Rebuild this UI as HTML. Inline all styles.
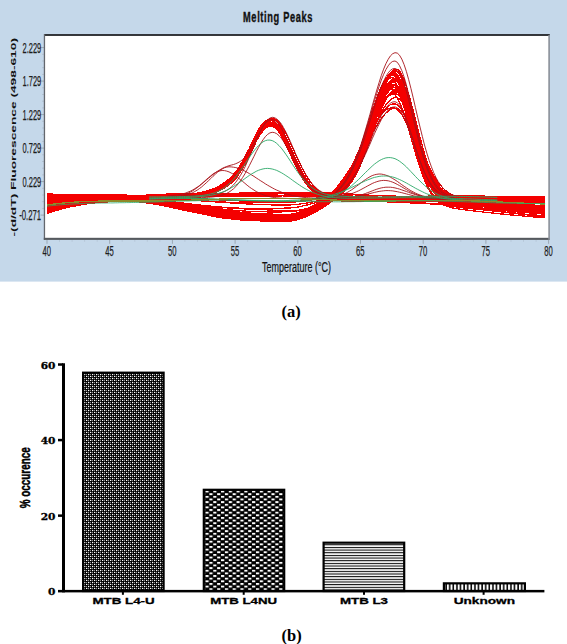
<!DOCTYPE html>
<html><head><meta charset="utf-8"><title>Melting Peaks</title>
<style>
html,body{margin:0;padding:0;background:#fff;}
body{width:567px;height:644px;overflow:hidden;}
svg{display:block;font-family:"Liberation Sans",sans-serif;}
.ser{font-family:"Liberation Serif",serif;font-weight:bold;}
.dser{font-family:"DejaVu Serif","Liberation Serif",serif;font-weight:bold;}
</style></head><body>
<svg width="567" height="644" viewBox="0 0 567 644">
<defs>
<clipPath id="cp"><rect x="45" y="36" width="503.3" height="201.8"/></clipPath>
<pattern id="p1" width="4" height="4" patternUnits="userSpaceOnUse" x="84" y="374"><rect width="4" height="4" fill="#000"/><rect x="0" y="0" width="1.3" height="1" fill="#fff"/><rect x="2" y="2" width="1.3" height="1" fill="#fff"/><rect x="2" y="-0.3" width="1" height="1.6" fill="#8a8a8a"/><rect x="0" y="1.7" width="1" height="1.6" fill="#8a8a8a"/></pattern>
<pattern id="p2" width="7.76" height="5.28" patternUnits="userSpaceOnUse" x="205.5" y="490.6"><rect width="7.76" height="5.28" fill="#000"/><rect x="0" y="0" width="3.2" height="1.9" fill="#fff"/><rect x="3.88" y="2.64" width="3.2" height="1.9" fill="#fff"/></pattern>
<pattern id="p3" width="10" height="2.66" patternUnits="userSpaceOnUse" y="544.25"><rect width="10" height="2.66" fill="#fff"/><rect y="0" width="10" height="1.05" fill="#000"/></pattern>
<pattern id="p4" width="3.6" height="10" patternUnits="userSpaceOnUse" x="446.9"><rect width="3.6" height="10" fill="#000"/><rect x="-0.1" y="0" width="2.15" height="10" fill="#fff"/></pattern>
</defs>
<rect x="0" y="0" width="567" height="281.6" fill="#c5d8ea"/>
<rect x="44" y="35" width="505" height="204" fill="#fff"/>
<line x1="40.5" y1="215.1" x2="44" y2="215.1" stroke="#9ba7b3" stroke-width="1"/>
<line x1="42" y1="208.4" x2="44" y2="208.4" stroke="#b3c3d3" stroke-width="1"/>
<line x1="42" y1="201.7" x2="44" y2="201.7" stroke="#b3c3d3" stroke-width="1"/>
<line x1="42" y1="195.0" x2="44" y2="195.0" stroke="#b3c3d3" stroke-width="1"/>
<line x1="42" y1="188.3" x2="44" y2="188.3" stroke="#b3c3d3" stroke-width="1"/>
<line x1="40.5" y1="181.6" x2="44" y2="181.6" stroke="#9ba7b3" stroke-width="1"/>
<line x1="42" y1="174.9" x2="44" y2="174.9" stroke="#b3c3d3" stroke-width="1"/>
<line x1="42" y1="168.2" x2="44" y2="168.2" stroke="#b3c3d3" stroke-width="1"/>
<line x1="42" y1="161.5" x2="44" y2="161.5" stroke="#b3c3d3" stroke-width="1"/>
<line x1="42" y1="154.8" x2="44" y2="154.8" stroke="#b3c3d3" stroke-width="1"/>
<line x1="40.5" y1="148.1" x2="44" y2="148.1" stroke="#9ba7b3" stroke-width="1"/>
<line x1="42" y1="141.4" x2="44" y2="141.4" stroke="#b3c3d3" stroke-width="1"/>
<line x1="42" y1="134.7" x2="44" y2="134.7" stroke="#b3c3d3" stroke-width="1"/>
<line x1="42" y1="128.0" x2="44" y2="128.0" stroke="#b3c3d3" stroke-width="1"/>
<line x1="42" y1="121.3" x2="44" y2="121.3" stroke="#b3c3d3" stroke-width="1"/>
<line x1="40.5" y1="114.6" x2="44" y2="114.6" stroke="#9ba7b3" stroke-width="1"/>
<line x1="42" y1="107.9" x2="44" y2="107.9" stroke="#b3c3d3" stroke-width="1"/>
<line x1="42" y1="101.2" x2="44" y2="101.2" stroke="#b3c3d3" stroke-width="1"/>
<line x1="42" y1="94.5" x2="44" y2="94.5" stroke="#b3c3d3" stroke-width="1"/>
<line x1="42" y1="87.8" x2="44" y2="87.8" stroke="#b3c3d3" stroke-width="1"/>
<line x1="40.5" y1="81.1" x2="44" y2="81.1" stroke="#9ba7b3" stroke-width="1"/>
<line x1="42" y1="74.4" x2="44" y2="74.4" stroke="#b3c3d3" stroke-width="1"/>
<line x1="42" y1="67.7" x2="44" y2="67.7" stroke="#b3c3d3" stroke-width="1"/>
<line x1="42" y1="61.0" x2="44" y2="61.0" stroke="#b3c3d3" stroke-width="1"/>
<line x1="42" y1="54.3" x2="44" y2="54.3" stroke="#b3c3d3" stroke-width="1"/>
<line x1="40.5" y1="47.6" x2="44" y2="47.6" stroke="#9ba7b3" stroke-width="1"/>
<text x="41.2" y="52.5" text-anchor="end" font-size="15" textLength="18.7" lengthAdjust="spacingAndGlyphs" fill="#1c1c1c" stroke="#1c1c1c" stroke-width="0.25">2.229</text>
<text x="41.2" y="86.0" text-anchor="end" font-size="15" textLength="18.7" lengthAdjust="spacingAndGlyphs" fill="#1c1c1c" stroke="#1c1c1c" stroke-width="0.25">1.729</text>
<text x="41.2" y="119.5" text-anchor="end" font-size="15" textLength="18.7" lengthAdjust="spacingAndGlyphs" fill="#1c1c1c" stroke="#1c1c1c" stroke-width="0.25">1.229</text>
<text x="41.2" y="153.0" text-anchor="end" font-size="15" textLength="18.7" lengthAdjust="spacingAndGlyphs" fill="#1c1c1c" stroke="#1c1c1c" stroke-width="0.25">0.729</text>
<text x="41.2" y="186.5" text-anchor="end" font-size="15" textLength="18.7" lengthAdjust="spacingAndGlyphs" fill="#1c1c1c" stroke="#1c1c1c" stroke-width="0.25">0.229</text>
<text x="41.2" y="220.0" text-anchor="end" font-size="15" textLength="22" lengthAdjust="spacingAndGlyphs" fill="#1c1c1c" stroke="#1c1c1c" stroke-width="0.25">-0.271</text>
<line x1="47.0" y1="239.8" x2="47.0" y2="243.8" stroke="#9ba7b3" stroke-width="1"/>
<line x1="59.5" y1="239.8" x2="59.5" y2="241.8" stroke="#b7c8d9" stroke-width="1"/>
<line x1="72.1" y1="239.8" x2="72.1" y2="241.8" stroke="#b7c8d9" stroke-width="1"/>
<line x1="84.6" y1="239.8" x2="84.6" y2="241.8" stroke="#b7c8d9" stroke-width="1"/>
<line x1="97.2" y1="239.8" x2="97.2" y2="241.8" stroke="#b7c8d9" stroke-width="1"/>
<line x1="109.7" y1="239.8" x2="109.7" y2="243.8" stroke="#9ba7b3" stroke-width="1"/>
<line x1="122.2" y1="239.8" x2="122.2" y2="241.8" stroke="#b7c8d9" stroke-width="1"/>
<line x1="134.8" y1="239.8" x2="134.8" y2="241.8" stroke="#b7c8d9" stroke-width="1"/>
<line x1="147.3" y1="239.8" x2="147.3" y2="241.8" stroke="#b7c8d9" stroke-width="1"/>
<line x1="159.9" y1="239.8" x2="159.9" y2="241.8" stroke="#b7c8d9" stroke-width="1"/>
<line x1="172.4" y1="239.8" x2="172.4" y2="243.8" stroke="#9ba7b3" stroke-width="1"/>
<line x1="184.9" y1="239.8" x2="184.9" y2="241.8" stroke="#b7c8d9" stroke-width="1"/>
<line x1="197.5" y1="239.8" x2="197.5" y2="241.8" stroke="#b7c8d9" stroke-width="1"/>
<line x1="210.0" y1="239.8" x2="210.0" y2="241.8" stroke="#b7c8d9" stroke-width="1"/>
<line x1="222.6" y1="239.8" x2="222.6" y2="241.8" stroke="#b7c8d9" stroke-width="1"/>
<line x1="235.1" y1="239.8" x2="235.1" y2="243.8" stroke="#9ba7b3" stroke-width="1"/>
<line x1="247.6" y1="239.8" x2="247.6" y2="241.8" stroke="#b7c8d9" stroke-width="1"/>
<line x1="260.2" y1="239.8" x2="260.2" y2="241.8" stroke="#b7c8d9" stroke-width="1"/>
<line x1="272.7" y1="239.8" x2="272.7" y2="241.8" stroke="#b7c8d9" stroke-width="1"/>
<line x1="285.3" y1="239.8" x2="285.3" y2="241.8" stroke="#b7c8d9" stroke-width="1"/>
<line x1="297.8" y1="239.8" x2="297.8" y2="243.8" stroke="#9ba7b3" stroke-width="1"/>
<line x1="310.3" y1="239.8" x2="310.3" y2="241.8" stroke="#b7c8d9" stroke-width="1"/>
<line x1="322.9" y1="239.8" x2="322.9" y2="241.8" stroke="#b7c8d9" stroke-width="1"/>
<line x1="335.4" y1="239.8" x2="335.4" y2="241.8" stroke="#b7c8d9" stroke-width="1"/>
<line x1="348.0" y1="239.8" x2="348.0" y2="241.8" stroke="#b7c8d9" stroke-width="1"/>
<line x1="360.5" y1="239.8" x2="360.5" y2="243.8" stroke="#9ba7b3" stroke-width="1"/>
<line x1="373.0" y1="239.8" x2="373.0" y2="241.8" stroke="#b7c8d9" stroke-width="1"/>
<line x1="385.6" y1="239.8" x2="385.6" y2="241.8" stroke="#b7c8d9" stroke-width="1"/>
<line x1="398.1" y1="239.8" x2="398.1" y2="241.8" stroke="#b7c8d9" stroke-width="1"/>
<line x1="410.7" y1="239.8" x2="410.7" y2="241.8" stroke="#b7c8d9" stroke-width="1"/>
<line x1="423.2" y1="239.8" x2="423.2" y2="243.8" stroke="#9ba7b3" stroke-width="1"/>
<line x1="435.7" y1="239.8" x2="435.7" y2="241.8" stroke="#b7c8d9" stroke-width="1"/>
<line x1="448.3" y1="239.8" x2="448.3" y2="241.8" stroke="#b7c8d9" stroke-width="1"/>
<line x1="460.8" y1="239.8" x2="460.8" y2="241.8" stroke="#b7c8d9" stroke-width="1"/>
<line x1="473.4" y1="239.8" x2="473.4" y2="241.8" stroke="#b7c8d9" stroke-width="1"/>
<line x1="485.9" y1="239.8" x2="485.9" y2="243.8" stroke="#9ba7b3" stroke-width="1"/>
<line x1="498.4" y1="239.8" x2="498.4" y2="241.8" stroke="#b7c8d9" stroke-width="1"/>
<line x1="511.0" y1="239.8" x2="511.0" y2="241.8" stroke="#b7c8d9" stroke-width="1"/>
<line x1="523.5" y1="239.8" x2="523.5" y2="241.8" stroke="#b7c8d9" stroke-width="1"/>
<line x1="536.1" y1="239.8" x2="536.1" y2="241.8" stroke="#b7c8d9" stroke-width="1"/>
<line x1="548.6" y1="239.8" x2="548.6" y2="243.8" stroke="#9ba7b3" stroke-width="1"/>
<text x="46.8" y="256.1" text-anchor="middle" font-size="15" textLength="8.5" lengthAdjust="spacingAndGlyphs" fill="#1c1c1c" stroke="#1c1c1c" stroke-width="0.25">40</text>
<text x="109.5" y="256.1" text-anchor="middle" font-size="15" textLength="8.5" lengthAdjust="spacingAndGlyphs" fill="#1c1c1c" stroke="#1c1c1c" stroke-width="0.25">45</text>
<text x="172.2" y="256.1" text-anchor="middle" font-size="15" textLength="8.5" lengthAdjust="spacingAndGlyphs" fill="#1c1c1c" stroke="#1c1c1c" stroke-width="0.25">50</text>
<text x="234.9" y="256.1" text-anchor="middle" font-size="15" textLength="8.5" lengthAdjust="spacingAndGlyphs" fill="#1c1c1c" stroke="#1c1c1c" stroke-width="0.25">55</text>
<text x="297.6" y="256.1" text-anchor="middle" font-size="15" textLength="8.5" lengthAdjust="spacingAndGlyphs" fill="#1c1c1c" stroke="#1c1c1c" stroke-width="0.25">60</text>
<text x="360.3" y="256.1" text-anchor="middle" font-size="15" textLength="8.5" lengthAdjust="spacingAndGlyphs" fill="#1c1c1c" stroke="#1c1c1c" stroke-width="0.25">65</text>
<text x="423.0" y="256.1" text-anchor="middle" font-size="15" textLength="8.5" lengthAdjust="spacingAndGlyphs" fill="#1c1c1c" stroke="#1c1c1c" stroke-width="0.25">70</text>
<text x="485.7" y="256.1" text-anchor="middle" font-size="15" textLength="8.5" lengthAdjust="spacingAndGlyphs" fill="#1c1c1c" stroke="#1c1c1c" stroke-width="0.25">75</text>
<text x="548.4" y="256.1" text-anchor="middle" font-size="15" textLength="8.5" lengthAdjust="spacingAndGlyphs" fill="#1c1c1c" stroke="#1c1c1c" stroke-width="0.25">80</text>
<g clip-path="url(#cp)" stroke-linejoin="round" shape-rendering="crispEdges">
<polyline points="47.0,197.8 49.3,197.7 51.5,197.7 53.8,197.6 56.1,197.6 58.4,197.5 60.6,197.5 62.9,197.5 65.2,197.5 67.5,197.4 69.7,197.4 72.0,197.4 74.3,197.4 76.6,197.4 78.8,197.5 81.1,197.5 83.4,197.5 85.7,197.5 87.9,197.5 90.2,197.6 92.5,197.6 94.8,197.6 97.0,197.7 99.3,197.7 101.6,197.7 103.9,197.8 106.1,197.8 108.4,197.8 110.7,197.9 113.0,197.9 115.2,197.9 117.5,198.0 119.8,198.0 122.1,198.0 124.3,198.0 126.6,198.1 128.9,198.1 131.2,198.1 133.4,198.1 135.7,198.1 138.0,198.1 140.2,198.1 142.5,198.1 144.8,198.1 147.1,198.1 149.3,198.1 151.6,198.1 153.9,198.0 156.2,198.0 158.4,198.0 160.7,197.9 163.0,197.9 165.3,197.8 167.5,197.8 169.8,197.7 172.1,197.6 174.4,197.5 176.6,197.4 178.9,197.3 181.2,197.1 183.5,196.9 185.7,196.7 188.0,196.4 190.3,196.1 192.6,195.7 194.8,195.3 197.1,194.8 199.4,194.3 201.7,193.7 203.9,193.1 206.2,192.4 208.5,191.6 210.8,190.8 213.0,189.9 215.3,189.0 217.6,188.0 219.9,187.0 222.1,185.9 224.4,184.6 226.7,183.2 229.0,181.7 231.2,179.9 233.5,177.9 235.8,175.5 238.0,172.8 240.3,169.8 242.6,166.4 244.9,162.7 247.1,158.6 249.4,154.4 251.7,150.0 254.0,145.6 256.2,141.2 258.5,137.2 260.8,133.4 263.1,130.2 265.3,127.7 267.6,125.9 269.9,125.0 272.2,124.9 274.4,125.8 276.7,127.4 279.0,129.7 281.3,132.7 283.5,136.3 285.8,140.4 288.1,144.8 290.4,149.5 292.6,154.3 294.9,159.0 297.2,163.7 299.5,168.2 301.7,172.4 304.0,176.3 306.3,179.9 308.6,183.1 310.8,185.9 313.1,188.4 315.4,190.5 317.7,192.4 319.9,193.9 322.2,195.2 324.5,196.3 326.7,197.2 329.0,198.0 331.3,198.6 333.6,199.1 335.8,199.5 338.1,199.7 340.4,200.0 342.7,200.1 344.9,200.2 347.2,200.3 349.5,200.3 351.8,200.4 354.0,200.4 356.3,200.4 358.6,200.3 360.9,200.3 363.1,200.3 365.4,200.2 367.7,200.2 370.0,200.1 372.2,200.1 374.5,200.0 376.8,199.9 379.1,199.9 381.3,199.8 383.6,199.7 385.9,199.6 388.2,199.6 390.4,199.5 392.7,199.4 395.0,199.4 397.3,199.3 399.5,199.3 401.8,199.2 404.1,199.2 406.4,199.1 408.6,199.1 410.9,199.1 413.2,199.0 415.4,199.0 417.7,199.0 420.0,199.0 422.3,199.0 424.5,199.0 426.8,199.0 429.1,199.1 431.4,199.1 433.6,199.1 435.9,199.2 438.2,199.2 440.5,199.3 442.7,199.3 445.0,199.4 447.3,199.5 449.6,199.5 451.8,199.6 454.1,199.7 456.4,199.8 458.7,199.9 460.9,200.0 463.2,200.1 465.5,200.2 467.8,200.3 470.0,200.4 472.3,200.6 474.6,200.7 476.9,200.8 479.1,200.9 481.4,201.0 483.7,201.2 486.0,201.3 488.2,201.4 490.5,201.6 492.8,201.7 495.1,201.8 497.3,201.9 499.6,202.1 501.9,202.2 504.1,202.3 506.4,202.4 508.7,202.6 511.0,202.7 513.2,202.8 515.5,202.9 517.8,203.0 520.1,203.1 522.3,203.2 524.6,203.3 526.9,203.4 529.2,203.5 531.4,203.6 533.7,203.7 536.0,203.8 538.3,203.8 540.5,203.9 542.8,204.0 545.1,204.1" fill="none" stroke="#f40000" stroke-width="1.3"/>
<polyline points="47.0,212.5 49.3,211.8 51.5,211.1 53.8,210.5 56.1,209.8 58.4,209.2 60.6,208.7 62.9,208.1 65.2,207.6 67.5,207.1 69.7,206.6 72.0,206.2 74.3,205.7 76.6,205.3 78.8,204.9 81.1,204.5 83.4,204.2 85.7,203.9 87.9,203.5 90.2,203.2 92.5,202.9 94.8,202.7 97.0,202.4 99.3,202.2 101.6,201.9 103.9,201.7 106.1,201.5 108.4,201.3 110.7,201.2 113.0,201.0 115.2,200.8 117.5,200.7 119.8,200.6 122.1,200.5 124.3,200.3 126.6,200.2 128.9,200.2 131.2,200.1 133.4,200.0 135.7,200.0 138.0,199.9 140.2,199.9 142.5,199.8 144.8,199.8 147.1,199.8 149.3,199.8 151.6,199.7 153.9,199.7 156.2,199.7 158.4,199.7 160.7,199.7 163.0,199.7 165.3,199.7 167.5,199.7 169.8,199.7 172.1,199.7 174.4,199.7 176.6,199.6 178.9,199.6 181.2,199.5 183.5,199.4 185.7,199.2 188.0,199.0 190.3,198.8 192.6,198.5 194.8,198.1 197.1,197.8 199.4,197.3 201.7,196.8 203.9,196.2 206.2,195.6 208.5,194.9 210.8,194.1 213.0,193.3 215.3,192.4 217.6,191.4 219.9,190.4 222.1,189.3 224.4,188.0 226.7,186.6 229.0,184.9 231.2,183.1 233.5,180.9 235.8,178.4 238.0,175.5 240.3,172.2 242.6,168.5 244.9,164.5 247.1,160.1 249.4,155.4 251.7,150.6 254.0,145.8 256.2,141.0 258.5,136.4 260.8,132.3 263.1,128.7 265.3,125.8 267.6,123.7 269.9,122.5 272.2,122.3 274.4,123.1 276.7,124.8 279.0,127.5 281.3,130.9 283.5,135.1 285.8,139.7 288.1,144.8 290.4,150.1 292.6,155.4 294.9,160.7 297.2,165.8 299.5,170.6 301.7,175.0 304.0,179.0 306.3,182.6 308.6,185.7 310.8,188.4 313.1,190.7 315.4,192.7 317.7,194.3 319.9,195.6 322.2,196.7 324.5,197.6 326.7,198.3 329.0,198.9 331.3,199.4 333.6,199.8 335.8,200.1 338.1,200.3 340.4,200.5 342.7,200.6 344.9,200.7 347.2,200.8 349.5,200.9 351.8,200.9 354.0,201.0 356.3,201.0 358.6,201.1 360.9,201.1 363.1,201.2 365.4,201.2 367.7,201.2 370.0,201.2 372.2,201.3 374.5,201.3 376.8,201.3 379.1,201.3 381.3,201.3 383.6,201.3 385.9,201.3 388.2,201.3 390.4,201.3 392.7,201.3 395.0,201.4 397.3,201.4 399.5,201.4 401.8,201.4 404.1,201.4 406.4,201.4 408.6,201.4 410.9,201.4 413.2,201.4 415.4,201.4 417.7,201.4 420.0,201.4 422.3,201.4 424.5,201.4 426.8,201.4 429.1,201.3 431.4,201.3 433.6,201.3 435.9,201.3 438.2,201.3 440.5,201.3 442.7,201.3 445.0,201.2 447.3,201.2 449.6,201.2 451.8,201.2 454.1,201.2 456.4,201.2 458.7,201.1 460.9,201.1 463.2,201.1 465.5,201.1 467.8,201.1 470.0,201.0 472.3,201.0 474.6,201.0 476.9,201.0 479.1,201.0 481.4,201.0 483.7,201.0 486.0,201.0 488.2,201.0 490.5,201.0 492.8,201.0 495.1,201.0 497.3,201.0 499.6,201.0 501.9,201.0 504.1,201.1 506.4,201.1 508.7,201.1 511.0,201.2 513.2,201.2 515.5,201.2 517.8,201.3 520.1,201.4 522.3,201.4 524.6,201.5 526.9,201.5 529.2,201.6 531.4,201.7 533.7,201.8 536.0,201.9 538.3,201.9 540.5,202.0 542.8,202.1 545.1,202.2" fill="none" stroke="#f40000" stroke-width="1.3"/>
<polyline points="47.0,201.8 49.3,201.6 51.5,201.5 53.8,201.3 56.1,201.2 58.4,201.0 60.6,200.9 62.9,200.8 65.2,200.6 67.5,200.5 69.7,200.4 72.0,200.3 74.3,200.1 76.6,200.0 78.8,199.9 81.1,199.8 83.4,199.7 85.7,199.6 87.9,199.4 90.2,199.3 92.5,199.2 94.8,199.1 97.0,199.0 99.3,198.9 101.6,198.8 103.9,198.7 106.1,198.6 108.4,198.5 110.7,198.4 113.0,198.3 115.2,198.2 117.5,198.1 119.8,198.0 122.1,197.9 124.3,197.8 126.6,197.7 128.9,197.6 131.2,197.5 133.4,197.4 135.7,197.4 138.0,197.3 140.2,197.2 142.5,197.1 144.8,197.1 147.1,197.0 149.3,197.0 151.6,196.9 153.9,196.9 156.2,196.8 158.4,196.8 160.7,196.8 163.0,196.7 165.3,196.7 167.5,196.7 169.8,196.6 172.1,196.6 174.4,196.5 176.6,196.5 178.9,196.4 181.2,196.3 183.5,196.2 185.7,196.0 188.0,195.8 190.3,195.6 192.6,195.3 194.8,195.0 197.1,194.6 199.4,194.2 201.7,193.8 203.9,193.2 206.2,192.6 208.5,192.0 210.8,191.3 213.0,190.6 215.3,189.8 217.6,189.0 219.9,188.1 222.1,187.1 224.4,186.0 226.7,184.8 229.0,183.4 231.2,181.8 233.5,179.8 235.8,177.6 238.0,174.9 240.3,171.9 242.6,168.4 244.9,164.6 247.1,160.4 249.4,155.9 251.7,151.2 254.0,146.4 256.2,141.6 258.5,137.1 260.8,132.8 263.1,129.1 265.3,126.1 267.6,123.9 269.9,122.5 272.2,122.1 274.4,122.7 276.7,124.2 279.0,126.5 281.3,129.5 283.5,133.2 285.8,137.4 288.1,142.0 290.4,146.9 292.6,152.0 294.9,157.0 297.2,161.9 299.5,166.6 301.7,171.1 304.0,175.2 306.3,178.9 308.6,182.2 310.8,185.1 313.1,187.7 315.4,189.8 317.7,191.7 319.9,193.2 322.2,194.4 324.5,195.5 326.7,196.3 329.0,197.0 331.3,197.5 333.6,197.9 335.8,198.2 338.1,198.4 340.4,198.5 342.7,198.6 344.9,198.6 347.2,198.6 349.5,198.6 351.8,198.6 354.0,198.6 356.3,198.5 358.6,198.5 360.9,198.5 363.1,198.4 365.4,198.4 367.7,198.3 370.0,198.3 372.2,198.2 374.5,198.2 376.8,198.2 379.1,198.1 381.3,198.1 383.6,198.1 385.9,198.0 388.2,198.0 390.4,198.0 392.7,198.0 395.0,198.0 397.3,198.0 399.5,198.0 401.8,198.0 404.1,198.1 406.4,198.1 408.6,198.1 410.9,198.1 413.2,198.2 415.4,198.2 417.7,198.2 420.0,198.3 422.3,198.3 424.5,198.4 426.8,198.4 429.1,198.5 431.4,198.5 433.6,198.6 435.9,198.6 438.2,198.7 440.5,198.7 442.7,198.8 445.0,198.8 447.3,198.9 449.6,198.9 451.8,198.9 454.1,199.0 456.4,199.0 458.7,199.0 460.9,199.0 463.2,199.1 465.5,199.1 467.8,199.1 470.0,199.1 472.3,199.1 474.6,199.1 476.9,199.1 479.1,199.1 481.4,199.1 483.7,199.0 486.0,199.0 488.2,199.0 490.5,199.0 492.8,198.9 495.1,198.9 497.3,198.9 499.6,198.9 501.9,198.8 504.1,198.8 506.4,198.7 508.7,198.7 511.0,198.7 513.2,198.6 515.5,198.6 517.8,198.5 520.1,198.5 522.3,198.5 524.6,198.4 526.9,198.4 529.2,198.4 531.4,198.3 533.7,198.3 536.0,198.3 538.3,198.3 540.5,198.3 542.8,198.2 545.1,198.2" fill="none" stroke="#f40000" stroke-width="1.3"/>
<polyline points="47.0,197.9 49.3,198.0 51.5,198.1 53.8,198.1 56.1,198.2 58.4,198.3 60.6,198.3 62.9,198.4 65.2,198.4 67.5,198.5 69.7,198.5 72.0,198.5 74.3,198.6 76.6,198.6 78.8,198.6 81.1,198.7 83.4,198.7 85.7,198.7 87.9,198.7 90.2,198.7 92.5,198.7 94.8,198.7 97.0,198.7 99.3,198.7 101.6,198.7 103.9,198.6 106.1,198.6 108.4,198.6 110.7,198.5 113.0,198.5 115.2,198.5 117.5,198.4 119.8,198.4 122.1,198.3 124.3,198.3 126.6,198.2 128.9,198.2 131.2,198.1 133.4,198.1 135.7,198.0 138.0,198.0 140.2,197.9 142.5,197.8 144.8,197.8 147.1,197.7 149.3,197.7 151.6,197.6 153.9,197.6 156.2,197.5 158.4,197.5 160.7,197.4 163.0,197.4 165.3,197.3 167.5,197.3 169.8,197.2 172.1,197.2 174.4,197.1 176.6,197.0 178.9,196.9 181.2,196.8 183.5,196.6 185.7,196.5 188.0,196.2 190.3,196.0 192.6,195.7 194.8,195.4 197.1,195.0 199.4,194.5 201.7,194.0 203.9,193.5 206.2,192.8 208.5,192.2 210.8,191.4 213.0,190.7 215.3,189.8 217.6,188.9 219.9,187.9 222.1,186.8 224.4,185.5 226.7,184.1 229.0,182.6 231.2,180.7 233.5,178.6 235.8,176.2 238.0,173.4 240.3,170.2 242.6,166.6 244.9,162.8 247.1,158.6 249.4,154.2 251.7,149.8 254.0,145.3 256.2,140.9 258.5,136.9 260.8,133.3 263.1,130.3 265.3,127.9 267.6,126.4 269.9,125.8 272.2,126.1 274.4,127.2 276.7,129.2 279.0,131.9 281.3,135.3 283.5,139.3 285.8,143.7 288.1,148.3 290.4,153.2 292.6,158.1 294.9,162.9 297.2,167.6 299.5,172.0 301.7,176.1 304.0,179.8 306.3,183.1 308.6,186.0 310.8,188.6 313.1,190.8 315.4,192.6 317.7,194.2 319.9,195.5 322.2,196.5 324.5,197.4 326.7,198.0 329.0,198.6 331.3,199.0 333.6,199.4 335.8,199.6 338.1,199.8 340.4,199.9 342.7,199.9 344.9,199.9 347.2,199.9 349.5,199.9 351.8,199.9 354.0,199.9 356.3,199.8 358.6,199.8 360.9,199.7 363.1,199.7 365.4,199.6 367.7,199.6 370.0,199.5 372.2,199.5 374.5,199.4 376.8,199.4 379.1,199.3 381.3,199.3 383.6,199.3 385.9,199.2 388.2,199.2 390.4,199.2 392.7,199.2 395.0,199.2 397.3,199.2 399.5,199.2 401.8,199.2 404.1,199.3 406.4,199.3 408.6,199.3 410.9,199.4 413.2,199.4 415.4,199.5 417.7,199.6 420.0,199.6 422.3,199.7 424.5,199.8 426.8,199.9 429.1,200.0 431.4,200.1 433.6,200.1 435.9,200.2 438.2,200.3 440.5,200.4 442.7,200.5 445.0,200.6 447.3,200.7 449.6,200.8 451.8,200.9 454.1,201.0 456.4,201.1 458.7,201.2 460.9,201.2 463.2,201.3 465.5,201.4 467.8,201.5 470.0,201.5 472.3,201.6 474.6,201.7 476.9,201.7 479.1,201.8 481.4,201.9 483.7,201.9 486.0,201.9 488.2,202.0 490.5,202.0 492.8,202.1 495.1,202.1 497.3,202.1 499.6,202.1 501.9,202.1 504.1,202.2 506.4,202.2 508.7,202.2 511.0,202.2 513.2,202.2 515.5,202.2 517.8,202.2 520.1,202.2 522.3,202.2 524.6,202.2 526.9,202.2 529.2,202.2 531.4,202.2 533.7,202.2 536.0,202.2 538.3,202.2 540.5,202.2 542.8,202.2 545.1,202.2" fill="none" stroke="#f40000" stroke-width="1.3"/>
<polyline points="47.0,195.9 49.3,195.8 51.5,195.8 53.8,195.8 56.1,195.7 58.4,195.7 60.6,195.7 62.9,195.7 65.2,195.7 67.5,195.7 69.7,195.7 72.0,195.7 74.3,195.7 76.6,195.7 78.8,195.7 81.1,195.7 83.4,195.8 85.7,195.8 87.9,195.8 90.2,195.9 92.5,195.9 94.8,195.9 97.0,196.0 99.3,196.0 101.6,196.1 103.9,196.1 106.1,196.2 108.4,196.2 110.7,196.3 113.0,196.3 115.2,196.4 117.5,196.4 119.8,196.5 122.1,196.6 124.3,196.6 126.6,196.7 128.9,196.7 131.2,196.7 133.4,196.8 135.7,196.8 138.0,196.9 140.2,196.9 142.5,196.9 144.8,197.0 147.1,197.0 149.3,197.0 151.6,197.0 153.9,197.0 156.2,197.0 158.4,197.0 160.7,197.0 163.0,197.0 165.3,197.0 167.5,197.0 169.8,196.9 172.1,196.9 174.4,196.8 176.6,196.7 178.9,196.6 181.2,196.4 183.5,196.3 185.7,196.0 188.0,195.8 190.3,195.5 192.6,195.1 194.8,194.7 197.1,194.2 199.4,193.7 201.7,193.1 203.9,192.4 206.2,191.7 208.5,190.9 210.8,190.0 213.0,189.0 215.3,188.0 217.6,186.8 219.9,185.6 222.1,184.2 224.4,182.7 226.7,181.0 229.0,179.1 231.2,177.0 233.5,174.5 235.8,171.7 238.0,168.6 240.3,165.1 242.6,161.2 244.9,157.1 247.1,152.7 249.4,148.2 251.7,143.6 254.0,139.1 256.2,134.8 258.5,130.8 260.8,127.3 263.1,124.4 265.3,122.2 267.6,120.9 269.9,120.4 272.2,120.9 274.4,122.3 276.7,124.5 279.0,127.5 281.3,131.2 283.5,135.4 285.8,140.1 288.1,145.1 290.4,150.3 292.6,155.4 294.9,160.5 297.2,165.3 299.5,169.8 301.7,174.1 304.0,177.9 306.3,181.3 308.6,184.3 310.8,186.9 313.1,189.1 315.4,191.0 317.7,192.6 319.9,193.9 322.2,195.0 324.5,195.9 326.7,196.7 329.0,197.3 331.3,197.7 333.6,198.1 335.8,198.4 338.1,198.6 340.4,198.8 342.7,198.9 344.9,198.9 347.2,199.0 349.5,199.0 351.8,199.0 354.0,199.0 356.3,199.0 358.6,198.9 360.9,198.9 363.1,198.8 365.4,198.7 367.7,198.7 370.0,198.6 372.2,198.5 374.5,198.4 376.8,198.3 379.1,198.2 381.3,198.1 383.6,198.0 385.9,197.9 388.2,197.8 390.4,197.7 392.7,197.5 395.0,197.4 397.3,197.3 399.5,197.2 401.8,197.1 404.1,197.0 406.4,196.9 408.6,196.8 410.9,196.7 413.2,196.6 415.4,196.5 417.7,196.4 420.0,196.4 422.3,196.3 424.5,196.2 426.8,196.2 429.1,196.1 431.4,196.0 433.6,196.0 435.9,196.0 438.2,195.9 440.5,195.9 442.7,195.8 445.0,195.8 447.3,195.8 449.6,195.8 451.8,195.8 454.1,195.8 456.4,195.8 458.7,195.8 460.9,195.8 463.2,195.8 465.5,195.8 467.8,195.9 470.0,195.9 472.3,195.9 474.6,196.0 476.9,196.0 479.1,196.0 481.4,196.1 483.7,196.1 486.0,196.2 488.2,196.2 490.5,196.3 492.8,196.4 495.1,196.4 497.3,196.5 499.6,196.5 501.9,196.6 504.1,196.7 506.4,196.7 508.7,196.8 511.0,196.9 513.2,196.9 515.5,197.0 517.8,197.1 520.1,197.1 522.3,197.2 524.6,197.2 526.9,197.3 529.2,197.3 531.4,197.4 533.7,197.4 536.0,197.5 538.3,197.5 540.5,197.6 542.8,197.6 545.1,197.6" fill="none" stroke="#f40000" stroke-width="1.3"/>
<polyline points="47.0,208.6 49.3,208.1 51.5,207.5 53.8,207.0 56.1,206.5 58.4,206.1 60.6,205.6 62.9,205.2 65.2,204.8 67.5,204.5 69.7,204.1 72.0,203.8 74.3,203.5 76.6,203.2 78.8,202.9 81.1,202.6 83.4,202.4 85.7,202.1 87.9,201.9 90.2,201.6 92.5,201.4 94.8,201.2 97.0,201.0 99.3,200.8 101.6,200.6 103.9,200.4 106.1,200.2 108.4,200.0 110.7,199.9 113.0,199.7 115.2,199.5 117.5,199.4 119.8,199.2 122.1,199.1 124.3,198.9 126.6,198.7 128.9,198.6 131.2,198.5 133.4,198.3 135.7,198.2 138.0,198.0 140.2,197.9 142.5,197.8 144.8,197.7 147.1,197.5 149.3,197.4 151.6,197.3 153.9,197.2 156.2,197.1 158.4,197.0 160.7,196.9 163.0,196.7 165.3,196.6 167.5,196.5 169.8,196.4 172.1,196.3 174.4,196.2 176.6,196.1 178.9,195.9 181.2,195.7 183.5,195.6 185.7,195.3 188.0,195.1 190.3,194.8 192.6,194.5 194.8,194.1 197.1,193.6 199.4,193.1 201.7,192.6 203.9,192.0 206.2,191.3 208.5,190.6 210.8,189.8 213.0,188.9 215.3,188.0 217.6,186.9 219.9,185.8 222.1,184.6 224.4,183.2 226.7,181.6 229.0,179.8 231.2,177.8 233.5,175.5 235.8,172.9 238.0,169.9 240.3,166.5 242.6,162.8 244.9,158.8 247.1,154.5 249.4,150.1 251.7,145.6 254.0,141.1 256.2,136.8 258.5,132.9 260.8,129.3 263.1,126.4 265.3,124.2 267.6,122.8 269.9,122.3 272.2,122.7 274.4,123.9 276.7,126.0 279.0,128.9 281.3,132.4 283.5,136.4 285.8,141.0 288.1,145.8 290.4,150.7 292.6,155.8 294.9,160.7 297.2,165.5 299.5,169.9 301.7,174.1 304.0,177.9 306.3,181.3 308.6,184.3 310.8,186.9 313.1,189.1 315.4,191.0 317.7,192.6 319.9,193.9 322.2,195.0 324.5,195.9 326.7,196.6 329.0,197.1 331.3,197.6 333.6,197.9 335.8,198.1 338.1,198.3 340.4,198.3 342.7,198.4 344.9,198.4 347.2,198.3 349.5,198.3 351.8,198.3 354.0,198.2 356.3,198.1 358.6,198.0 360.9,198.0 363.1,197.9 365.4,197.8 367.7,197.7 370.0,197.6 372.2,197.5 374.5,197.4 376.8,197.3 379.1,197.3 381.3,197.2 383.6,197.1 385.9,197.0 388.2,197.0 390.4,196.9 392.7,196.9 395.0,196.8 397.3,196.8 399.5,196.8 401.8,196.8 404.1,196.7 406.4,196.7 408.6,196.7 410.9,196.8 413.2,196.8 415.4,196.8 417.7,196.8 420.0,196.8 422.3,196.9 424.5,196.9 426.8,197.0 429.1,197.0 431.4,197.1 433.6,197.2 435.9,197.2 438.2,197.3 440.5,197.4 442.7,197.4 445.0,197.5 447.3,197.6 449.6,197.6 451.8,197.7 454.1,197.8 456.4,197.8 458.7,197.9 460.9,198.0 463.2,198.0 465.5,198.1 467.8,198.2 470.0,198.2 472.3,198.3 474.6,198.3 476.9,198.4 479.1,198.4 481.4,198.5 483.7,198.5 486.0,198.5 488.2,198.5 490.5,198.6 492.8,198.6 495.1,198.6 497.3,198.6 499.6,198.6 501.9,198.6 504.1,198.6 506.4,198.6 508.7,198.6 511.0,198.6 513.2,198.6 515.5,198.6 517.8,198.5 520.1,198.5 522.3,198.5 524.6,198.5 526.9,198.4 529.2,198.4 531.4,198.4 533.7,198.3 536.0,198.3 538.3,198.3 540.5,198.2 542.8,198.2 545.1,198.2" fill="none" stroke="#f40000" stroke-width="1.3"/>
<polyline points="47.0,201.3 49.3,201.1 51.5,200.9 53.8,200.7 56.1,200.5 58.4,200.4 60.6,200.2 62.9,200.0 65.2,199.9 67.5,199.7 69.7,199.6 72.0,199.4 74.3,199.3 76.6,199.1 78.8,199.0 81.1,198.8 83.4,198.7 85.7,198.6 87.9,198.4 90.2,198.3 92.5,198.2 94.8,198.1 97.0,198.0 99.3,197.9 101.6,197.8 103.9,197.7 106.1,197.6 108.4,197.5 110.7,197.4 113.0,197.3 115.2,197.3 117.5,197.2 119.8,197.1 122.1,197.1 124.3,197.0 126.6,197.0 128.9,197.0 131.2,196.9 133.4,196.9 135.7,196.9 138.0,196.9 140.2,196.9 142.5,196.9 144.8,196.9 147.1,196.9 149.3,196.9 151.6,196.9 153.9,196.9 156.2,196.9 158.4,196.9 160.7,197.0 163.0,197.0 165.3,197.0 167.5,197.0 169.8,197.0 172.1,197.0 174.4,197.0 176.6,197.0 178.9,197.0 181.2,196.9 183.5,196.8 185.7,196.7 188.0,196.6 190.3,196.4 192.6,196.1 194.8,195.8 197.1,195.4 199.4,195.0 201.7,194.5 203.9,194.0 206.2,193.4 208.5,192.8 210.8,192.1 213.0,191.3 215.3,190.5 217.6,189.6 219.9,188.7 222.1,187.6 224.4,186.4 226.7,185.1 229.0,183.5 231.2,181.7 233.5,179.6 235.8,177.1 238.0,174.2 240.3,170.9 242.6,167.1 244.9,162.9 247.1,158.3 249.4,153.4 251.7,148.3 254.0,143.2 256.2,138.1 258.5,133.3 260.8,128.9 263.1,125.1 265.3,122.1 267.6,119.9 269.9,118.8 272.2,118.7 274.4,119.6 276.7,121.5 279.0,124.2 281.3,127.8 283.5,131.9 285.8,136.6 288.1,141.7 290.4,147.0 292.6,152.3 294.9,157.6 297.2,162.8 299.5,167.6 301.7,172.1 304.0,176.2 306.3,179.8 308.6,183.1 310.8,185.9 313.1,188.3 315.4,190.3 317.7,192.0 319.9,193.4 322.2,194.5 324.5,195.5 326.7,196.2 329.0,196.8 331.3,197.3 333.6,197.7 335.8,198.0 338.1,198.2 340.4,198.3 342.7,198.4 344.9,198.5 347.2,198.5 349.5,198.6 351.8,198.6 354.0,198.6 356.3,198.6 358.6,198.6 360.9,198.6 363.1,198.6 365.4,198.6 367.7,198.6 370.0,198.6 372.2,198.6 374.5,198.6 376.8,198.6 379.1,198.6 381.3,198.5 383.6,198.5 385.9,198.5 388.2,198.5 390.4,198.5 392.7,198.5 395.0,198.5 397.3,198.5 399.5,198.5 401.8,198.5 404.1,198.5 406.4,198.4 408.6,198.4 410.9,198.4 413.2,198.4 415.4,198.4 417.7,198.4 420.0,198.4 422.3,198.4 424.5,198.4 426.8,198.4 429.1,198.4 431.4,198.3 433.6,198.3 435.9,198.3 438.2,198.3 440.5,198.3 442.7,198.2 445.0,198.2 447.3,198.2 449.6,198.1 451.8,198.1 454.1,198.1 456.4,198.0 458.7,198.0 460.9,197.9 463.2,197.9 465.5,197.8 467.8,197.8 470.0,197.7 472.3,197.7 474.6,197.6 476.9,197.5 479.1,197.5 481.4,197.4 483.7,197.4 486.0,197.3 488.2,197.3 490.5,197.2 492.8,197.2 495.1,197.1 497.3,197.1 499.6,197.0 501.9,197.0 504.1,197.0 506.4,196.9 508.7,196.9 511.0,196.9 513.2,196.9 515.5,196.8 517.8,196.8 520.1,196.8 522.3,196.8 524.6,196.8 526.9,196.8 529.2,196.8 531.4,196.8 533.7,196.8 536.0,196.8 538.3,196.9 540.5,196.9 542.8,196.9 545.1,197.0" fill="none" stroke="#f40000" stroke-width="1.3"/>
<polyline points="47.0,207.5 49.3,207.0 51.5,206.5 53.8,206.0 56.1,205.6 58.4,205.2 60.6,204.8 62.9,204.5 65.2,204.2 67.5,203.9 69.7,203.6 72.0,203.3 74.3,203.1 76.6,202.9 78.8,202.7 81.1,202.5 83.4,202.3 85.7,202.1 87.9,202.0 90.2,201.8 92.5,201.7 94.8,201.6 97.0,201.4 99.3,201.3 101.6,201.2 103.9,201.1 106.1,201.0 108.4,200.9 110.7,200.8 113.0,200.8 115.2,200.7 117.5,200.6 119.8,200.5 122.1,200.5 124.3,200.4 126.6,200.3 128.9,200.2 131.2,200.2 133.4,200.1 135.7,200.0 138.0,200.0 140.2,199.9 142.5,199.8 144.8,199.7 147.1,199.7 149.3,199.6 151.6,199.5 153.9,199.4 156.2,199.3 158.4,199.2 160.7,199.2 163.0,199.1 165.3,199.0 167.5,198.9 169.8,198.7 172.1,198.6 174.4,198.5 176.6,198.3 178.9,198.2 181.2,198.0 183.5,197.8 185.7,197.5 188.0,197.2 190.3,196.9 192.6,196.5 194.8,196.1 197.1,195.6 199.4,195.0 201.7,194.4 203.9,193.8 206.2,193.0 208.5,192.2 210.8,191.4 213.0,190.5 215.3,189.5 217.6,188.4 219.9,187.2 222.1,185.8 224.4,184.3 226.7,182.7 229.0,180.8 231.2,178.6 233.5,176.1 235.8,173.2 238.0,169.9 240.3,166.2 242.6,162.1 244.9,157.7 247.1,153.0 249.4,148.2 251.7,143.3 254.0,138.4 256.2,133.8 258.5,129.6 260.8,125.9 263.1,123.0 265.3,120.9 267.6,119.7 269.9,119.5 272.2,120.2 274.4,121.9 276.7,124.5 279.0,127.8 281.3,131.8 283.5,136.4 285.8,141.3 288.1,146.5 290.4,151.8 292.6,157.1 294.9,162.3 297.2,167.3 299.5,171.9 301.7,176.2 304.0,180.0 306.3,183.4 308.6,186.5 310.8,189.1 313.1,191.3 315.4,193.2 317.7,194.8 319.9,196.1 322.2,197.1 324.5,198.0 326.7,198.7 329.0,199.3 331.3,199.8 333.6,200.1 335.8,200.4 338.1,200.6 340.4,200.7 342.7,200.8 344.9,200.9 347.2,200.9 349.5,200.9 351.8,200.9 354.0,200.8 356.3,200.8 358.6,200.7 360.9,200.7 363.1,200.6 365.4,200.5 367.7,200.5 370.0,200.4 372.2,200.3 374.5,200.2 376.8,200.1 379.1,200.0 381.3,199.9 383.6,199.8 385.9,199.8 388.2,199.7 390.4,199.6 392.7,199.5 395.0,199.4 397.3,199.4 399.5,199.3 401.8,199.2 404.1,199.2 406.4,199.1 408.6,199.1 410.9,199.1 413.2,199.0 415.4,199.0 417.7,199.0 420.0,199.0 422.3,199.0 424.5,199.0 426.8,199.0 429.1,199.1 431.4,199.1 433.6,199.1 435.9,199.2 438.2,199.2 440.5,199.3 442.7,199.3 445.0,199.4 447.3,199.5 449.6,199.5 451.8,199.6 454.1,199.7 456.4,199.8 458.7,199.9 460.9,200.0 463.2,200.1 465.5,200.2 467.8,200.3 470.0,200.4 472.3,200.5 474.6,200.6 476.9,200.7 479.1,200.8 481.4,200.9 483.7,201.0 486.0,201.1 488.2,201.2 490.5,201.3 492.8,201.4 495.1,201.5 497.3,201.6 499.6,201.7 501.9,201.8 504.1,201.9 506.4,202.0 508.7,202.1 511.0,202.2 513.2,202.2 515.5,202.3 517.8,202.4 520.1,202.5 522.3,202.5 524.6,202.6 526.9,202.6 529.2,202.7 531.4,202.7 533.7,202.8 536.0,202.8 538.3,202.9 540.5,202.9 542.8,202.9 545.1,202.9" fill="none" stroke="#f40000" stroke-width="1.3"/>
<polyline points="47.0,198.7 49.3,198.6 51.5,198.5 53.8,198.3 56.1,198.2 58.4,198.1 60.6,198.0 62.9,197.9 65.2,197.8 67.5,197.7 69.7,197.6 72.0,197.5 74.3,197.4 76.6,197.3 78.8,197.2 81.1,197.1 83.4,197.0 85.7,196.9 87.9,196.8 90.2,196.7 92.5,196.6 94.8,196.6 97.0,196.5 99.3,196.4 101.6,196.3 103.9,196.3 106.1,196.2 108.4,196.2 110.7,196.1 113.0,196.1 115.2,196.0 117.5,196.0 119.8,196.0 122.1,196.0 124.3,195.9 126.6,195.9 128.9,195.9 131.2,195.9 133.4,195.9 135.7,195.9 138.0,195.9 140.2,195.9 142.5,196.0 144.8,196.0 147.1,196.0 149.3,196.0 151.6,196.1 153.9,196.1 156.2,196.1 158.4,196.2 160.7,196.2 163.0,196.2 165.3,196.3 167.5,196.3 169.8,196.3 172.1,196.3 174.4,196.3 176.6,196.3 178.9,196.3 181.2,196.2 183.5,196.2 185.7,196.0 188.0,195.9 190.3,195.7 192.6,195.4 194.8,195.1 197.1,194.7 199.4,194.3 201.7,193.8 203.9,193.2 206.2,192.6 208.5,191.9 210.8,191.2 213.0,190.3 215.3,189.4 217.6,188.4 219.9,187.4 222.1,186.2 224.4,184.8 226.7,183.3 229.0,181.6 231.2,179.7 233.5,177.5 235.8,174.9 238.0,171.9 240.3,168.6 242.6,165.0 244.9,161.0 247.1,156.7 249.4,152.3 251.7,147.8 254.0,143.2 256.2,138.9 258.5,134.9 260.8,131.3 263.1,128.3 265.3,126.0 267.6,124.5 269.9,123.9 272.2,124.2 274.4,125.3 276.7,127.2 279.0,129.8 281.3,133.0 283.5,136.7 285.8,140.9 288.1,145.4 290.4,150.0 292.6,154.7 294.9,159.4 297.2,163.9 299.5,168.2 301.7,172.2 304.0,175.9 306.3,179.3 308.6,182.3 310.8,184.9 313.1,187.2 315.4,189.1 317.7,190.8 319.9,192.2 322.2,193.4 324.5,194.4 326.7,195.2 329.0,195.9 331.3,196.4 333.6,196.8 335.8,197.2 338.1,197.4 340.4,197.6 342.7,197.7 344.9,197.8 347.2,197.9 349.5,198.0 351.8,198.0 354.0,198.1 356.3,198.1 358.6,198.1 360.9,198.1 363.1,198.1 365.4,198.2 367.7,198.2 370.0,198.2 372.2,198.2 374.5,198.2 376.8,198.2 379.1,198.2 381.3,198.2 383.6,198.2 385.9,198.1 388.2,198.1 390.4,198.1 392.7,198.1 395.0,198.1 397.3,198.1 399.5,198.1 401.8,198.1 404.1,198.1 406.4,198.1 408.6,198.1 410.9,198.1 413.2,198.1 415.4,198.1 417.7,198.1 420.0,198.1 422.3,198.0 424.5,198.0 426.8,198.0 429.1,198.0 431.4,198.0 433.6,198.0 435.9,197.9 438.2,197.9 440.5,197.9 442.7,197.9 445.0,197.8 447.3,197.8 449.6,197.8 451.8,197.7 454.1,197.7 456.4,197.7 458.7,197.6 460.9,197.6 463.2,197.5 465.5,197.5 467.8,197.5 470.0,197.4 472.3,197.4 474.6,197.3 476.9,197.3 479.1,197.2 481.4,197.2 483.7,197.2 486.0,197.1 488.2,197.1 490.5,197.1 492.8,197.0 495.1,197.0 497.3,197.0 499.6,197.0 501.9,196.9 504.1,196.9 506.4,196.9 508.7,196.9 511.0,196.9 513.2,196.9 515.5,196.9 517.8,196.9 520.1,196.9 522.3,197.0 524.6,197.0 526.9,197.0 529.2,197.0 531.4,197.1 533.7,197.1 536.0,197.2 538.3,197.2 540.5,197.3 542.8,197.3 545.1,197.4" fill="none" stroke="#f40000" stroke-width="1.3"/>
<polyline points="47.0,197.8 49.3,197.6 51.5,197.5 53.8,197.4 56.1,197.3 58.4,197.2 60.6,197.1 62.9,197.0 65.2,196.9 67.5,196.9 69.7,196.8 72.0,196.8 74.3,196.7 76.6,196.7 78.8,196.7 81.1,196.6 83.4,196.6 85.7,196.6 87.9,196.6 90.2,196.6 92.5,196.6 94.8,196.6 97.0,196.6 99.3,196.6 101.6,196.7 103.9,196.7 106.1,196.7 108.4,196.7 110.7,196.8 113.0,196.8 115.2,196.9 117.5,196.9 119.8,196.9 122.1,197.0 124.3,197.0 126.6,197.1 128.9,197.1 131.2,197.1 133.4,197.2 135.7,197.2 138.0,197.2 140.2,197.3 142.5,197.3 144.8,197.3 147.1,197.4 149.3,197.4 151.6,197.4 153.9,197.4 156.2,197.4 158.4,197.4 160.7,197.4 163.0,197.4 165.3,197.4 167.5,197.4 169.8,197.4 172.1,197.3 174.4,197.2 176.6,197.2 178.9,197.0 181.2,196.9 183.5,196.7 185.7,196.5 188.0,196.3 190.3,196.0 192.6,195.6 194.8,195.2 197.1,194.8 199.4,194.3 201.7,193.7 203.9,193.1 206.2,192.4 208.5,191.7 210.8,190.9 213.0,190.1 215.3,189.2 217.6,188.3 219.9,187.3 222.1,186.2 224.4,185.1 226.7,183.8 229.0,182.3 231.2,180.6 233.5,178.6 235.8,176.3 238.0,173.6 240.3,170.4 242.6,166.8 244.9,162.8 247.1,158.5 249.4,153.8 251.7,148.8 254.0,143.8 256.2,138.8 258.5,133.9 260.8,129.5 263.1,125.6 265.3,122.4 267.6,120.0 269.9,118.6 272.2,118.2 274.4,118.8 276.7,120.3 279.0,122.5 281.3,125.5 283.5,129.2 285.8,133.3 288.1,137.9 290.4,142.8 292.6,147.8 294.9,152.9 297.2,157.9 299.5,162.8 301.7,167.4 304.0,171.7 306.3,175.7 308.6,179.3 310.8,182.5 313.1,185.3 315.4,187.8 317.7,189.9 319.9,191.7 322.2,193.2 324.5,194.5 326.7,195.6 329.0,196.5 331.3,197.2 333.6,197.7 335.8,198.2 338.1,198.6 340.4,198.8 342.7,199.0 344.9,199.1 347.2,199.2 349.5,199.3 351.8,199.3 354.0,199.4 356.3,199.4 358.6,199.3 360.9,199.3 363.1,199.3 365.4,199.3 367.7,199.2 370.0,199.1 372.2,199.1 374.5,199.0 376.8,198.9 379.1,198.8 381.3,198.8 383.6,198.7 385.9,198.6 388.2,198.5 390.4,198.4 392.7,198.3 395.0,198.2 397.3,198.1 399.5,198.0 401.8,197.9 404.1,197.8 406.4,197.8 408.6,197.7 410.9,197.6 413.2,197.5 415.4,197.4 417.7,197.4 420.0,197.3 422.3,197.2 424.5,197.2 426.8,197.1 429.1,197.1 431.4,197.0 433.6,197.0 435.9,196.9 438.2,196.9 440.5,196.9 442.7,196.8 445.0,196.8 447.3,196.8 449.6,196.8 451.8,196.8 454.1,196.8 456.4,196.8 458.7,196.8 460.9,196.8 463.2,196.8 465.5,196.9 467.8,196.9 470.0,196.9 472.3,196.9 474.6,197.0 476.9,197.0 479.1,197.1 481.4,197.1 483.7,197.2 486.0,197.2 488.2,197.3 490.5,197.4 492.8,197.4 495.1,197.5 497.3,197.6 499.6,197.7 501.9,197.7 504.1,197.8 506.4,197.9 508.7,198.0 511.0,198.1 513.2,198.1 515.5,198.2 517.8,198.3 520.1,198.4 522.3,198.4 524.6,198.5 526.9,198.6 529.2,198.7 531.4,198.7 533.7,198.8 536.0,198.9 538.3,198.9 540.5,199.0 542.8,199.1 545.1,199.1" fill="none" stroke="#f40000" stroke-width="1.3"/>
<polyline points="47.0,197.7 49.3,197.7 51.5,197.6 53.8,197.5 56.1,197.5 58.4,197.4 60.6,197.3 62.9,197.3 65.2,197.2 67.5,197.1 69.7,197.1 72.0,197.0 74.3,197.0 76.6,197.0 78.8,196.9 81.1,196.9 83.4,196.9 85.7,196.8 87.9,196.8 90.2,196.8 92.5,196.8 94.8,196.8 97.0,196.8 99.3,196.8 101.6,196.8 103.9,196.8 106.1,196.8 108.4,196.8 110.7,196.8 113.0,196.9 115.2,196.9 117.5,196.9 119.8,197.0 122.1,197.0 124.3,197.1 126.6,197.1 128.9,197.1 131.2,197.2 133.4,197.2 135.7,197.3 138.0,197.4 140.2,197.4 142.5,197.5 144.8,197.5 147.1,197.6 149.3,197.6 151.6,197.7 153.9,197.7 156.2,197.8 158.4,197.8 160.7,197.9 163.0,197.9 165.3,197.9 167.5,198.0 169.8,198.0 172.1,198.0 174.4,198.0 176.6,197.9 178.9,197.9 181.2,197.8 183.5,197.7 185.7,197.5 188.0,197.3 190.3,197.0 192.6,196.7 194.8,196.4 197.1,195.9 199.4,195.4 201.7,194.9 203.9,194.2 206.2,193.5 208.5,192.7 210.8,191.9 213.0,190.9 215.3,189.9 217.6,188.8 219.9,187.5 222.1,186.2 224.4,184.7 226.7,183.0 229.0,181.1 231.2,179.0 233.5,176.6 235.8,173.8 238.0,170.8 240.3,167.4 242.6,163.7 244.9,159.7 247.1,155.5 249.4,151.2 251.7,146.9 254.0,142.6 256.2,138.5 258.5,134.7 260.8,131.4 263.1,128.7 265.3,126.6 267.6,125.4 269.9,124.9 272.2,125.3 274.4,126.5 276.7,128.6 279.0,131.4 281.3,134.9 283.5,138.9 285.8,143.3 288.1,148.0 290.4,152.8 292.6,157.7 294.9,162.4 297.2,167.0 299.5,171.3 301.7,175.3 304.0,179.0 306.3,182.2 308.6,185.1 310.8,187.6 313.1,189.7 315.4,191.6 317.7,193.1 319.9,194.4 322.2,195.5 324.5,196.4 326.7,197.1 329.0,197.7 331.3,198.2 333.6,198.6 335.8,198.9 338.1,199.2 340.4,199.4 342.7,199.5 344.9,199.6 347.2,199.7 349.5,199.7 351.8,199.8 354.0,199.8 356.3,199.9 358.6,199.9 360.9,199.9 363.1,199.9 365.4,199.9 367.7,199.9 370.0,199.9 372.2,199.9 374.5,199.8 376.8,199.8 379.1,199.8 381.3,199.7 383.6,199.7 385.9,199.6 388.2,199.6 390.4,199.5 392.7,199.5 395.0,199.4 397.3,199.4 399.5,199.3 401.8,199.2 404.1,199.2 406.4,199.1 408.6,199.1 410.9,199.0 413.2,198.9 415.4,198.9 417.7,198.8 420.0,198.8 422.3,198.7 424.5,198.6 426.8,198.6 429.1,198.5 431.4,198.5 433.6,198.4 435.9,198.4 438.2,198.3 440.5,198.3 442.7,198.2 445.0,198.2 447.3,198.1 449.6,198.1 451.8,198.0 454.1,198.0 456.4,197.9 458.7,197.9 460.9,197.9 463.2,197.8 465.5,197.8 467.8,197.8 470.0,197.8 472.3,197.8 474.6,197.8 476.9,197.7 479.1,197.7 481.4,197.7 483.7,197.8 486.0,197.8 488.2,197.8 490.5,197.8 492.8,197.8 495.1,197.8 497.3,197.9 499.6,197.9 501.9,198.0 504.1,198.0 506.4,198.0 508.7,198.1 511.0,198.2 513.2,198.2 515.5,198.3 517.8,198.3 520.1,198.4 522.3,198.5 524.6,198.5 526.9,198.6 529.2,198.7 531.4,198.8 533.7,198.8 536.0,198.9 538.3,199.0 540.5,199.1 542.8,199.2 545.1,199.2" fill="none" stroke="#f40000" stroke-width="1.3"/>
<polyline points="47.0,208.9 49.3,208.5 51.5,208.0 53.8,207.6 56.1,207.2 58.4,206.8 60.6,206.4 62.9,206.1 65.2,205.7 67.5,205.4 69.7,205.1 72.0,204.8 74.3,204.5 76.6,204.3 78.8,204.0 81.1,203.7 83.4,203.5 85.7,203.2 87.9,203.0 90.2,202.8 92.5,202.6 94.8,202.4 97.0,202.1 99.3,201.9 101.6,201.7 103.9,201.6 106.1,201.4 108.4,201.2 110.7,201.0 113.0,200.8 115.2,200.7 117.5,200.5 119.8,200.4 122.1,200.2 124.3,200.1 126.6,199.9 128.9,199.8 131.2,199.7 133.4,199.5 135.7,199.4 138.0,199.3 140.2,199.2 142.5,199.1 144.8,199.0 147.1,198.9 149.3,198.8 151.6,198.7 153.9,198.7 156.2,198.6 158.4,198.5 160.7,198.5 163.0,198.4 165.3,198.4 167.5,198.3 169.8,198.2 172.1,198.2 174.4,198.1 176.6,198.0 178.9,197.9 181.2,197.8 183.5,197.7 185.7,197.5 188.0,197.3 190.3,197.1 192.6,196.8 194.8,196.4 197.1,196.0 199.4,195.6 201.7,195.1 203.9,194.5 206.2,193.8 208.5,193.1 210.8,192.3 213.0,191.5 215.3,190.5 217.6,189.4 219.9,188.3 222.1,187.0 224.4,185.5 226.7,183.8 229.0,181.9 231.2,179.7 233.5,177.3 235.8,174.4 238.0,171.2 240.3,167.6 242.6,163.7 244.9,159.5 247.1,155.1 249.4,150.5 251.7,145.9 254.0,141.4 256.2,137.1 258.5,133.3 260.8,129.9 263.1,127.3 265.3,125.4 267.6,124.4 269.9,124.2 272.2,125.0 274.4,126.6 276.7,129.1 279.0,132.2 281.3,135.9 283.5,140.2 285.8,144.8 288.1,149.6 290.4,154.6 292.6,159.5 294.9,164.3 297.2,168.9 299.5,173.3 301.7,177.2 304.0,180.8 306.3,184.0 308.6,186.9 310.8,189.3 313.1,191.4 315.4,193.1 317.7,194.6 319.9,195.8 322.2,196.8 324.5,197.6 326.7,198.3 329.0,198.8 331.3,199.2 333.6,199.6 335.8,199.8 338.1,200.0 340.4,200.1 342.7,200.2 344.9,200.2 347.2,200.2 349.5,200.2 351.8,200.2 354.0,200.2 356.3,200.2 358.6,200.2 360.9,200.2 363.1,200.2 365.4,200.1 367.7,200.1 370.0,200.1 372.2,200.1 374.5,200.1 376.8,200.1 379.1,200.1 381.3,200.1 383.6,200.1 385.9,200.1 388.2,200.1 390.4,200.1 392.7,200.1 395.0,200.2 397.3,200.2 399.5,200.2 401.8,200.3 404.1,200.3 406.4,200.4 408.6,200.5 410.9,200.5 413.2,200.6 415.4,200.7 417.7,200.7 420.0,200.8 422.3,200.9 424.5,201.0 426.8,201.1 429.1,201.2 431.4,201.2 433.6,201.3 435.9,201.4 438.2,201.5 440.5,201.6 442.7,201.7 445.0,201.8 447.3,201.8 449.6,201.9 451.8,202.0 454.1,202.1 456.4,202.1 458.7,202.2 460.9,202.3 463.2,202.3 465.5,202.4 467.8,202.4 470.0,202.5 472.3,202.5 474.6,202.6 476.9,202.6 479.1,202.6 481.4,202.7 483.7,202.7 486.0,202.7 488.2,202.7 490.5,202.8 492.8,202.8 495.1,202.8 497.3,202.8 499.6,202.8 501.9,202.8 504.1,202.8 506.4,202.8 508.7,202.8 511.0,202.8 513.2,202.8 515.5,202.8 517.8,202.8 520.1,202.8 522.3,202.8 524.6,202.8 526.9,202.8 529.2,202.8 531.4,202.9 533.7,202.9 536.0,202.9 538.3,202.9 540.5,202.9 542.8,203.0 545.1,203.0" fill="none" stroke="#f40000" stroke-width="1.3"/>
<polyline points="47.0,202.9 49.3,202.6 51.5,202.3 53.8,202.0 56.1,201.8 58.4,201.5 60.6,201.3 62.9,201.1 65.2,200.9 67.5,200.6 69.7,200.4 72.0,200.3 74.3,200.1 76.6,199.9 78.8,199.7 81.1,199.6 83.4,199.4 85.7,199.3 87.9,199.1 90.2,199.0 92.5,198.9 94.8,198.8 97.0,198.7 99.3,198.6 101.6,198.5 103.9,198.4 106.1,198.4 108.4,198.3 110.7,198.2 113.0,198.2 115.2,198.2 117.5,198.1 119.8,198.1 122.1,198.1 124.3,198.1 126.6,198.0 128.9,198.0 131.2,198.0 133.4,198.0 135.7,198.1 138.0,198.1 140.2,198.1 142.5,198.1 144.8,198.1 147.1,198.2 149.3,198.2 151.6,198.2 153.9,198.3 156.2,198.3 158.4,198.3 160.7,198.4 163.0,198.4 165.3,198.4 167.5,198.5 169.8,198.5 172.1,198.5 174.4,198.5 176.6,198.4 178.9,198.4 181.2,198.3 183.5,198.2 185.7,198.1 188.0,197.9 190.3,197.6 192.6,197.4 194.8,197.0 197.1,196.6 199.4,196.2 201.7,195.7 203.9,195.1 206.2,194.5 208.5,193.8 210.8,193.0 213.0,192.2 215.3,191.3 217.6,190.4 219.9,189.4 222.1,188.3 224.4,187.0 226.7,185.7 229.0,184.1 231.2,182.3 233.5,180.2 235.8,177.8 238.0,175.0 240.3,171.8 242.6,168.2 244.9,164.2 247.1,159.9 249.4,155.4 251.7,150.8 254.0,146.1 256.2,141.5 258.5,137.2 260.8,133.3 263.1,130.0 265.3,127.3 267.6,125.6 269.9,124.7 272.2,124.8 274.4,125.7 276.7,127.5 279.0,129.9 281.3,133.0 283.5,136.7 285.8,140.8 288.1,145.3 290.4,150.0 292.6,154.7 294.9,159.4 297.2,164.0 299.5,168.5 301.7,172.6 304.0,176.4 306.3,179.9 308.6,183.0 310.8,185.8 313.1,188.2 315.4,190.3 317.7,192.0 319.9,193.6 322.2,194.8 324.5,195.9 326.7,196.8 329.0,197.5 331.3,198.1 333.6,198.5 335.8,198.9 338.1,199.2 340.4,199.4 342.7,199.6 344.9,199.7 347.2,199.8 349.5,199.9 351.8,200.0 354.0,200.0 356.3,200.0 358.6,200.1 360.9,200.1 363.1,200.1 365.4,200.1 367.7,200.1 370.0,200.1 372.2,200.1 374.5,200.1 376.8,200.1 379.1,200.1 381.3,200.0 383.6,200.0 385.9,200.0 388.2,200.0 390.4,199.9 392.7,199.9 395.0,199.9 397.3,199.9 399.5,199.8 401.8,199.8 404.1,199.8 406.4,199.7 408.6,199.7 410.9,199.6 413.2,199.6 415.4,199.6 417.7,199.5 420.0,199.5 422.3,199.4 424.5,199.4 426.8,199.4 429.1,199.3 431.4,199.3 433.6,199.2 435.9,199.2 438.2,199.1 440.5,199.1 442.7,199.0 445.0,199.0 447.3,198.9 449.6,198.9 451.8,198.8 454.1,198.8 456.4,198.7 458.7,198.7 460.9,198.6 463.2,198.6 465.5,198.6 467.8,198.5 470.0,198.5 472.3,198.4 474.6,198.4 476.9,198.4 479.1,198.4 481.4,198.3 483.7,198.3 486.0,198.3 488.2,198.3 490.5,198.3 492.8,198.3 495.1,198.3 497.3,198.3 499.6,198.3 501.9,198.3 504.1,198.3 506.4,198.3 508.7,198.3 511.0,198.4 513.2,198.4 515.5,198.4 517.8,198.5 520.1,198.5 522.3,198.6 524.6,198.6 526.9,198.7 529.2,198.7 531.4,198.8 533.7,198.8 536.0,198.9 538.3,199.0 540.5,199.0 542.8,199.1 545.1,199.2" fill="none" stroke="#f40000" stroke-width="1.3"/>
<polyline points="47.0,196.9 49.3,196.9 51.5,197.0 53.8,197.0 56.1,197.0 58.4,197.0 60.6,197.0 62.9,197.0 65.2,197.0 67.5,197.0 69.7,197.0 72.0,197.0 74.3,197.0 76.6,196.9 78.8,196.9 81.1,196.9 83.4,196.8 85.7,196.8 87.9,196.8 90.2,196.7 92.5,196.7 94.8,196.6 97.0,196.6 99.3,196.5 101.6,196.5 103.9,196.4 106.1,196.4 108.4,196.3 110.7,196.3 113.0,196.2 115.2,196.1 117.5,196.1 119.8,196.0 122.1,196.0 124.3,195.9 126.6,195.8 128.9,195.8 131.2,195.7 133.4,195.7 135.7,195.6 138.0,195.6 140.2,195.5 142.5,195.5 144.8,195.4 147.1,195.4 149.3,195.3 151.6,195.3 153.9,195.3 156.2,195.2 158.4,195.2 160.7,195.2 163.0,195.2 165.3,195.1 167.5,195.1 169.8,195.1 172.1,195.1 174.4,195.0 176.6,195.0 178.9,194.9 181.2,194.8 183.5,194.7 185.7,194.5 188.0,194.4 190.3,194.1 192.6,193.9 194.8,193.5 197.1,193.2 199.4,192.7 201.7,192.2 203.9,191.7 206.2,191.1 208.5,190.4 210.8,189.6 213.0,188.8 215.3,187.9 217.6,187.0 219.9,185.9 222.1,184.8 224.4,183.5 226.7,182.0 229.0,180.4 231.2,178.6 233.5,176.5 235.8,174.1 238.0,171.3 240.3,168.2 242.6,164.8 244.9,161.1 247.1,157.2 249.4,153.0 251.7,148.8 254.0,144.5 256.2,140.3 258.5,136.4 260.8,132.8 263.1,129.7 265.3,127.2 267.6,125.5 269.9,124.4 272.2,124.3 274.4,125.0 276.7,126.5 279.0,128.9 281.3,132.1 283.5,135.9 285.8,140.2 288.1,144.9 290.4,149.8 292.6,154.8 294.9,159.7 297.2,164.5 299.5,169.0 301.7,173.2 304.0,177.1 306.3,180.5 308.6,183.5 310.8,186.1 313.1,188.3 315.4,190.2 317.7,191.8 319.9,193.1 322.2,194.1 324.5,195.0 326.7,195.6 329.0,196.2 331.3,196.6 333.6,196.9 335.8,197.2 338.1,197.4 340.4,197.5 342.7,197.6 344.9,197.6 347.2,197.6 349.5,197.6 351.8,197.6 354.0,197.6 356.3,197.6 358.6,197.6 360.9,197.6 363.1,197.6 365.4,197.6 367.7,197.6 370.0,197.5 372.2,197.5 374.5,197.5 376.8,197.5 379.1,197.5 381.3,197.5 383.6,197.5 385.9,197.6 388.2,197.6 390.4,197.6 392.7,197.6 395.0,197.7 397.3,197.7 399.5,197.7 401.8,197.8 404.1,197.9 406.4,197.9 408.6,198.0 410.9,198.1 413.2,198.1 415.4,198.2 417.7,198.3 420.0,198.4 422.3,198.5 424.5,198.5 426.8,198.6 429.1,198.7 431.4,198.8 433.6,198.9 435.9,199.0 438.2,199.1 440.5,199.2 442.7,199.3 445.0,199.4 447.3,199.4 449.6,199.5 451.8,199.6 454.1,199.7 456.4,199.7 458.7,199.8 460.9,199.9 463.2,199.9 465.5,200.0 467.8,200.0 470.0,200.1 472.3,200.1 474.6,200.2 476.9,200.2 479.1,200.3 481.4,200.3 483.7,200.3 486.0,200.4 488.2,200.4 490.5,200.4 492.8,200.4 495.1,200.4 497.3,200.4 499.6,200.5 501.9,200.5 504.1,200.5 506.4,200.5 508.7,200.5 511.0,200.5 513.2,200.5 515.5,200.5 517.8,200.5 520.1,200.5 522.3,200.5 524.6,200.5 526.9,200.6 529.2,200.6 531.4,200.6 533.7,200.6 536.0,200.6 538.3,200.7 540.5,200.7 542.8,200.7 545.1,200.8" fill="none" stroke="#f40000" stroke-width="1.3"/>
<polyline points="47.0,208.1 49.3,207.5 51.5,207.0 53.8,206.5 56.1,206.0 58.4,205.5 60.6,205.1 62.9,204.7 65.2,204.3 67.5,203.9 69.7,203.6 72.0,203.3 74.3,203.0 76.6,202.7 78.8,202.4 81.1,202.2 83.4,201.9 85.7,201.7 87.9,201.5 90.2,201.3 92.5,201.1 94.8,201.0 97.0,200.8 99.3,200.7 101.6,200.6 103.9,200.5 106.1,200.4 108.4,200.3 110.7,200.2 113.0,200.1 115.2,200.1 117.5,200.0 119.8,200.0 122.1,199.9 124.3,199.9 126.6,199.9 128.9,199.9 131.2,199.8 133.4,199.8 135.7,199.8 138.0,199.8 140.2,199.8 142.5,199.8 144.8,199.8 147.1,199.8 149.3,199.8 151.6,199.8 153.9,199.8 156.2,199.8 158.4,199.8 160.7,199.8 163.0,199.8 165.3,199.8 167.5,199.8 169.8,199.7 172.1,199.7 174.4,199.6 176.6,199.5 178.9,199.4 181.2,199.3 183.5,199.1 185.7,199.0 188.0,198.7 190.3,198.4 192.6,198.1 194.8,197.7 197.1,197.2 199.4,196.7 201.7,196.2 203.9,195.5 206.2,194.8 208.5,194.1 210.8,193.3 213.0,192.4 215.3,191.4 217.6,190.4 219.9,189.3 222.1,188.0 224.4,186.7 226.7,185.1 229.0,183.3 231.2,181.3 233.5,178.9 235.8,176.2 238.0,173.0 240.3,169.5 242.6,165.5 244.9,161.2 247.1,156.5 249.4,151.7 251.7,146.8 254.0,141.8 256.2,137.1 258.5,132.8 260.8,129.0 263.1,125.9 265.3,123.6 267.6,122.3 269.9,121.9 272.2,122.6 274.4,124.2 276.7,126.6 279.0,129.9 281.3,133.8 283.5,138.2 285.8,143.1 288.1,148.2 290.4,153.4 292.6,158.6 294.9,163.7 297.2,168.5 299.5,173.0 301.7,177.1 304.0,180.8 306.3,184.1 308.6,187.0 310.8,189.5 313.1,191.6 315.4,193.4 317.7,194.8 319.9,196.1 322.2,197.1 324.5,197.9 326.7,198.7 329.0,199.2 331.3,199.7 333.6,200.1 335.8,200.4 338.1,200.7 340.4,200.8 342.7,201.0 344.9,201.1 347.2,201.2 349.5,201.3 351.8,201.3 354.0,201.4 356.3,201.4 358.6,201.4 360.9,201.5 363.1,201.5 365.4,201.5 367.7,201.5 370.0,201.5 372.2,201.5 374.5,201.4 376.8,201.4 379.1,201.4 381.3,201.3 383.6,201.3 385.9,201.3 388.2,201.2 390.4,201.2 392.7,201.1 395.0,201.1 397.3,201.0 399.5,201.0 401.8,200.9 404.1,200.9 406.4,200.8 408.6,200.8 410.9,200.7 413.2,200.7 415.4,200.6 417.7,200.6 420.0,200.5 422.3,200.5 424.5,200.5 426.8,200.4 429.1,200.4 431.4,200.4 433.6,200.3 435.9,200.3 438.2,200.3 440.5,200.3 442.7,200.2 445.0,200.2 447.3,200.2 449.6,200.2 451.8,200.2 454.1,200.2 456.4,200.2 458.7,200.2 460.9,200.2 463.2,200.2 465.5,200.3 467.8,200.3 470.0,200.3 472.3,200.4 474.6,200.4 476.9,200.4 479.1,200.5 481.4,200.5 483.7,200.6 486.0,200.6 488.2,200.7 490.5,200.8 492.8,200.9 495.1,200.9 497.3,201.0 499.6,201.1 501.9,201.2 504.1,201.3 506.4,201.4 508.7,201.5 511.0,201.6 513.2,201.7 515.5,201.8 517.8,201.9 520.1,202.0 522.3,202.1 524.6,202.2 526.9,202.3 529.2,202.4 531.4,202.5 533.7,202.6 536.0,202.7 538.3,202.8 540.5,202.9 542.8,203.1 545.1,203.2" fill="none" stroke="#f40000" stroke-width="1.3"/>
<polyline points="47.0,201.1 49.3,200.9 51.5,200.7 53.8,200.6 56.1,200.4 58.4,200.2 60.6,200.0 62.9,199.9 65.2,199.7 67.5,199.6 69.7,199.4 72.0,199.3 74.3,199.2 76.6,199.1 78.8,198.9 81.1,198.8 83.4,198.7 85.7,198.6 87.9,198.5 90.2,198.5 92.5,198.4 94.8,198.3 97.0,198.2 99.3,198.2 101.6,198.1 103.9,198.1 106.1,198.0 108.4,198.0 110.7,198.0 113.0,198.0 115.2,197.9 117.5,197.9 119.8,197.9 122.1,197.9 124.3,197.9 126.6,197.9 128.9,198.0 131.2,198.0 133.4,198.0 135.7,198.0 138.0,198.1 140.2,198.1 142.5,198.1 144.8,198.2 147.1,198.2 149.3,198.2 151.6,198.3 153.9,198.3 156.2,198.4 158.4,198.4 160.7,198.5 163.0,198.5 165.3,198.5 167.5,198.6 169.8,198.6 172.1,198.6 174.4,198.6 176.6,198.5 178.9,198.5 181.2,198.4 183.5,198.3 185.7,198.2 188.0,198.0 190.3,197.7 192.6,197.5 194.8,197.1 197.1,196.7 199.4,196.2 201.7,195.7 203.9,195.1 206.2,194.4 208.5,193.7 210.8,192.9 213.0,192.0 215.3,191.0 217.6,189.9 219.9,188.8 222.1,187.5 224.4,186.1 226.7,184.6 229.0,182.8 231.2,180.8 233.5,178.6 235.8,176.0 238.0,173.1 240.3,169.8 242.6,166.2 244.9,162.3 247.1,158.2 249.4,153.9 251.7,149.5 254.0,145.2 256.2,141.0 258.5,137.1 260.8,133.7 263.1,130.7 265.3,128.5 267.6,127.0 269.9,126.3 272.2,126.5 274.4,127.5 276.7,129.4 279.0,132.0 281.3,135.3 283.5,139.1 285.8,143.4 288.1,148.0 290.4,152.8 292.6,157.6 294.9,162.3 297.2,166.9 299.5,171.3 301.7,175.3 304.0,179.0 306.3,182.3 308.6,185.2 310.8,187.7 313.1,189.9 315.4,191.8 317.7,193.4 319.9,194.7 322.2,195.8 324.5,196.7 326.7,197.5 329.0,198.1 331.3,198.6 333.6,199.0 335.8,199.3 338.1,199.5 340.4,199.7 342.7,199.8 344.9,199.9 347.2,200.0 349.5,200.1 351.8,200.1 354.0,200.1 356.3,200.2 358.6,200.2 360.9,200.2 363.1,200.2 365.4,200.2 367.7,200.2 370.0,200.2 372.2,200.2 374.5,200.1 376.8,200.1 379.1,200.1 381.3,200.0 383.6,200.0 385.9,200.0 388.2,199.9 390.4,199.9 392.7,199.8 395.0,199.8 397.3,199.7 399.5,199.7 401.8,199.6 404.1,199.6 406.4,199.5 408.6,199.5 410.9,199.4 413.2,199.4 415.4,199.3 417.7,199.3 420.0,199.2 422.3,199.2 424.5,199.1 426.8,199.0 429.1,199.0 431.4,198.9 433.6,198.9 435.9,198.8 438.2,198.7 440.5,198.7 442.7,198.6 445.0,198.6 447.3,198.5 449.6,198.4 451.8,198.4 454.1,198.3 456.4,198.3 458.7,198.2 460.9,198.2 463.2,198.1 465.5,198.1 467.8,198.0 470.0,198.0 472.3,197.9 474.6,197.9 476.9,197.8 479.1,197.8 481.4,197.8 483.7,197.7 486.0,197.7 488.2,197.7 490.5,197.7 492.8,197.7 495.1,197.7 497.3,197.7 499.6,197.7 501.9,197.7 504.1,197.7 506.4,197.7 508.7,197.7 511.0,197.7 513.2,197.8 515.5,197.8 517.8,197.8 520.1,197.9 522.3,197.9 524.6,197.9 526.9,198.0 529.2,198.0 531.4,198.1 533.7,198.1 536.0,198.2 538.3,198.3 540.5,198.3 542.8,198.4 545.1,198.4" fill="none" stroke="#f40000" stroke-width="1.3"/>
<polyline points="47.0,208.9 49.3,208.3 51.5,207.8 53.8,207.3 56.1,206.8 58.4,206.4 60.6,206.0 62.9,205.6 65.2,205.2 67.5,204.9 69.7,204.6 72.0,204.3 74.3,204.0 76.6,203.8 78.8,203.5 81.1,203.3 83.4,203.1 85.7,202.9 87.9,202.7 90.2,202.6 92.5,202.4 94.8,202.3 97.0,202.2 99.3,202.0 101.6,201.9 103.9,201.8 106.1,201.7 108.4,201.6 110.7,201.5 113.0,201.5 115.2,201.4 117.5,201.3 119.8,201.2 122.1,201.2 124.3,201.1 126.6,201.1 128.9,201.0 131.2,201.1 133.4,201.1 135.7,201.2 138.0,201.3 140.2,201.4 142.5,201.5 144.8,201.6 147.1,201.7 149.3,201.8 151.6,201.9 153.9,202.0 156.2,202.2 158.4,202.3 160.7,202.4 163.0,202.6 165.3,202.7 167.5,202.9 169.8,203.1 172.1,203.3 174.4,203.5 176.6,203.7 178.9,203.9 181.2,204.2 183.5,204.4 185.7,204.6 188.0,204.8 190.3,205.0 192.6,205.2 194.8,205.3 197.1,205.5 199.4,205.7 201.7,205.9 203.9,206.0 206.2,206.2 208.5,206.4 210.8,206.6 213.0,206.8 215.3,206.9 217.6,207.1 219.9,207.3 222.1,207.5 224.4,207.7 226.7,207.8 229.0,208.0 231.2,208.1 233.5,208.2 235.8,208.3 238.0,208.5 240.3,208.6 242.6,208.7 244.9,208.9 247.1,209.0 249.4,209.1 251.7,209.3 254.0,209.4 256.2,209.5 258.5,209.5 260.8,209.6 263.1,209.7 265.3,209.8 267.6,209.9 269.9,210.0 272.2,210.1 274.4,210.2 276.7,210.3 279.0,210.4 281.3,210.5 283.5,210.5 285.8,210.5 288.1,210.5 290.4,210.5 292.6,210.5 294.9,210.4 297.2,210.3 299.5,210.1 301.7,209.8 304.0,209.4 306.3,208.9 308.6,208.4 310.8,207.8 313.1,207.1 315.4,206.4 317.7,205.6 319.9,204.7 322.2,203.7 324.5,202.7 326.7,201.6 329.0,200.4 331.3,199.0 333.6,197.5 335.8,195.8 338.1,193.9 340.4,191.7 342.7,189.3 344.9,186.5 347.2,183.5 349.5,180.2 351.8,176.4 354.0,172.4 356.3,167.9 358.6,163.1 360.9,158.0 363.1,152.6 365.4,146.9 367.7,141.1 370.0,135.1 372.2,129.1 374.5,123.2 376.8,117.5 379.1,112.1 381.3,107.1 383.6,102.6 385.9,98.7 388.2,95.5 390.4,93.2 392.7,91.6 395.0,90.9 397.3,91.3 399.5,93.1 401.8,96.4 404.1,100.9 406.4,106.5 408.6,113.1 410.9,120.3 413.2,128.0 415.4,136.0 417.7,143.9 420.0,151.6 422.3,158.9 424.5,165.8 426.8,172.1 429.1,177.7 431.4,182.7 433.6,187.0 435.9,190.7 438.2,193.9 440.5,196.4 442.7,198.6 445.0,200.3 447.3,201.7 449.6,202.8 451.8,203.7 454.1,204.4 456.4,205.0 458.7,205.5 460.9,205.9 463.2,206.3 465.5,206.6 467.8,206.9 470.0,207.1 472.3,207.4 474.6,207.6 476.9,207.8 479.1,208.1 481.4,208.3 483.7,208.5 486.0,208.8 488.2,209.0 490.5,209.2 492.8,209.5 495.1,209.7 497.3,209.9 499.6,210.1 501.9,210.4 504.1,210.6 506.4,210.8 508.7,211.0 511.0,211.2 513.2,211.5 515.5,211.7 517.8,211.9 520.1,212.1 522.3,212.3 524.6,212.5 526.9,212.7 529.2,212.9 531.4,213.1 533.7,213.3 536.0,213.4 538.3,213.6 540.5,213.8 542.8,214.0 545.1,214.1" fill="none" stroke="#f40000" stroke-width="1.3"/>
<polyline points="47.0,200.8 49.3,200.7 51.5,200.7 53.8,200.6 56.1,200.5 58.4,200.5 60.6,200.4 62.9,200.3 65.2,200.3 67.5,200.2 69.7,200.1 72.0,200.1 74.3,200.0 76.6,199.9 78.8,199.8 81.1,199.7 83.4,199.7 85.7,199.6 87.9,199.5 90.2,199.4 92.5,199.3 94.8,199.3 97.0,199.2 99.3,199.1 101.6,199.0 103.9,198.9 106.1,198.9 108.4,198.8 110.7,198.7 113.0,198.6 115.2,198.6 117.5,198.5 119.8,198.4 122.1,198.4 124.3,198.3 126.6,198.4 128.9,198.4 131.2,198.6 133.4,198.8 135.7,199.0 138.0,199.3 140.2,199.5 142.5,199.8 144.8,200.0 147.1,200.3 149.3,200.5 151.6,200.8 153.9,201.1 156.2,201.4 158.4,201.8 160.7,202.2 163.0,202.6 165.3,203.0 167.5,203.5 169.8,204.0 172.1,204.5 174.4,205.0 176.6,205.5 178.9,206.0 181.2,206.5 183.5,207.0 185.7,207.5 188.0,208.0 190.3,208.5 192.6,208.9 194.8,209.4 197.1,209.9 199.4,210.3 201.7,210.8 203.9,211.2 206.2,211.7 208.5,212.1 210.8,212.6 213.0,213.0 215.3,213.5 217.6,213.9 219.9,214.3 222.1,214.7 224.4,215.1 226.7,215.4 229.0,215.7 231.2,215.9 233.5,216.2 235.8,216.5 238.0,216.7 240.3,217.0 242.6,217.2 244.9,217.4 247.1,217.6 249.4,217.8 251.7,217.9 254.0,218.0 256.2,218.1 258.5,218.2 260.8,218.3 263.1,218.4 265.3,218.5 267.6,218.5 269.9,218.6 272.2,218.7 274.4,218.7 276.7,218.7 279.0,218.7 281.3,218.6 283.5,218.5 285.8,218.3 288.1,218.1 290.4,217.9 292.6,217.7 294.9,217.3 297.2,216.8 299.5,216.2 301.7,215.3 304.0,214.4 306.3,213.4 308.6,212.4 310.8,211.3 313.1,210.1 315.4,208.9 317.7,207.6 319.9,206.3 322.2,204.8 324.5,203.3 326.7,201.8 329.0,200.1 331.3,198.4 333.6,196.4 335.8,194.2 338.1,191.8 340.4,189.1 342.7,186.2 344.9,182.8 347.2,179.1 349.5,174.9 351.8,170.3 354.0,165.2 356.3,159.7 358.6,153.6 360.9,147.2 363.1,140.5 365.4,133.4 367.7,126.2 370.0,118.9 372.2,111.6 374.5,104.7 376.8,98.1 379.1,92.0 381.3,86.7 383.6,82.2 385.9,78.7 388.2,76.2 390.4,74.8 392.7,74.7 395.0,76.4 397.3,80.0 399.5,85.5 401.8,92.7 404.1,101.0 406.4,110.3 408.6,120.2 410.9,130.3 413.2,140.2 415.4,149.8 417.7,158.7 420.0,166.8 422.3,174.0 424.5,180.3 426.8,185.7 429.1,190.2 431.4,193.9 433.6,196.9 435.9,199.3 438.2,201.1 440.5,202.6 442.7,203.7 445.0,204.5 447.3,205.2 449.6,205.7 451.8,206.1 454.1,206.4 456.4,206.6 458.7,206.8 460.9,207.0 463.2,207.2 465.5,207.3 467.8,207.5 470.0,207.6 472.3,207.7 474.6,207.8 476.9,208.0 479.1,208.1 481.4,208.2 483.7,208.3 486.0,208.4 488.2,208.5 490.5,208.6 492.8,208.7 495.1,208.8 497.3,208.9 499.6,209.0 501.9,209.1 504.1,209.2 506.4,209.3 508.7,209.5 511.0,209.6 513.2,209.7 515.5,209.8 517.8,209.9 520.1,210.0 522.3,210.1 524.6,210.3 526.9,210.4 529.2,210.5 531.4,210.7 533.7,210.8 536.0,211.0 538.3,211.1 540.5,211.3 542.8,211.4 545.1,211.6" fill="none" stroke="#f40000" stroke-width="1.3"/>
<polyline points="47.0,210.5 49.3,209.7 51.5,209.0 53.8,208.4 56.1,207.8 58.4,207.2 60.6,206.7 62.9,206.2 65.2,205.7 67.5,205.3 69.7,204.9 72.0,204.5 74.3,204.1 76.6,203.8 78.8,203.5 81.1,203.2 83.4,202.9 85.7,202.7 87.9,202.4 90.2,202.2 92.5,202.0 94.8,201.8 97.0,201.6 99.3,201.4 101.6,201.3 103.9,201.1 106.1,201.0 108.4,200.9 110.7,200.7 113.0,200.6 115.2,200.5 117.5,200.4 119.8,200.3 122.1,200.2 124.3,200.1 126.6,200.1 128.9,200.1 131.2,200.1 133.4,200.2 135.7,200.4 138.0,200.7 140.2,200.9 142.5,201.2 144.8,201.4 147.1,201.7 149.3,201.9 151.6,202.2 153.9,202.4 156.2,202.7 158.4,203.0 160.7,203.3 163.0,203.6 165.3,204.0 167.5,204.4 169.8,204.9 172.1,205.3 174.4,205.8 176.6,206.2 178.9,206.7 181.2,207.1 183.5,207.6 185.7,208.1 188.0,208.5 190.3,208.9 192.6,209.3 194.8,209.8 197.1,210.1 199.4,210.5 201.7,210.9 203.9,211.3 206.2,211.7 208.5,212.1 210.8,212.5 213.0,212.9 215.3,213.3 217.6,213.7 219.9,214.1 222.1,214.5 224.4,214.8 226.7,215.2 229.0,215.4 231.2,215.7 233.5,216.0 235.8,216.2 238.0,216.5 240.3,216.7 242.6,217.0 244.9,217.2 247.1,217.5 249.4,217.7 251.7,217.9 254.0,218.1 256.2,218.2 258.5,218.4 260.8,218.5 263.1,218.7 265.3,218.8 267.6,219.0 269.9,219.1 272.2,219.3 274.4,219.5 276.7,219.6 279.0,219.7 281.3,219.8 283.5,219.8 285.8,219.8 288.1,219.7 290.4,219.6 292.6,219.5 294.9,219.4 297.2,219.1 299.5,218.7 301.7,218.2 304.0,217.4 306.3,216.5 308.6,215.5 310.8,214.4 313.1,213.3 315.4,212.1 317.7,210.8 319.9,209.5 322.2,208.1 324.5,206.6 326.7,205.1 329.0,203.5 331.3,201.7 333.6,199.9 335.8,197.9 338.1,195.8 340.4,193.3 342.7,190.7 344.9,187.7 347.2,184.5 349.5,180.9 351.8,176.9 354.0,172.5 356.3,167.7 358.6,162.4 360.9,156.8 363.1,150.8 365.4,144.4 367.7,137.9 370.0,131.2 372.2,124.5 374.5,117.8 376.8,111.5 379.1,105.5 381.3,100.1 383.6,95.3 385.9,91.4 388.2,88.4 390.4,86.4 392.7,85.4 395.0,85.7 397.3,87.6 399.5,91.2 401.8,96.2 404.1,102.5 406.4,109.8 408.6,117.8 410.9,126.3 413.2,134.9 415.4,143.4 417.7,151.6 420.0,159.3 422.3,166.3 424.5,172.6 426.8,178.1 429.1,182.9 431.4,187.0 433.6,190.3 435.9,193.1 438.2,195.3 440.5,197.1 442.7,198.5 445.0,199.5 447.3,200.4 449.6,201.1 451.8,201.6 454.1,202.0 456.4,202.3 458.7,202.6 460.9,202.9 463.2,203.1 465.5,203.3 467.8,203.5 470.0,203.7 472.3,203.9 474.6,204.1 476.9,204.2 479.1,204.4 481.4,204.6 483.7,204.8 486.0,205.0 488.2,205.2 490.5,205.4 492.8,205.6 495.1,205.8 497.3,206.0 499.6,206.1 501.9,206.3 504.1,206.5 506.4,206.7 508.7,206.9 511.0,207.1 513.2,207.2 515.5,207.4 517.8,207.6 520.1,207.7 522.3,207.9 524.6,208.1 526.9,208.2 529.2,208.4 531.4,208.5 533.7,208.7 536.0,208.8 538.3,209.0 540.5,209.1 542.8,209.2 545.1,209.4" fill="none" stroke="#f40000" stroke-width="1.3"/>
<polyline points="47.0,196.0 49.3,196.0 51.5,196.1 53.8,196.2 56.1,196.3 58.4,196.3 60.6,196.4 62.9,196.4 65.2,196.5 67.5,196.5 69.7,196.6 72.0,196.6 74.3,196.6 76.6,196.6 78.8,196.6 81.1,196.6 83.4,196.6 85.7,196.6 87.9,196.6 90.2,196.6 92.5,196.6 94.8,196.5 97.0,196.5 99.3,196.5 101.6,196.5 103.9,196.4 106.1,196.4 108.4,196.3 110.7,196.3 113.0,196.2 115.2,196.2 117.5,196.2 119.8,196.1 122.1,196.1 124.3,196.2 126.6,196.3 128.9,196.5 131.2,196.7 133.4,197.0 135.7,197.2 138.0,197.5 140.2,197.8 142.5,198.1 144.8,198.4 147.1,198.7 149.3,199.0 151.6,199.3 153.9,199.6 156.2,200.0 158.4,200.4 160.7,200.9 163.0,201.4 165.3,201.9 167.5,202.4 169.8,202.9 172.1,203.5 174.4,204.0 176.6,204.5 178.9,205.1 181.2,205.6 183.5,206.2 185.7,206.7 188.0,207.2 190.3,207.7 192.6,208.2 194.8,208.7 197.1,209.2 199.4,209.7 201.7,210.2 203.9,210.7 206.2,211.2 208.5,211.7 210.8,212.2 213.0,212.7 215.3,213.1 217.6,213.6 219.9,214.0 222.1,214.4 224.4,214.7 226.7,215.1 229.0,215.4 231.2,215.7 233.5,216.0 235.8,216.3 238.0,216.6 240.3,216.9 242.6,217.2 244.9,217.4 247.1,217.6 249.4,217.8 251.7,217.9 254.0,218.1 256.2,218.2 258.5,218.3 260.8,218.4 263.1,218.6 265.3,218.7 267.6,218.8 269.9,218.9 272.2,218.9 274.4,219.0 276.7,218.9 279.0,218.9 281.3,218.7 283.5,218.6 285.8,218.4 288.1,218.2 290.4,217.9 292.6,217.5 294.9,217.0 297.2,216.2 299.5,215.3 301.7,214.3 304.0,213.2 306.3,212.1 308.6,210.9 310.8,209.7 313.1,208.5 315.4,207.2 317.7,205.8 319.9,204.3 322.2,202.9 324.5,201.4 326.7,199.9 329.0,198.4 331.3,196.7 333.6,194.9 335.8,192.9 338.1,190.8 340.4,188.4 342.7,185.8 344.9,182.8 347.2,179.4 349.5,175.7 351.8,171.4 354.0,166.7 356.3,161.5 358.6,155.9 360.9,149.7 363.1,143.2 365.4,136.3 367.7,129.1 370.0,121.8 372.2,114.5 374.5,107.3 376.8,100.4 379.1,93.9 381.3,88.0 383.6,82.9 385.9,78.6 388.2,75.4 390.4,73.3 392.7,72.3 395.0,72.6 397.3,74.6 399.5,78.4 401.8,83.7 404.1,90.4 406.4,98.2 408.6,106.9 410.9,116.0 413.2,125.4 415.4,134.8 417.7,143.9 420.0,152.5 422.3,160.5 424.5,167.7 426.8,174.2 429.1,179.9 431.4,184.7 433.6,188.8 435.9,192.3 438.2,195.1 440.5,197.4 442.7,199.2 445.0,200.6 447.3,201.8 449.6,202.7 451.8,203.4 454.1,203.9 456.4,204.4 458.7,204.7 460.9,205.0 463.2,205.3 465.5,205.5 467.8,205.7 470.0,205.9 472.3,206.0 474.6,206.2 476.9,206.3 479.1,206.5 481.4,206.6 483.7,206.8 486.0,206.9 488.2,207.0 490.5,207.1 492.8,207.3 495.1,207.4 497.3,207.5 499.6,207.6 501.9,207.7 504.1,207.8 506.4,207.9 508.7,208.1 511.0,208.2 513.2,208.3 515.5,208.4 517.8,208.5 520.1,208.6 522.3,208.7 524.6,208.9 526.9,209.0 529.2,209.1 531.4,209.2 533.7,209.4 536.0,209.5 538.3,209.6 540.5,209.8 542.8,209.9 545.1,210.1" fill="none" stroke="#f40000" stroke-width="1.3"/>
<polyline points="47.0,197.9 49.3,198.0 51.5,198.0 53.8,198.1 56.1,198.1 58.4,198.2 60.6,198.2 62.9,198.3 65.2,198.3 67.5,198.3 69.7,198.3 72.0,198.3 74.3,198.3 76.6,198.3 78.8,198.3 81.1,198.3 83.4,198.3 85.7,198.2 87.9,198.2 90.2,198.2 92.5,198.2 94.8,198.1 97.0,198.1 99.3,198.0 101.6,198.0 103.9,198.0 106.1,197.9 108.4,197.9 110.7,197.8 113.0,197.8 115.2,197.8 117.5,197.7 119.8,197.7 122.1,197.7 124.3,197.7 126.6,197.7 128.9,197.8 131.2,197.9 133.4,198.1 135.7,198.3 138.0,198.6 140.2,198.9 142.5,199.2 144.8,199.5 147.1,199.8 149.3,200.1 151.6,200.4 153.9,200.7 156.2,201.0 158.4,201.3 160.7,201.7 163.0,202.2 165.3,202.6 167.5,203.1 169.8,203.6 172.1,204.2 174.4,204.7 176.6,205.2 178.9,205.7 181.2,206.2 183.5,206.8 185.7,207.3 188.0,207.8 190.3,208.3 192.6,208.8 194.8,209.3 197.1,209.7 199.4,210.2 201.7,210.7 203.9,211.1 206.2,211.6 208.5,212.1 210.8,212.5 213.0,213.0 215.3,213.5 217.6,213.9 219.9,214.3 222.1,214.7 224.4,215.1 226.7,215.4 229.0,215.7 231.2,216.0 233.5,216.3 235.8,216.5 238.0,216.8 240.3,217.1 242.6,217.3 244.9,217.5 247.1,217.7 249.4,217.9 251.7,218.1 254.0,218.2 256.2,218.3 258.5,218.4 260.8,218.4 263.1,218.5 265.3,218.6 267.6,218.7 269.9,218.7 272.2,218.8 274.4,218.8 276.7,218.9 279.0,218.8 281.3,218.8 283.5,218.7 285.8,218.5 288.1,218.3 290.4,218.1 292.6,217.9 294.9,217.6 297.2,217.2 299.5,216.6 301.7,215.8 304.0,214.9 306.3,213.9 308.6,212.9 310.8,211.8 313.1,210.6 315.4,209.3 317.7,208.0 319.9,206.6 322.2,205.1 324.5,203.5 326.7,201.8 329.0,200.0 331.3,198.1 333.6,196.0 335.8,193.7 338.1,191.1 340.4,188.3 342.7,185.2 344.9,181.7 347.2,178.0 349.5,173.8 351.8,169.2 354.0,164.2 356.3,158.8 358.6,153.0 360.9,146.9 363.1,140.5 365.4,133.8 367.7,127.0 370.0,120.1 372.2,113.3 374.5,106.8 376.8,100.6 379.1,94.9 381.3,89.8 383.6,85.5 385.9,82.0 388.2,79.5 390.4,78.0 392.7,77.6 395.0,78.5 397.3,81.0 399.5,84.9 401.8,90.2 404.1,96.6 406.4,103.9 408.6,111.9 410.9,120.3 413.2,128.9 415.4,137.4 417.7,145.7 420.0,153.6 422.3,161.0 424.5,167.7 426.8,173.7 429.1,179.0 431.4,183.7 433.6,187.6 435.9,190.9 438.2,193.6 440.5,195.9 442.7,197.7 445.0,199.1 447.3,200.3 449.6,201.1 451.8,201.8 454.1,202.3 456.4,202.7 458.7,203.0 460.9,203.3 463.2,203.4 465.5,203.6 467.8,203.7 470.0,203.8 472.3,203.8 474.6,203.9 476.9,204.0 479.1,204.0 481.4,204.0 483.7,204.1 486.0,204.1 488.2,204.2 490.5,204.2 492.8,204.2 495.1,204.3 497.3,204.3 499.6,204.3 501.9,204.4 504.1,204.4 506.4,204.5 508.7,204.5 511.0,204.5 513.2,204.6 515.5,204.6 517.8,204.7 520.1,204.7 522.3,204.8 524.6,204.9 526.9,204.9 529.2,205.0 531.4,205.1 533.7,205.1 536.0,205.2 538.3,205.3 540.5,205.4 542.8,205.5 545.1,205.6" fill="none" stroke="#f40000" stroke-width="1.3"/>
<polyline points="47.0,202.7 49.3,202.5 51.5,202.4 53.8,202.2 56.1,202.1 58.4,202.0 60.6,201.8 62.9,201.7 65.2,201.6 67.5,201.5 69.7,201.3 72.0,201.2 74.3,201.1 76.6,201.0 78.8,200.9 81.1,200.8 83.4,200.7 85.7,200.6 87.9,200.5 90.2,200.4 92.5,200.3 94.8,200.2 97.0,200.1 99.3,200.0 101.6,199.9 103.9,199.8 106.1,199.7 108.4,199.5 110.7,199.4 113.0,199.3 115.2,199.2 117.5,199.2 119.8,199.1 122.1,199.0 124.3,198.9 126.6,198.9 128.9,199.0 131.2,199.1 133.4,199.3 135.7,199.5 138.0,199.8 140.2,200.0 142.5,200.3 144.8,200.5 147.1,200.8 149.3,201.1 151.6,201.3 153.9,201.6 156.2,201.9 158.4,202.3 160.7,202.7 163.0,203.1 165.3,203.6 167.5,204.1 169.8,204.6 172.1,205.1 174.4,205.7 176.6,206.2 178.9,206.7 181.2,207.3 183.5,207.8 185.7,208.3 188.0,208.9 190.3,209.4 192.6,209.9 194.8,210.4 197.1,210.9 199.4,211.4 201.7,211.9 203.9,212.4 206.2,212.9 208.5,213.4 210.8,213.9 213.0,214.4 215.3,214.9 217.6,215.4 219.9,215.9 222.1,216.3 224.4,216.7 226.7,217.1 229.0,217.4 231.2,217.8 233.5,218.1 235.8,218.4 238.0,218.7 240.3,219.0 242.6,219.3 244.9,219.6 247.1,219.9 249.4,220.1 251.7,220.3 254.0,220.4 256.2,220.6 258.5,220.7 260.8,220.9 263.1,221.0 265.3,221.1 267.6,221.3 269.9,221.4 272.2,221.5 274.4,221.6 276.7,221.6 279.0,221.6 281.3,221.6 283.5,221.5 285.8,221.3 288.1,221.2 290.4,221.0 292.6,220.7 294.9,220.4 297.2,219.9 299.5,219.1 301.7,218.3 304.0,217.2 306.3,216.1 308.6,214.9 310.8,213.7 313.1,212.5 315.4,211.2 317.7,209.8 319.9,208.3 322.2,206.7 324.5,205.2 326.7,203.5 329.0,201.8 331.3,200.0 333.6,198.0 335.8,195.9 338.1,193.6 340.4,191.0 342.7,188.2 344.9,185.2 347.2,181.8 349.5,178.0 351.8,173.8 354.0,169.2 356.3,164.2 358.6,158.7 360.9,152.9 363.1,146.7 365.4,140.2 367.7,133.5 370.0,126.7 372.2,119.9 374.5,113.3 376.8,107.0 379.1,101.1 381.3,95.7 383.6,91.2 385.9,87.4 388.2,84.6 390.4,82.8 392.7,82.2 395.0,82.8 397.3,85.3 399.5,89.5 401.8,95.3 404.1,102.3 406.4,110.4 408.6,119.1 410.9,128.1 413.2,137.2 415.4,146.0 417.7,154.3 420.0,162.0 422.3,168.9 424.5,175.0 426.8,180.3 429.1,184.8 431.4,188.5 433.6,191.5 435.9,193.9 438.2,195.8 440.5,197.3 442.7,198.4 445.0,199.3 447.3,199.9 449.6,200.4 451.8,200.7 454.1,201.0 456.4,201.2 458.7,201.4 460.9,201.5 463.2,201.6 465.5,201.7 467.8,201.8 470.0,201.8 472.3,201.9 474.6,201.9 476.9,202.0 479.1,202.0 481.4,202.0 483.7,202.1 486.0,202.1 488.2,202.1 490.5,202.2 492.8,202.2 495.1,202.2 497.3,202.2 499.6,202.2 501.9,202.2 504.1,202.2 506.4,202.2 508.7,202.2 511.0,202.2 513.2,202.2 515.5,202.2 517.8,202.2 520.1,202.2 522.3,202.2 524.6,202.2 526.9,202.2 529.2,202.2 531.4,202.2 533.7,202.2 536.0,202.2 538.3,202.2 540.5,202.2 542.8,202.3 545.1,202.3" fill="none" stroke="#f40000" stroke-width="1.3"/>
<polyline points="47.0,199.6 49.3,199.4 51.5,199.2 53.8,199.1 56.1,198.9 58.4,198.7 60.6,198.5 62.9,198.3 65.2,198.2 67.5,198.0 69.7,197.9 72.0,197.7 74.3,197.6 76.6,197.4 78.8,197.3 81.1,197.1 83.4,197.0 85.7,196.9 87.9,196.8 90.2,196.7 92.5,196.5 94.8,196.4 97.0,196.3 99.3,196.2 101.6,196.2 103.9,196.1 106.1,196.0 108.4,195.9 110.7,195.8 113.0,195.8 115.2,195.7 117.5,195.7 119.8,195.6 122.1,195.6 124.3,195.6 126.6,195.6 128.9,195.6 131.2,195.6 133.4,195.7 135.7,195.8 138.0,195.9 140.2,196.0 142.5,196.1 144.8,196.2 147.1,196.3 149.3,196.4 151.6,196.6 153.9,196.7 156.2,196.8 158.4,197.0 160.7,197.2 163.0,197.3 165.3,197.5 167.5,197.7 169.8,197.9 172.1,198.1 174.4,198.3 176.6,198.5 178.9,198.8 181.2,199.0 183.5,199.2 185.7,199.4 188.0,199.6 190.3,199.8 192.6,199.9 194.8,200.1 197.1,200.3 199.4,200.5 201.7,200.6 203.9,200.8 206.2,201.0 208.5,201.1 210.8,201.3 213.0,201.4 215.3,201.6 217.6,201.7 219.9,201.9 222.1,202.0 224.4,202.1 226.7,202.2 229.0,202.2 231.2,202.3 233.5,202.4 235.8,202.4 238.0,202.5 240.3,202.5 242.6,202.6 244.9,202.6 247.1,202.6 249.4,202.6 251.7,202.6 254.0,202.6 256.2,202.6 258.5,202.6 260.8,202.6 263.1,202.5 265.3,202.5 267.6,202.5 269.9,202.5 272.2,202.4 274.4,202.4 276.7,202.4 279.0,202.3 281.3,202.2 283.5,202.2 285.8,202.1 288.1,202.0 290.4,201.9 292.6,201.8 294.9,201.6 297.2,201.4 299.5,201.2 301.7,200.9 304.0,200.6 306.3,200.2 308.6,199.8 310.8,199.3 313.1,198.9 315.4,198.3 317.7,197.8 319.9,197.1 322.2,196.4 324.5,195.5 326.7,194.6 329.0,193.6 331.3,192.4 333.6,191.0 335.8,189.3 338.1,187.4 340.4,185.1 342.7,182.5 344.9,179.5 347.2,176.1 349.5,172.2 351.8,167.8 354.0,163.0 356.3,157.7 358.6,151.9 360.9,145.7 363.1,139.2 365.4,132.4 367.7,125.4 370.0,118.4 372.2,111.4 374.5,104.7 376.8,98.2 379.1,92.3 381.3,87.1 383.6,82.6 385.9,79.0 388.2,76.4 390.4,74.9 392.7,74.4 395.0,75.5 397.3,78.2 399.5,82.6 401.8,88.5 404.1,95.6 406.4,103.6 408.6,112.3 410.9,121.4 413.2,130.6 415.4,139.6 417.7,148.3 420.0,156.4 422.3,163.8 424.5,170.5 426.8,176.4 429.1,181.5 431.4,185.8 433.6,189.4 435.9,192.4 438.2,194.8 440.5,196.7 442.7,198.3 445.0,199.4 447.3,200.3 449.6,201.0 451.8,201.5 454.1,201.9 456.4,202.2 458.7,202.5 460.9,202.7 463.2,202.8 465.5,202.9 467.8,203.0 470.0,203.1 472.3,203.2 474.6,203.3 476.9,203.4 479.1,203.5 481.4,203.6 483.7,203.6 486.0,203.7 488.2,203.8 490.5,203.9 492.8,204.0 495.1,204.1 497.3,204.2 499.6,204.3 501.9,204.4 504.1,204.5 506.4,204.6 508.7,204.8 511.0,204.9 513.2,205.0 515.5,205.2 517.8,205.3 520.1,205.4 522.3,205.6 524.6,205.7 526.9,205.9 529.2,206.0 531.4,206.2 533.7,206.4 536.0,206.6 538.3,206.7 540.5,206.9 542.8,207.1 545.1,207.3" fill="none" stroke="#f40000" stroke-width="1.3"/>
<polyline points="47.0,200.4 49.3,200.1 51.5,199.8 53.8,199.5 56.1,199.3 58.4,199.1 60.6,198.9 62.9,198.6 65.2,198.4 67.5,198.3 69.7,198.1 72.0,197.9 74.3,197.8 76.6,197.6 78.8,197.5 81.1,197.4 83.4,197.2 85.7,197.1 87.9,197.0 90.2,197.0 92.5,196.9 94.8,196.8 97.0,196.7 99.3,196.7 101.6,196.6 103.9,196.6 106.1,196.6 108.4,196.5 110.7,196.5 113.0,196.5 115.2,196.5 117.5,196.5 119.8,196.5 122.1,196.5 124.3,196.6 126.6,196.7 128.9,196.8 131.2,197.1 133.4,197.3 135.7,197.6 138.0,198.0 140.2,198.3 142.5,198.6 144.8,199.0 147.1,199.3 149.3,199.7 151.6,200.0 153.9,200.3 156.2,200.7 158.4,201.1 160.7,201.5 163.0,202.0 165.3,202.5 167.5,203.0 169.8,203.5 172.1,204.0 174.4,204.5 176.6,205.0 178.9,205.5 181.2,206.0 183.5,206.5 185.7,207.0 188.0,207.4 190.3,207.9 192.6,208.3 194.8,208.7 197.1,209.1 199.4,209.5 201.7,209.9 203.9,210.3 206.2,210.7 208.5,211.1 210.8,211.4 213.0,211.8 215.3,212.2 217.6,212.5 219.9,212.9 222.1,213.2 224.4,213.4 226.7,213.6 229.0,213.9 231.2,214.0 233.5,214.2 235.8,214.4 238.0,214.6 240.3,214.8 242.6,215.0 244.9,215.1 247.1,215.2 249.4,215.4 251.7,215.4 254.0,215.5 256.2,215.6 258.5,215.6 260.8,215.7 263.1,215.7 265.3,215.8 267.6,215.9 269.9,215.9 272.2,216.0 274.4,216.1 276.7,216.1 279.0,216.1 281.3,216.0 283.5,216.0 285.8,215.8 288.1,215.7 290.4,215.6 292.6,215.4 294.9,215.1 297.2,214.7 299.5,214.1 301.7,213.3 304.0,212.5 306.3,211.5 308.6,210.6 310.8,209.6 313.1,208.5 315.4,207.4 317.7,206.3 319.9,205.1 322.2,203.8 324.5,202.6 326.7,201.3 329.0,200.0 331.3,198.6 333.6,197.1 335.8,195.4 338.1,193.6 340.4,191.6 342.7,189.4 344.9,186.9 347.2,184.1 349.5,181.0 351.8,177.5 354.0,173.6 356.3,169.3 358.6,164.5 360.9,159.3 363.1,153.7 365.4,147.8 367.7,141.6 370.0,135.1 372.2,128.6 374.5,122.2 376.8,115.9 379.1,109.9 381.3,104.4 383.6,99.4 385.9,95.2 388.2,91.8 390.4,89.4 392.7,87.9 395.0,87.5 397.3,88.4 399.5,90.7 401.8,94.3 404.1,99.0 406.4,104.9 408.6,111.5 410.9,118.7 413.2,126.4 415.4,134.2 417.7,142.0 420.0,149.6 422.3,156.8 424.5,163.5 426.8,169.6 429.1,175.2 431.4,180.1 433.6,184.3 435.9,188.0 438.2,191.1 440.5,193.6 442.7,195.8 445.0,197.5 447.3,198.8 449.6,199.9 451.8,200.8 454.1,201.5 456.4,202.0 458.7,202.4 460.9,202.8 463.2,203.1 465.5,203.3 467.8,203.5 470.0,203.7 472.3,203.9 474.6,204.0 476.9,204.2 479.1,204.3 481.4,204.5 483.7,204.7 486.0,204.8 488.2,205.0 490.5,205.2 492.8,205.3 495.1,205.5 497.3,205.7 499.6,205.9 501.9,206.1 504.1,206.3 506.4,206.5 508.7,206.7 511.0,206.9 513.2,207.1 515.5,207.3 517.8,207.5 520.1,207.7 522.3,207.9 524.6,208.2 526.9,208.4 529.2,208.6 531.4,208.8 533.7,209.1 536.0,209.3 538.3,209.5 540.5,209.7 542.8,210.0 545.1,210.2" fill="none" stroke="#f40000" stroke-width="1.3"/>
<polyline points="47.0,212.9 49.3,212.2 51.5,211.4 53.8,210.7 56.1,210.0 58.4,209.4 60.6,208.8 62.9,208.2 65.2,207.6 67.5,207.1 69.7,206.5 72.0,206.0 74.3,205.6 76.6,205.1 78.8,204.7 81.1,204.3 83.4,203.9 85.7,203.5 87.9,203.1 90.2,202.8 92.5,202.5 94.8,202.2 97.0,201.9 99.3,201.6 101.6,201.3 103.9,201.1 106.1,200.8 108.4,200.6 110.7,200.4 113.0,200.2 115.2,200.0 117.5,199.8 119.8,199.7 122.1,199.6 124.3,199.6 126.6,199.6 128.9,199.7 131.2,199.9 133.4,200.1 135.7,200.4 138.0,200.6 140.2,200.9 142.5,201.2 144.8,201.5 147.1,201.8 149.3,202.1 151.6,202.4 153.9,202.7 156.2,203.1 158.4,203.6 160.7,204.1 163.0,204.6 165.3,205.1 167.5,205.7 169.8,206.2 172.1,206.8 174.4,207.4 176.6,208.0 178.9,208.5 181.2,209.1 183.5,209.7 185.7,210.2 188.0,210.7 190.3,211.3 192.6,211.8 194.8,212.3 197.1,212.8 199.4,213.3 201.7,213.7 203.9,214.2 206.2,214.7 208.5,215.2 210.8,215.7 213.0,216.2 215.3,216.6 217.6,217.1 219.9,217.5 222.1,217.8 224.4,218.1 226.7,218.4 229.0,218.7 231.2,218.9 233.5,219.2 235.8,219.4 238.0,219.7 240.3,219.9 242.6,220.1 244.9,220.3 247.1,220.4 249.4,220.5 251.7,220.6 254.0,220.7 256.2,220.8 258.5,220.8 260.8,220.9 263.1,220.9 265.3,221.0 267.6,221.1 269.9,221.1 272.2,221.1 274.4,221.1 276.7,221.1 279.0,220.9 281.3,220.8 283.5,220.6 285.8,220.4 288.1,220.2 290.4,219.9 292.6,219.5 294.9,218.9 297.2,218.2 299.5,217.3 301.7,216.2 304.0,215.1 306.3,213.9 308.6,212.8 310.8,211.6 313.1,210.3 315.4,209.0 317.7,207.7 319.9,206.3 322.2,204.9 324.5,203.5 326.7,202.2 329.0,200.8 331.3,199.3 333.6,197.8 335.8,196.1 338.1,194.4 340.4,192.4 342.7,190.3 344.9,187.9 347.2,185.2 349.5,182.1 351.8,178.7 354.0,174.7 356.3,170.4 358.6,165.6 360.9,160.2 363.1,154.5 365.4,148.3 367.7,141.8 370.0,135.0 372.2,128.0 374.5,121.0 376.8,114.2 379.1,107.6 381.3,101.4 383.6,95.8 385.9,90.9 388.2,86.9 390.4,83.8 392.7,81.8 395.0,80.8 397.3,81.2 399.5,83.2 401.8,87.0 404.1,92.4 406.4,99.2 408.6,107.0 410.9,115.6 413.2,124.7 415.4,133.9 417.7,143.0 420.0,151.7 422.3,159.9 424.5,167.4 426.8,174.1 429.1,180.0 431.4,185.0 433.6,189.3 435.9,192.9 438.2,195.7 440.5,198.1 442.7,199.9 445.0,201.3 447.3,202.4 449.6,203.3 451.8,203.9 454.1,204.4 456.4,204.8 458.7,205.1 460.9,205.3 463.2,205.5 465.5,205.6 467.8,205.7 470.0,205.9 472.3,206.0 474.6,206.1 476.9,206.2 479.1,206.2 481.4,206.3 483.7,206.4 486.0,206.5 488.2,206.6 490.5,206.7 492.8,206.8 495.1,206.9 497.3,207.1 499.6,207.2 501.9,207.3 504.1,207.4 506.4,207.5 508.7,207.7 511.0,207.8 513.2,207.9 515.5,208.1 517.8,208.2 520.1,208.4 522.3,208.5 524.6,208.7 526.9,208.8 529.2,209.0 531.4,209.2 533.7,209.4 536.0,209.5 538.3,209.7 540.5,209.9 542.8,210.1 545.1,210.3" fill="none" stroke="#f40000" stroke-width="1.3"/>
<polyline points="47.0,207.7 49.3,207.0 51.5,206.4 53.8,205.8 56.1,205.3 58.4,204.7 60.6,204.2 62.9,203.7 65.2,203.3 67.5,202.9 69.7,202.5 72.0,202.1 74.3,201.8 76.6,201.5 78.8,201.2 81.1,200.9 83.4,200.7 85.7,200.4 87.9,200.2 90.2,200.0 92.5,199.8 94.8,199.6 97.0,199.5 99.3,199.3 101.6,199.2 103.9,199.1 106.1,198.9 108.4,198.8 110.7,198.8 113.0,198.7 115.2,198.6 117.5,198.5 119.8,198.5 122.1,198.4 124.3,198.3 126.6,198.3 128.9,198.3 131.2,198.4 133.4,198.5 135.7,198.6 138.0,198.8 140.2,199.1 142.5,199.3 144.8,199.5 147.1,199.8 149.3,200.0 151.6,200.3 153.9,200.5 156.2,200.8 158.4,201.0 160.7,201.3 163.0,201.6 165.3,201.9 167.5,202.3 169.8,202.7 172.1,203.1 174.4,203.5 176.6,203.9 178.9,204.3 181.2,204.7 183.5,205.1 185.7,205.5 188.0,205.8 190.3,206.2 192.6,206.6 194.8,206.9 197.1,207.2 199.4,207.6 201.7,207.9 203.9,208.2 206.2,208.5 208.5,208.8 210.8,209.1 213.0,209.4 215.3,209.8 217.6,210.1 219.9,210.4 222.1,210.7 224.4,211.0 226.7,211.2 229.0,211.4 231.2,211.6 233.5,211.8 235.8,212.0 238.0,212.2 240.3,212.3 242.6,212.5 244.9,212.7 247.1,212.9 249.4,213.0 251.7,213.2 254.0,213.3 256.2,213.4 258.5,213.5 260.8,213.6 263.1,213.7 265.3,213.8 267.6,213.9 269.9,214.0 272.2,214.1 274.4,214.2 276.7,214.3 279.0,214.4 281.3,214.5 283.5,214.5 285.8,214.5 288.1,214.4 290.4,214.4 292.6,214.3 294.9,214.2 297.2,214.0 299.5,213.8 301.7,213.4 304.0,212.8 306.3,212.1 308.6,211.3 310.8,210.5 313.1,209.6 315.4,208.6 317.7,207.7 319.9,206.6 322.2,205.5 324.5,204.3 326.7,203.0 329.0,201.6 331.3,200.2 333.6,198.6 335.8,196.9 338.1,195.0 340.4,192.8 342.7,190.4 344.9,187.7 347.2,184.6 349.5,181.1 351.8,177.2 354.0,172.8 356.3,167.9 358.6,162.4 360.9,156.5 363.1,150.0 365.4,143.1 367.7,135.9 370.0,128.4 372.2,120.7 374.5,113.0 376.8,105.4 379.1,98.2 381.3,91.6 383.6,85.5 385.9,80.4 388.2,76.2 390.4,73.1 392.7,71.2 395.0,70.6 397.3,71.6 399.5,74.7 401.8,79.7 404.1,86.3 406.4,94.3 408.6,103.2 410.9,112.8 413.2,122.6 415.4,132.3 417.7,141.7 420.0,150.5 422.3,158.5 424.5,165.7 426.8,171.9 429.1,177.2 431.4,181.7 433.6,185.3 435.9,188.2 438.2,190.5 440.5,192.3 442.7,193.6 445.0,194.6 447.3,195.3 449.6,195.9 451.8,196.2 454.1,196.5 456.4,196.7 458.7,196.8 460.9,197.0 463.2,197.0 465.5,197.1 467.8,197.2 470.0,197.2 472.3,197.3 474.6,197.4 476.9,197.4 479.1,197.5 481.4,197.6 483.7,197.7 486.0,197.7 488.2,197.8 490.5,197.9 492.8,198.0 495.1,198.1 497.3,198.2 499.6,198.3 501.9,198.4 504.1,198.5 506.4,198.6 508.7,198.6 511.0,198.7 513.2,198.8 515.5,198.9 517.8,199.0 520.1,199.1 522.3,199.2 524.6,199.3 526.9,199.4 529.2,199.5 531.4,199.6 533.7,199.6 536.0,199.7 538.3,199.8 540.5,199.9 542.8,199.9 545.1,200.0" fill="none" stroke="#f40000" stroke-width="1.3"/>
<polyline points="47.0,208.2 49.3,207.6 51.5,207.1 53.8,206.6 56.1,206.1 58.4,205.6 60.6,205.2 62.9,204.8 65.2,204.4 67.5,204.1 69.7,203.7 72.0,203.4 74.3,203.1 76.6,202.9 78.8,202.6 81.1,202.4 83.4,202.2 85.7,202.0 87.9,201.8 90.2,201.6 92.5,201.5 94.8,201.3 97.0,201.2 99.3,201.1 101.6,201.0 103.9,200.9 106.1,200.8 108.4,200.7 110.7,200.6 113.0,200.6 115.2,200.5 117.5,200.5 119.8,200.4 122.1,200.4 124.3,200.4 126.6,200.5 128.9,200.7 131.2,200.9 133.4,201.1 135.7,201.4 138.0,201.7 140.2,202.1 142.5,202.4 144.8,202.7 147.1,203.0 149.3,203.3 151.6,203.6 153.9,204.0 156.2,204.3 158.4,204.7 160.7,205.1 163.0,205.6 165.3,206.1 167.5,206.6 169.8,207.1 172.1,207.6 174.4,208.1 176.6,208.6 178.9,209.1 181.2,209.6 183.5,210.1 185.7,210.6 188.0,211.0 190.3,211.5 192.6,211.9 194.8,212.3 197.1,212.7 199.4,213.1 201.7,213.5 203.9,213.9 206.2,214.3 208.5,214.7 210.8,215.1 213.0,215.5 215.3,215.9 217.6,216.2 219.9,216.6 222.1,216.9 224.4,217.2 226.7,217.4 229.0,217.6 231.2,217.9 233.5,218.1 235.8,218.3 238.0,218.5 240.3,218.7 242.6,218.9 244.9,219.1 247.1,219.3 249.4,219.4 251.7,219.5 254.0,219.6 256.2,219.7 258.5,219.8 260.8,219.9 263.1,220.0 265.3,220.2 267.6,220.3 269.9,220.4 272.2,220.5 274.4,220.6 276.7,220.6 279.0,220.7 281.3,220.6 283.5,220.5 285.8,220.5 288.1,220.3 290.4,220.2 292.6,220.0 294.9,219.7 297.2,219.2 299.5,218.5 301.7,217.6 304.0,216.7 306.3,215.7 308.6,214.6 310.8,213.5 313.1,212.4 315.4,211.2 317.7,209.9 319.9,208.6 322.2,207.2 324.5,205.9 326.7,204.5 329.0,203.2 331.3,201.7 333.6,200.2 335.8,198.5 338.1,196.7 340.4,194.8 342.7,192.6 344.9,190.2 347.2,187.6 349.5,184.6 351.8,181.3 354.0,177.5 356.3,173.4 358.6,168.8 360.9,163.8 363.1,158.4 365.4,152.7 367.7,146.6 370.0,140.4 372.2,134.0 374.5,127.6 376.8,121.3 379.1,115.2 381.3,109.5 383.6,104.4 385.9,99.8 388.2,96.0 390.4,93.1 392.7,91.1 395.0,90.1 397.3,90.2 399.5,92.0 401.8,95.4 404.1,100.3 406.4,106.6 408.6,113.9 410.9,122.0 413.2,130.6 415.4,139.3 417.7,147.9 420.0,156.2 422.3,163.9 424.5,171.0 426.8,177.4 429.1,183.0 431.4,187.8 433.6,191.8 435.9,195.2 438.2,197.9 440.5,200.2 442.7,201.9 445.0,203.3 447.3,204.4 449.6,205.2 451.8,205.9 454.1,206.4 456.4,206.8 458.7,207.2 460.9,207.5 463.2,207.8 465.5,208.0 467.8,208.3 470.0,208.5 472.3,208.7 474.6,209.0 476.9,209.2 479.1,209.4 481.4,209.7 483.7,209.9 486.0,210.2 488.2,210.4 490.5,210.7 492.8,210.9 495.1,211.2 497.3,211.4 499.6,211.7 501.9,212.0 504.1,212.2 506.4,212.5 508.7,212.8 511.0,213.0 513.2,213.3 515.5,213.6 517.8,213.8 520.1,214.1 522.3,214.4 524.6,214.6 526.9,214.9 529.2,215.2 531.4,215.4 533.7,215.7 536.0,216.0 538.3,216.2 540.5,216.5 542.8,216.7 545.1,217.0" fill="none" stroke="#f40000" stroke-width="1.3"/>
<polyline points="47.0,195.3 49.3,195.2 51.5,195.2 53.8,195.1 56.1,195.0 58.4,195.0 60.6,194.9 62.9,194.9 65.2,194.8 67.5,194.8 69.7,194.7 72.0,194.7 74.3,194.6 76.6,194.6 78.8,194.6 81.1,194.5 83.4,194.5 85.7,194.5 87.9,194.5 90.2,194.5 92.5,194.5 94.8,194.5 97.0,194.5 99.3,194.5 101.6,194.5 103.9,194.5 106.1,194.5 108.4,194.5 110.7,194.5 113.0,194.6 115.2,194.6 117.5,194.6 119.8,194.7 122.1,194.8 124.3,194.9 126.6,195.1 128.9,195.4 131.2,195.7 133.4,196.0 135.7,196.3 138.0,196.7 140.2,197.1 142.5,197.4 144.8,197.8 147.1,198.1 149.3,198.5 151.6,198.9 153.9,199.2 156.2,199.7 158.4,200.1 160.7,200.6 163.0,201.1 165.3,201.6 167.5,202.2 169.8,202.7 172.1,203.2 174.4,203.7 176.6,204.3 178.9,204.8 181.2,205.3 183.5,205.8 185.7,206.3 188.0,206.7 190.3,207.2 192.6,207.6 194.8,208.0 197.1,208.4 199.4,208.8 201.7,209.2 203.9,209.6 206.2,210.0 208.5,210.4 210.8,210.8 213.0,211.2 215.3,211.5 217.6,211.9 219.9,212.2 222.1,212.5 224.4,212.7 226.7,212.9 229.0,213.1 231.2,213.3 233.5,213.5 235.8,213.7 238.0,213.8 240.3,214.0 242.6,214.2 244.9,214.3 247.1,214.4 249.4,214.5 251.7,214.5 254.0,214.6 256.2,214.6 258.5,214.7 260.8,214.7 263.1,214.8 265.3,214.9 267.6,214.9 269.9,215.0 272.2,215.0 274.4,215.0 276.7,215.0 279.0,214.9 281.3,214.8 283.5,214.7 285.8,214.5 288.1,214.4 290.4,214.2 292.6,213.9 294.9,213.4 297.2,212.7 299.5,212.0 301.7,211.0 304.0,210.1 306.3,209.0 308.6,208.0 310.8,206.8 313.1,205.6 315.4,204.4 317.7,203.0 319.9,201.6 322.2,200.0 324.5,198.5 326.7,196.9 329.0,195.1 331.3,193.2 333.6,191.2 335.8,188.9 338.1,186.5 340.4,183.8 342.7,180.8 344.9,177.6 347.2,174.0 349.5,170.1 351.8,165.8 354.0,161.2 356.3,156.3 358.6,151.0 360.9,145.5 363.1,139.7 365.4,133.8 367.7,127.8 370.0,121.9 372.2,116.0 374.5,110.4 376.8,105.2 379.1,100.4 381.3,96.2 383.6,92.7 385.9,89.9 388.2,87.9 390.4,86.9 392.7,86.7 395.0,87.9 397.3,90.8 399.5,95.1 401.8,100.8 404.1,107.6 406.4,115.2 408.6,123.3 410.9,131.7 413.2,140.1 415.4,148.2 417.7,156.0 420.0,163.1 422.3,169.5 424.5,175.3 426.8,180.2 429.1,184.4 431.4,188.0 433.6,190.9 435.9,193.2 438.2,195.1 440.5,196.5 442.7,197.7 445.0,198.5 447.3,199.2 449.6,199.7 451.8,200.1 454.1,200.3 456.4,200.6 458.7,200.7 460.9,200.9 463.2,201.0 465.5,201.1 467.8,201.2 470.0,201.3 472.3,201.4 474.6,201.5 476.9,201.6 479.1,201.7 481.4,201.8 483.7,201.9 486.0,202.1 488.2,202.2 490.5,202.3 492.8,202.5 495.1,202.6 497.3,202.7 499.6,202.9 501.9,203.0 504.1,203.2 506.4,203.3 508.7,203.5 511.0,203.7 513.2,203.9 515.5,204.0 517.8,204.2 520.1,204.4 522.3,204.6 524.6,204.8 526.9,204.9 529.2,205.1 531.4,205.3 533.7,205.5 536.0,205.7 538.3,205.9 540.5,206.1 542.8,206.3 545.1,206.5" fill="none" stroke="#f40000" stroke-width="1.3"/>
<polyline points="47.0,199.1 49.3,199.2 51.5,199.2 53.8,199.2 56.1,199.3 58.4,199.3 60.6,199.3 62.9,199.3 65.2,199.3 67.5,199.3 69.7,199.3 72.0,199.3 74.3,199.3 76.6,199.3 78.8,199.2 81.1,199.2 83.4,199.2 85.7,199.1 87.9,199.1 90.2,199.1 92.5,199.0 94.8,199.0 97.0,198.9 99.3,198.9 101.6,198.8 103.9,198.8 106.1,198.7 108.4,198.7 110.7,198.6 113.0,198.6 115.2,198.5 117.5,198.4 119.8,198.4 122.1,198.3 124.3,198.3 126.6,198.3 128.9,198.3 131.2,198.4 133.4,198.5 135.7,198.6 138.0,198.7 140.2,198.9 142.5,199.1 144.8,199.2 147.1,199.4 149.3,199.6 151.6,199.7 153.9,199.9 156.2,200.1 158.4,200.3 160.7,200.5 163.0,200.8 165.3,201.1 167.5,201.4 169.8,201.7 172.1,202.0 174.4,202.4 176.6,202.7 178.9,203.0 181.2,203.4 183.5,203.7 185.7,204.1 188.0,204.4 190.3,204.7 192.6,205.0 194.8,205.4 197.1,205.7 199.4,206.0 201.7,206.3 203.9,206.6 206.2,206.9 208.5,207.2 210.8,207.6 213.0,207.9 215.3,208.2 217.6,208.5 219.9,208.8 222.1,209.1 224.4,209.3 226.7,209.6 229.0,209.8 231.2,210.0 233.5,210.2 235.8,210.4 238.0,210.5 240.3,210.7 242.6,210.9 244.9,211.1 247.1,211.2 249.4,211.3 251.7,211.4 254.0,211.5 256.2,211.6 258.5,211.7 260.8,211.7 263.1,211.8 265.3,211.8 267.6,211.9 269.9,211.9 272.2,211.9 274.4,212.0 276.7,212.0 279.0,212.0 281.3,211.9 283.5,211.8 285.8,211.7 288.1,211.6 290.4,211.5 292.6,211.3 294.9,211.1 297.2,210.8 299.5,210.4 301.7,209.9 304.0,209.3 306.3,208.7 308.6,208.0 310.8,207.2 313.1,206.4 315.4,205.6 317.7,204.7 319.9,203.7 322.2,202.7 324.5,201.6 326.7,200.4 329.0,199.0 331.3,197.6 333.6,196.0 335.8,194.2 338.1,192.2 340.4,189.9 342.7,187.4 344.9,184.5 347.2,181.3 349.5,177.8 351.8,173.9 354.0,169.5 356.3,164.8 358.6,159.7 360.9,154.2 363.1,148.4 365.4,142.3 367.7,136.1 370.0,129.7 372.2,123.4 374.5,117.3 376.8,111.4 379.1,105.9 381.3,100.9 383.6,96.5 385.9,92.9 388.2,90.1 390.4,88.3 392.7,87.4 395.0,87.6 397.3,89.0 399.5,91.8 401.8,95.8 404.1,100.8 406.4,106.8 408.6,113.4 410.9,120.6 413.2,128.0 415.4,135.6 417.7,143.1 420.0,150.4 422.3,157.3 424.5,163.7 426.8,169.6 429.1,174.8 431.4,179.5 433.6,183.6 435.9,187.1 438.2,190.0 440.5,192.5 442.7,194.5 445.0,196.1 447.3,197.4 449.6,198.5 451.8,199.3 454.1,199.9 456.4,200.4 458.7,200.8 460.9,201.0 463.2,201.2 465.5,201.4 467.8,201.5 470.0,201.5 472.3,201.6 474.6,201.6 476.9,201.7 479.1,201.7 481.4,201.7 483.7,201.7 486.0,201.7 488.2,201.7 490.5,201.7 492.8,201.6 495.1,201.6 497.3,201.6 499.6,201.6 501.9,201.6 504.1,201.6 506.4,201.6 508.7,201.5 511.0,201.5 513.2,201.5 515.5,201.5 517.8,201.5 520.1,201.5 522.3,201.5 524.6,201.5 526.9,201.5 529.2,201.5 531.4,201.5 533.7,201.5 536.0,201.5 538.3,201.5 540.5,201.6 542.8,201.6 545.1,201.6" fill="none" stroke="#f40000" stroke-width="1.3"/>
<polyline points="47.0,210.3 49.3,209.6 51.5,208.9 53.8,208.3 56.1,207.7 58.4,207.2 60.6,206.7 62.9,206.2 65.2,205.7 67.5,205.2 69.7,204.8 72.0,204.4 74.3,204.1 76.6,203.7 78.8,203.4 81.1,203.1 83.4,202.8 85.7,202.6 87.9,202.3 90.2,202.1 92.5,201.9 94.8,201.7 97.0,201.5 99.3,201.3 101.6,201.2 103.9,201.1 106.1,200.9 108.4,200.8 110.7,200.7 113.0,200.6 115.2,200.5 117.5,200.5 119.8,200.4 122.1,200.3 124.3,200.3 126.6,200.3 128.9,200.3 131.2,200.5 133.4,200.6 135.7,200.8 138.0,201.1 140.2,201.3 142.5,201.6 144.8,201.8 147.1,202.1 149.3,202.4 151.6,202.6 153.9,202.9 156.2,203.1 158.4,203.4 160.7,203.8 163.0,204.1 165.3,204.5 167.5,204.9 169.8,205.3 172.1,205.8 174.4,206.2 176.6,206.6 178.9,207.0 181.2,207.4 183.5,207.8 185.7,208.2 188.0,208.6 190.3,209.0 192.6,209.4 194.8,209.7 197.1,210.0 199.4,210.4 201.7,210.7 203.9,211.0 206.2,211.3 208.5,211.7 210.8,212.0 213.0,212.3 215.3,212.6 217.6,212.9 219.9,213.2 222.1,213.5 224.4,213.7 226.7,213.9 229.0,214.1 231.2,214.3 233.5,214.5 235.8,214.6 238.0,214.8 240.3,215.0 242.6,215.1 244.9,215.3 247.1,215.4 249.4,215.5 251.7,215.6 254.0,215.7 256.2,215.8 258.5,215.8 260.8,215.9 263.1,216.0 265.3,216.1 267.6,216.1 269.9,216.2 272.2,216.3 274.4,216.4 276.7,216.5 279.0,216.5 281.3,216.5 283.5,216.5 285.8,216.4 288.1,216.3 290.4,216.2 292.6,216.1 294.9,215.9 297.2,215.7 299.5,215.2 301.7,214.7 304.0,214.0 306.3,213.2 308.6,212.3 310.8,211.4 313.1,210.5 315.4,209.5 317.7,208.4 319.9,207.3 322.2,206.1 324.5,204.9 326.7,203.6 329.0,202.3 331.3,200.9 333.6,199.3 335.8,197.6 338.1,195.7 340.4,193.6 342.7,191.2 344.9,188.5 347.2,185.5 349.5,182.2 351.8,178.4 354.0,174.2 356.3,169.5 358.6,164.4 360.9,158.8 363.1,152.9 365.4,146.6 367.7,140.0 370.0,133.3 372.2,126.5 374.5,119.8 376.8,113.3 379.1,107.1 381.3,101.5 383.6,96.5 385.9,92.3 388.2,89.0 390.4,86.7 392.7,85.5 395.0,85.4 397.3,86.7 399.5,89.5 401.8,93.7 404.1,99.1 406.4,105.5 408.6,112.8 410.9,120.5 413.2,128.6 415.4,136.8 417.7,144.8 420.0,152.5 422.3,159.8 424.5,166.5 426.8,172.6 429.1,178.0 431.4,182.7 433.6,186.7 435.9,190.2 438.2,193.0 440.5,195.4 442.7,197.3 445.0,198.8 447.3,200.0 449.6,200.9 451.8,201.6 454.1,202.2 456.4,202.7 458.7,203.0 460.9,203.3 463.2,203.5 465.5,203.7 467.8,203.9 470.0,204.1 472.3,204.2 474.6,204.4 476.9,204.5 479.1,204.7 481.4,204.8 483.7,205.0 486.0,205.1 488.2,205.3 490.5,205.4 492.8,205.6 495.1,205.8 497.3,205.9 499.6,206.1 501.9,206.3 504.1,206.5 506.4,206.7 508.7,206.8 511.0,207.0 513.2,207.2 515.5,207.4 517.8,207.6 520.1,207.8 522.3,208.0 524.6,208.2 526.9,208.3 529.2,208.5 531.4,208.7 533.7,208.9 536.0,209.1 538.3,209.3 540.5,209.5 542.8,209.6 545.1,209.8" fill="none" stroke="#f40000" stroke-width="1.3"/>
<polyline points="47.0,211.5 49.3,210.8 51.5,210.0 53.8,209.3 56.1,208.7 58.4,208.0 60.6,207.5 62.9,206.9 65.2,206.4 67.5,205.9 69.7,205.4 72.0,205.0 74.3,204.6 76.6,204.2 78.8,203.9 81.1,203.6 83.4,203.3 85.7,203.0 87.9,202.7 90.2,202.5 92.5,202.2 94.8,202.0 97.0,201.8 99.3,201.6 101.6,201.5 103.9,201.3 106.1,201.2 108.4,201.0 110.7,200.9 113.0,200.8 115.2,200.7 117.5,200.6 119.8,200.5 122.1,200.5 124.3,200.4 126.6,200.4 128.9,200.4 131.2,200.4 133.4,200.5 135.7,200.7 138.0,200.9 140.2,201.1 142.5,201.3 144.8,201.5 147.1,201.7 149.3,201.9 151.6,202.2 153.9,202.4 156.2,202.6 158.4,202.8 160.7,203.1 163.0,203.4 165.3,203.7 167.5,204.1 169.8,204.4 172.1,204.8 174.4,205.2 176.6,205.5 178.9,205.9 181.2,206.2 183.5,206.6 185.7,207.0 188.0,207.3 190.3,207.6 192.6,208.0 194.8,208.3 197.1,208.6 199.4,208.9 201.7,209.1 203.9,209.4 206.2,209.7 208.5,210.0 210.8,210.3 213.0,210.6 215.3,210.9 217.6,211.2 219.9,211.4 222.1,211.7 224.4,211.9 226.7,212.1 229.0,212.3 231.2,212.5 233.5,212.7 235.8,212.8 238.0,213.0 240.3,213.1 242.6,213.3 244.9,213.5 247.1,213.6 249.4,213.8 251.7,213.9 254.0,214.0 256.2,214.1 258.5,214.1 260.8,214.2 263.1,214.3 265.3,214.4 267.6,214.5 269.9,214.6 272.2,214.7 274.4,214.8 276.7,214.9 279.0,215.0 281.3,215.0 283.5,215.0 285.8,215.0 288.1,214.9 290.4,214.9 292.6,214.8 294.9,214.7 297.2,214.4 299.5,214.1 301.7,213.6 304.0,213.0 306.3,212.3 308.6,211.5 310.8,210.6 313.1,209.7 315.4,208.7 317.7,207.6 319.9,206.4 322.2,205.2 324.5,203.8 326.7,202.4 329.0,200.8 331.3,199.1 333.6,197.2 335.8,195.1 338.1,192.7 340.4,190.0 342.7,187.0 344.9,183.7 347.2,180.0 349.5,175.9 351.8,171.3 354.0,166.3 356.3,160.9 358.6,155.0 360.9,148.6 363.1,142.0 365.4,135.0 367.7,127.9 370.0,120.6 372.2,113.4 374.5,106.4 376.8,99.6 379.1,93.3 381.3,87.7 383.6,82.7 385.9,78.7 388.2,75.6 390.4,73.5 392.7,72.6 395.0,72.9 397.3,75.1 399.5,78.9 401.8,84.4 404.1,91.2 406.4,99.1 408.6,107.7 410.9,116.9 413.2,126.2 415.4,135.4 417.7,144.3 420.0,152.7 422.3,160.4 424.5,167.4 426.8,173.5 429.1,178.8 431.4,183.4 433.6,187.1 435.9,190.3 438.2,192.8 440.5,194.8 442.7,196.3 445.0,197.6 447.3,198.5 449.6,199.2 451.8,199.7 454.1,200.1 456.4,200.5 458.7,200.7 460.9,200.9 463.2,201.1 465.5,201.2 467.8,201.3 470.0,201.5 472.3,201.6 474.6,201.7 476.9,201.8 479.1,201.9 481.4,202.0 483.7,202.2 486.0,202.3 488.2,202.4 490.5,202.6 492.8,202.7 495.1,202.8 497.3,203.0 499.6,203.1 501.9,203.3 504.1,203.4 506.4,203.5 508.7,203.7 511.0,203.8 513.2,204.0 515.5,204.1 517.8,204.3 520.1,204.4 522.3,204.6 524.6,204.7 526.9,204.8 529.2,205.0 531.4,205.1 533.7,205.2 536.0,205.4 538.3,205.5 540.5,205.6 542.8,205.7 545.1,205.8" fill="none" stroke="#f40000" stroke-width="1.3"/>
<polyline points="47.0,203.5 49.3,203.3 51.5,203.2 53.8,203.0 56.1,202.8 58.4,202.7 60.6,202.5 62.9,202.4 65.2,202.2 67.5,202.1 69.7,201.9 72.0,201.8 74.3,201.6 76.6,201.5 78.8,201.4 81.1,201.2 83.4,201.1 85.7,201.0 87.9,200.8 90.2,200.7 92.5,200.6 94.8,200.5 97.0,200.4 99.3,200.2 101.6,200.1 103.9,200.0 106.1,199.9 108.4,199.8 110.7,199.7 113.0,199.6 115.2,199.5 117.5,199.4 119.8,199.3 122.1,199.2 124.3,199.1 126.6,199.1 128.9,199.1 131.2,199.1 133.4,199.2 135.7,199.4 138.0,199.6 140.2,199.8 142.5,200.0 144.8,200.2 147.1,200.5 149.3,200.7 151.6,200.9 153.9,201.2 156.2,201.4 158.4,201.7 160.7,202.0 163.0,202.4 165.3,202.8 167.5,203.2 169.8,203.6 172.1,204.1 174.4,204.5 176.6,205.0 178.9,205.4 181.2,205.9 183.5,206.4 185.7,206.9 188.0,207.3 190.3,207.8 192.6,208.2 194.8,208.7 197.1,209.1 199.4,209.5 201.7,209.9 203.9,210.4 206.2,210.8 208.5,211.2 210.8,211.6 213.0,212.1 215.3,212.5 217.6,212.9 219.9,213.3 222.1,213.7 224.4,214.1 226.7,214.4 229.0,214.7 231.2,215.0 233.5,215.2 235.8,215.5 238.0,215.7 240.3,215.9 242.6,216.2 244.9,216.4 247.1,216.6 249.4,216.8 251.7,216.9 254.0,217.1 256.2,217.2 258.5,217.3 260.8,217.3 263.1,217.4 265.3,217.5 267.6,217.5 269.9,217.6 272.2,217.7 274.4,217.7 276.7,217.8 279.0,217.8 281.3,217.7 283.5,217.7 285.8,217.5 288.1,217.4 290.4,217.2 292.6,217.1 294.9,216.8 297.2,216.5 299.5,216.1 301.7,215.5 304.0,214.8 306.3,214.0 308.6,213.1 310.8,212.1 313.1,211.1 315.4,210.0 317.7,208.9 319.9,207.7 322.2,206.4 324.5,205.0 326.7,203.6 329.0,202.1 331.3,200.5 333.6,198.8 335.8,196.9 338.1,194.7 340.4,192.3 342.7,189.6 344.9,186.5 347.2,183.1 349.5,179.4 351.8,175.1 354.0,170.4 356.3,165.3 358.6,159.6 360.9,153.5 363.1,147.0 365.4,140.2 367.7,133.0 370.0,125.7 372.2,118.4 374.5,111.1 376.8,104.2 379.1,97.6 381.3,91.6 383.6,86.3 385.9,81.9 388.2,78.4 390.4,76.1 392.7,74.9 395.0,74.9 397.3,76.5 399.5,79.9 401.8,84.8 404.1,91.0 406.4,98.4 408.6,106.7 410.9,115.6 413.2,124.8 415.4,134.1 417.7,143.2 420.0,151.9 422.3,160.0 424.5,167.5 426.8,174.2 429.1,180.1 431.4,185.3 433.6,189.7 435.9,193.4 438.2,196.5 440.5,199.0 442.7,201.1 445.0,202.7 447.3,204.0 449.6,205.0 451.8,205.8 454.1,206.4 456.4,206.9 458.7,207.3 460.9,207.6 463.2,207.9 465.5,208.1 467.8,208.3 470.0,208.4 472.3,208.6 474.6,208.7 476.9,208.8 479.1,209.0 481.4,209.1 483.7,209.2 486.0,209.3 488.2,209.4 490.5,209.5 492.8,209.7 495.1,209.8 497.3,209.9 499.6,210.0 501.9,210.1 504.1,210.2 506.4,210.3 508.7,210.5 511.0,210.6 513.2,210.7 515.5,210.8 517.8,210.9 520.1,211.1 522.3,211.2 524.6,211.3 526.9,211.5 529.2,211.6 531.4,211.7 533.7,211.9 536.0,212.0 538.3,212.2 540.5,212.4 542.8,212.5 545.1,212.7" fill="none" stroke="#f40000" stroke-width="1.3"/>
<polyline points="47.0,207.1 49.3,206.5 51.5,206.0 53.8,205.6 56.1,205.1 58.4,204.7 60.6,204.2 62.9,203.8 65.2,203.4 67.5,203.1 69.7,202.7 72.0,202.4 74.3,202.0 76.6,201.7 78.8,201.4 81.1,201.1 83.4,200.8 85.7,200.5 87.9,200.3 90.2,200.0 92.5,199.8 94.8,199.5 97.0,199.3 99.3,199.1 101.6,198.9 103.9,198.7 106.1,198.5 108.4,198.3 110.7,198.2 113.0,198.0 115.2,197.8 117.5,197.7 119.8,197.6 122.1,197.5 124.3,197.4 126.6,197.4 128.9,197.5 131.2,197.7 133.4,197.9 135.7,198.2 138.0,198.4 140.2,198.7 142.5,198.9 144.8,199.2 147.1,199.5 149.3,199.8 151.6,200.1 153.9,200.4 156.2,200.8 158.4,201.2 160.7,201.6 163.0,202.1 165.3,202.7 167.5,203.2 169.8,203.7 172.1,204.3 174.4,204.9 176.6,205.4 178.9,206.0 181.2,206.5 183.5,207.1 185.7,207.6 188.0,208.2 190.3,208.7 192.6,209.2 194.8,209.7 197.1,210.2 199.4,210.7 201.7,211.2 203.9,211.7 206.2,212.1 208.5,212.6 210.8,213.1 213.0,213.6 215.3,214.1 217.6,214.5 219.9,215.0 222.1,215.3 224.4,215.7 226.7,216.0 229.0,216.3 231.2,216.5 233.5,216.8 235.8,217.1 238.0,217.3 240.3,217.6 242.6,217.8 244.9,218.0 247.1,218.2 249.4,218.3 251.7,218.4 254.0,218.5 256.2,218.6 258.5,218.7 260.8,218.8 263.1,218.8 265.3,218.9 267.6,219.0 269.9,219.0 272.2,219.1 274.4,219.1 276.7,219.1 279.0,219.0 281.3,218.8 283.5,218.7 285.8,218.5 288.1,218.3 290.4,218.0 292.6,217.7 294.9,217.2 297.2,216.5 299.5,215.7 301.7,214.7 304.0,213.6 306.3,212.5 308.6,211.4 310.8,210.2 313.1,208.9 315.4,207.6 317.7,206.3 319.9,204.9 322.2,203.5 324.5,202.0 326.7,200.6 329.0,199.1 331.3,197.5 333.6,195.8 335.8,194.0 338.1,192.0 340.4,189.8 342.7,187.4 344.9,184.8 347.2,181.9 349.5,178.5 351.8,174.8 354.0,170.7 356.3,166.1 358.6,161.1 360.9,155.6 363.1,149.7 365.4,143.4 367.7,136.9 370.0,130.1 372.2,123.2 374.5,116.3 376.8,109.6 379.1,103.2 381.3,97.3 383.6,91.9 385.9,87.3 388.2,83.5 390.4,80.6 392.7,78.8 395.0,78.1 397.3,78.7 399.5,81.2 401.8,85.5 404.1,91.4 406.4,98.7 408.6,107.0 410.9,115.9 413.2,125.3 415.4,134.6 417.7,143.7 420.0,152.4 422.3,160.3 424.5,167.5 426.8,173.8 429.1,179.2 431.4,183.8 433.6,187.6 435.9,190.7 438.2,193.1 440.5,195.0 442.7,196.5 445.0,197.6 447.3,198.5 449.6,199.1 451.8,199.5 454.1,199.8 456.4,200.1 458.7,200.2 460.9,200.3 463.2,200.4 465.5,200.5 467.8,200.5 470.0,200.6 472.3,200.6 474.6,200.6 476.9,200.6 479.1,200.6 481.4,200.7 483.7,200.7 486.0,200.7 488.2,200.7 490.5,200.7 492.8,200.7 495.1,200.7 497.3,200.8 499.6,200.8 501.9,200.8 504.1,200.8 506.4,200.8 508.7,200.9 511.0,200.9 513.2,200.9 515.5,201.0 517.8,201.0 520.1,201.1 522.3,201.1 524.6,201.2 526.9,201.2 529.2,201.3 531.4,201.4 533.7,201.4 536.0,201.5 538.3,201.6 540.5,201.7 542.8,201.7 545.1,201.8" fill="none" stroke="#f40000" stroke-width="1.3"/>
<polyline points="47.0,210.4 49.3,209.8 51.5,209.2 53.8,208.7 56.1,208.2 58.4,207.7 60.6,207.3 62.9,206.9 65.2,206.5 67.5,206.1 69.7,205.7 72.0,205.4 74.3,205.1 76.6,204.8 78.8,204.5 81.1,204.3 83.4,204.0 85.7,203.8 87.9,203.5 90.2,203.3 92.5,203.1 94.8,202.9 97.0,202.7 99.3,202.5 101.6,202.3 103.9,202.2 106.1,202.0 108.4,201.8 110.7,201.7 113.0,201.5 115.2,201.3 117.5,201.2 119.8,201.1 122.1,200.9 124.3,200.8 126.6,200.8 128.9,200.8 131.2,200.9 133.4,201.0 135.7,201.1 138.0,201.3 140.2,201.5 142.5,201.7 144.8,201.8 147.1,202.0 149.3,202.2 151.6,202.4 153.9,202.6 156.2,202.8 158.4,203.1 160.7,203.4 163.0,203.7 165.3,204.1 167.5,204.5 169.8,204.9 172.1,205.3 174.4,205.7 176.6,206.1 178.9,206.5 181.2,206.9 183.5,207.4 185.7,207.8 188.0,208.2 190.3,208.6 192.6,209.0 194.8,209.3 197.1,209.7 199.4,210.1 201.7,210.5 203.9,210.9 206.2,211.3 208.5,211.7 210.8,212.1 213.0,212.6 215.3,213.0 217.6,213.4 219.9,213.8 222.1,214.1 224.4,214.5 226.7,214.8 229.0,215.1 231.2,215.4 233.5,215.6 235.8,215.9 238.0,216.2 240.3,216.5 242.6,216.8 244.9,217.0 247.1,217.3 249.4,217.5 251.7,217.7 254.0,217.8 256.2,218.0 258.5,218.2 260.8,218.3 263.1,218.5 265.3,218.6 267.6,218.8 269.9,218.9 272.2,219.1 274.4,219.2 276.7,219.3 279.0,219.3 281.3,219.3 283.5,219.3 285.8,219.2 288.1,219.1 290.4,219.0 292.6,218.8 294.9,218.5 297.2,218.0 299.5,217.4 301.7,216.6 304.0,215.7 306.3,214.7 308.6,213.7 310.8,212.6 313.1,211.5 315.4,210.4 317.7,209.2 319.9,207.9 322.2,206.5 324.5,205.2 326.7,203.9 329.0,202.5 331.3,201.0 333.6,199.3 335.8,197.5 338.1,195.5 340.4,193.3 342.7,190.8 344.9,188.0 347.2,184.8 349.5,181.1 351.8,176.9 354.0,172.3 356.3,167.1 358.6,161.3 360.9,155.1 363.1,148.3 365.4,141.1 367.7,133.7 370.0,126.0 372.2,118.2 374.5,110.6 376.8,103.2 379.1,96.4 381.3,90.1 383.6,84.7 385.9,80.3 388.2,77.0 390.4,75.0 392.7,74.2 395.0,74.9 397.3,77.7 399.5,82.4 401.8,88.7 404.1,96.5 406.4,105.4 408.6,115.0 410.9,125.0 413.2,135.0 415.4,144.8 417.7,154.1 420.0,162.7 422.3,170.4 424.5,177.3 426.8,183.3 429.1,188.3 431.4,192.6 433.6,196.1 435.9,198.9 438.2,201.2 440.5,203.0 442.7,204.4 445.0,205.5 447.3,206.4 449.6,207.1 451.8,207.7 454.1,208.2 456.4,208.6 458.7,209.0 460.9,209.3 463.2,209.6 465.5,209.9 467.8,210.2 470.0,210.5 472.3,210.7 474.6,211.0 476.9,211.3 479.1,211.5 481.4,211.8 483.7,212.1 486.0,212.3 488.2,212.6 490.5,212.8 492.8,213.1 495.1,213.3 497.3,213.5 499.6,213.8 501.9,214.0 504.1,214.2 506.4,214.4 508.7,214.7 511.0,214.9 513.2,215.1 515.5,215.3 517.8,215.5 520.1,215.7 522.3,215.9 524.6,216.1 526.9,216.3 529.2,216.5 531.4,216.7 533.7,216.9 536.0,217.1 538.3,217.2 540.5,217.4 542.8,217.6 545.1,217.8" fill="none" stroke="#f40000" stroke-width="1.3"/>
<polyline points="47.0,210.4 49.3,209.7 51.5,209.1 53.8,208.5 56.1,208.0 58.4,207.4 60.6,206.9 62.9,206.4 65.2,206.0 67.5,205.5 69.7,205.1 72.0,204.7 74.3,204.3 76.6,203.9 78.8,203.5 81.1,203.2 83.4,202.8 85.7,202.5 87.9,202.2 90.2,201.9 92.5,201.6 94.8,201.4 97.0,201.1 99.3,200.9 101.6,200.6 103.9,200.4 106.1,200.2 108.4,200.0 110.7,199.8 113.0,199.6 115.2,199.5 117.5,199.3 119.8,199.2 122.1,199.0 124.3,198.9 126.6,198.9 128.9,198.9 131.2,198.9 133.4,198.9 135.7,199.0 138.0,199.1 140.2,199.2 142.5,199.3 144.8,199.4 147.1,199.5 149.3,199.6 151.6,199.7 153.9,199.9 156.2,200.0 158.4,200.2 160.7,200.4 163.0,200.7 165.3,200.9 167.5,201.2 169.8,201.4 172.1,201.7 174.4,202.0 176.6,202.3 178.9,202.5 181.2,202.8 183.5,203.1 185.7,203.4 188.0,203.7 190.3,203.9 192.6,204.2 194.8,204.4 197.1,204.7 199.4,204.9 201.7,205.2 203.9,205.4 206.2,205.7 208.5,205.9 210.8,206.2 213.0,206.4 215.3,206.6 217.6,206.8 219.9,207.0 222.1,207.2 224.4,207.4 226.7,207.5 229.0,207.7 231.2,207.8 233.5,207.9 235.8,208.0 238.0,208.1 240.3,208.2 242.6,208.3 244.9,208.4 247.1,208.5 249.4,208.5 251.7,208.6 254.0,208.6 256.2,208.6 258.5,208.6 260.8,208.6 263.1,208.6 265.3,208.6 267.6,208.6 269.9,208.6 272.2,208.6 274.4,208.6 276.7,208.5 279.0,208.5 281.3,208.4 283.5,208.2 285.8,208.1 288.1,208.0 290.4,207.9 292.6,207.7 294.9,207.4 297.2,207.1 299.5,206.7 301.7,206.2 304.0,205.7 306.3,205.1 308.6,204.6 310.8,204.0 313.1,203.4 315.4,202.8 317.7,202.1 319.9,201.4 322.2,200.7 324.5,200.0 326.7,199.3 329.0,198.5 331.3,197.7 333.6,196.7 335.8,195.6 338.1,194.4 340.4,193.0 342.7,191.4 344.9,189.4 347.2,187.2 349.5,184.5 351.8,181.5 354.0,177.9 356.3,173.9 358.6,169.3 360.9,164.2 363.1,158.5 365.4,152.4 367.7,145.8 370.0,138.9 372.2,131.8 374.5,124.5 376.8,117.3 379.1,110.3 381.3,103.7 383.6,97.6 385.9,92.3 388.2,87.8 390.4,84.4 392.7,82.0 395.0,80.9 397.3,81.0 399.5,82.7 401.8,86.1 404.1,90.9 406.4,96.9 408.6,104.0 410.9,111.9 413.2,120.3 415.4,129.0 417.7,137.6 420.0,146.0 422.3,153.9 424.5,161.3 426.8,168.1 429.1,174.0 431.4,179.3 433.6,183.8 435.9,187.6 438.2,190.8 440.5,193.3 442.7,195.4 445.0,197.0 447.3,198.3 449.6,199.3 451.8,200.0 454.1,200.6 456.4,201.0 458.7,201.3 460.9,201.5 463.2,201.7 465.5,201.8 467.8,201.9 470.0,201.9 472.3,202.0 474.6,202.0 476.9,202.0 479.1,202.1 481.4,202.1 483.7,202.1 486.0,202.1 488.2,202.1 490.5,202.2 492.8,202.2 495.1,202.2 497.3,202.2 499.6,202.3 501.9,202.3 504.1,202.3 506.4,202.4 508.7,202.4 511.0,202.4 513.2,202.5 515.5,202.5 517.8,202.6 520.1,202.7 522.3,202.7 524.6,202.8 526.9,202.9 529.2,203.0 531.4,203.0 533.7,203.1 536.0,203.2 538.3,203.3 540.5,203.4 542.8,203.5 545.1,203.6" fill="none" stroke="#f40000" stroke-width="1.3"/>
<polyline points="47.0,194.3 49.3,194.4 51.5,194.5 53.8,194.6 56.1,194.7 58.4,194.8 60.6,194.9 62.9,195.0 65.2,195.1 67.5,195.2 69.7,195.3 72.0,195.4 74.3,195.4 76.6,195.5 78.8,195.6 81.1,195.7 83.4,195.7 85.7,195.8 87.9,195.9 90.2,195.9 92.5,196.0 94.8,196.0 97.0,196.1 99.3,196.1 101.6,196.1 103.9,196.2 106.1,196.2 108.4,196.2 110.7,196.2 113.0,196.2 115.2,196.3 117.5,196.3 119.8,196.3 122.1,196.2 124.3,196.2 126.6,196.3 128.9,196.3 131.2,196.5 133.4,196.6 135.7,196.9 138.0,197.1 140.2,197.3 142.5,197.6 144.8,197.8 147.1,198.1 149.3,198.3 151.6,198.6 153.9,198.8 156.2,199.1 158.4,199.3 160.7,199.6 163.0,200.0 165.3,200.4 167.5,200.7 169.8,201.2 172.1,201.6 174.4,202.0 176.6,202.4 178.9,202.9 181.2,203.3 183.5,203.7 185.7,204.2 188.0,204.6 190.3,205.0 192.6,205.4 194.8,205.8 197.1,206.2 199.4,206.6 201.7,207.0 203.9,207.3 206.2,207.7 208.5,208.1 210.8,208.5 213.0,209.0 215.3,209.4 217.6,209.8 219.9,210.2 222.1,210.6 224.4,210.9 226.7,211.3 229.0,211.6 231.2,211.8 233.5,212.1 235.8,212.4 238.0,212.7 240.3,213.0 242.6,213.3 244.9,213.5 247.1,213.8 249.4,214.0 251.7,214.2 254.0,214.4 256.2,214.6 258.5,214.8 260.8,214.9 263.1,215.1 265.3,215.2 267.6,215.4 269.9,215.6 272.2,215.7 274.4,215.9 276.7,216.0 279.0,216.1 281.3,216.1 283.5,216.1 285.8,216.1 288.1,216.0 290.4,215.9 292.6,215.8 294.9,215.6 297.2,215.4 299.5,214.9 301.7,214.3 304.0,213.6 306.3,212.7 308.6,211.7 310.8,210.7 313.1,209.7 315.4,208.6 317.7,207.5 319.9,206.2 322.2,204.9 324.5,203.6 326.7,202.2 329.0,200.8 331.3,199.2 333.6,197.6 335.8,195.7 338.1,193.7 340.4,191.4 342.7,188.8 344.9,186.0 347.2,182.8 349.5,179.2 351.8,175.1 354.0,170.6 356.3,165.6 358.6,160.0 360.9,154.0 363.1,147.5 365.4,140.6 367.7,133.4 370.0,125.9 372.2,118.3 374.5,110.8 376.8,103.4 379.1,96.4 381.3,90.0 383.6,84.2 385.9,79.3 388.2,75.3 390.4,72.5 392.7,70.8 395.0,70.4 397.3,71.5 399.5,74.4 401.8,78.8 404.1,84.7 406.4,91.9 408.6,100.0 410.9,108.8 413.2,118.0 415.4,127.3 417.7,136.5 420.0,145.3 422.3,153.7 424.5,161.4 426.8,168.3 429.1,174.5 431.4,179.9 433.6,184.5 435.9,188.4 438.2,191.7 440.5,194.4 442.7,196.6 445.0,198.3 447.3,199.7 449.6,200.9 451.8,201.8 454.1,202.5 456.4,203.1 458.7,203.6 460.9,204.0 463.2,204.3 465.5,204.6 467.8,204.9 470.0,205.2 472.3,205.5 474.6,205.7 476.9,205.9 479.1,206.2 481.4,206.4 483.7,206.6 486.0,206.8 488.2,207.0 490.5,207.2 492.8,207.4 495.1,207.6 497.3,207.8 499.6,208.0 501.9,208.2 504.1,208.4 506.4,208.6 508.7,208.8 511.0,208.9 513.2,209.1 515.5,209.3 517.8,209.4 520.1,209.6 522.3,209.8 524.6,209.9 526.9,210.1 529.2,210.2 531.4,210.4 533.7,210.5 536.0,210.6 538.3,210.8 540.5,210.9 542.8,211.0 545.1,211.2" fill="none" stroke="#f40000" stroke-width="1.3"/>
<polyline points="47.0,205.6 49.3,205.2 51.5,204.8 53.8,204.4 56.1,204.0 58.4,203.7 60.6,203.3 62.9,203.0 65.2,202.7 67.5,202.4 69.7,202.2 72.0,201.9 74.3,201.7 76.6,201.4 78.8,201.2 81.1,201.0 83.4,200.8 85.7,200.6 87.9,200.4 90.2,200.2 92.5,200.0 94.8,199.8 97.0,199.7 99.3,199.5 101.6,199.3 103.9,199.2 106.1,199.0 108.4,198.8 110.7,198.7 113.0,198.5 115.2,198.4 117.5,198.3 119.8,198.1 122.1,198.0 124.3,198.0 126.6,198.0 128.9,198.1 131.2,198.3 133.4,198.5 135.7,198.7 138.0,198.9 140.2,199.1 142.5,199.4 144.8,199.6 147.1,199.8 149.3,200.1 151.6,200.3 153.9,200.6 156.2,200.9 158.4,201.3 160.7,201.7 163.0,202.2 165.3,202.6 167.5,203.1 169.8,203.6 172.1,204.1 174.4,204.6 176.6,205.1 178.9,205.6 181.2,206.1 183.5,206.7 185.7,207.2 188.0,207.6 190.3,208.1 192.6,208.6 194.8,209.1 197.1,209.5 199.4,210.0 201.7,210.5 203.9,211.0 206.2,211.5 208.5,212.0 210.8,212.5 213.0,213.0 215.3,213.4 217.6,213.9 219.9,214.3 222.1,214.7 224.4,215.1 226.7,215.4 229.0,215.8 231.2,216.1 233.5,216.4 235.8,216.7 238.0,217.1 240.3,217.4 242.6,217.7 244.9,217.9 247.1,218.2 249.4,218.4 251.7,218.5 254.0,218.7 256.2,218.9 258.5,219.0 260.8,219.2 263.1,219.3 265.3,219.5 267.6,219.6 269.9,219.8 272.2,219.9 274.4,219.9 276.7,220.0 279.0,219.9 281.3,219.8 283.5,219.7 285.8,219.6 288.1,219.4 290.4,219.2 292.6,218.8 294.9,218.3 297.2,217.5 299.5,216.6 301.7,215.6 304.0,214.5 306.3,213.3 308.6,212.2 310.8,210.9 313.1,209.7 315.4,208.3 317.7,207.0 319.9,205.5 322.2,204.1 324.5,202.7 326.7,201.2 329.0,199.8 331.3,198.2 333.6,196.5 335.8,194.7 338.1,192.8 340.4,190.6 342.7,188.2 344.9,185.5 347.2,182.5 349.5,179.0 351.8,175.1 354.0,170.7 356.3,165.8 358.6,160.4 360.9,154.4 363.1,148.0 365.4,141.2 367.7,134.0 370.0,126.6 372.2,119.1 374.5,111.6 376.8,104.4 379.1,97.5 381.3,91.3 383.6,85.7 385.9,81.0 388.2,77.4 390.4,74.9 392.7,73.5 395.0,73.5 397.3,75.2 399.5,78.8 401.8,84.0 404.1,90.6 406.4,98.4 408.6,107.1 410.9,116.4 413.2,125.9 415.4,135.3 417.7,144.5 420.0,153.1 422.3,161.1 424.5,168.3 426.8,174.7 429.1,180.2 431.4,184.9 433.6,188.8 435.9,192.1 438.2,194.8 440.5,196.9 442.7,198.6 445.0,199.9 447.3,200.9 449.6,201.8 451.8,202.4 454.1,202.9 456.4,203.3 458.7,203.7 460.9,203.9 463.2,204.2 465.5,204.4 467.8,204.6 470.0,204.8 472.3,205.0 474.6,205.2 476.9,205.3 479.1,205.5 481.4,205.7 483.7,205.8 486.0,206.0 488.2,206.1 490.5,206.2 492.8,206.4 495.1,206.5 497.3,206.6 499.6,206.8 501.9,206.9 504.1,207.0 506.4,207.1 508.7,207.2 511.0,207.4 513.2,207.5 515.5,207.6 517.8,207.7 520.1,207.8 522.3,207.9 524.6,208.0 526.9,208.1 529.2,208.2 531.4,208.3 533.7,208.4 536.0,208.5 538.3,208.6 540.5,208.7 542.8,208.8 545.1,208.9" fill="none" stroke="#f40000" stroke-width="1.3"/>
<polyline points="47.0,200.1 49.3,199.8 51.5,199.6 53.8,199.3 56.1,199.1 58.4,198.9 60.6,198.7 62.9,198.4 65.2,198.2 67.5,198.1 69.7,197.9 72.0,197.7 74.3,197.5 76.6,197.3 78.8,197.2 81.1,197.0 83.4,196.9 85.7,196.7 87.9,196.6 90.2,196.5 92.5,196.3 94.8,196.2 97.0,196.1 99.3,196.0 101.6,195.9 103.9,195.8 106.1,195.7 108.4,195.7 110.7,195.6 113.0,195.5 115.2,195.5 117.5,195.4 119.8,195.4 122.1,195.3 124.3,195.3 126.6,195.4 128.9,195.5 131.2,195.6 133.4,195.9 135.7,196.1 138.0,196.4 140.2,196.7 142.5,197.0 144.8,197.3 147.1,197.7 149.3,198.0 151.6,198.3 153.9,198.6 156.2,199.0 158.4,199.4 160.7,199.8 163.0,200.3 165.3,200.8 167.5,201.3 169.8,201.8 172.1,202.3 174.4,202.9 176.6,203.4 178.9,203.9 181.2,204.5 183.5,205.0 185.7,205.5 188.0,206.0 190.3,206.5 192.6,207.0 194.8,207.4 197.1,207.9 199.4,208.3 201.7,208.8 203.9,209.2 206.2,209.6 208.5,210.1 210.8,210.5 213.0,210.9 215.3,211.3 217.6,211.7 219.9,212.1 222.1,212.5 224.4,212.8 226.7,213.1 229.0,213.3 231.2,213.5 233.5,213.8 235.8,214.0 238.0,214.2 240.3,214.4 242.6,214.6 244.9,214.8 247.1,214.9 249.4,215.0 251.7,215.1 254.0,215.2 256.2,215.3 258.5,215.3 260.8,215.4 263.1,215.4 265.3,215.4 267.6,215.5 269.9,215.5 272.2,215.6 274.4,215.6 276.7,215.6 279.0,215.6 281.3,215.5 283.5,215.4 285.8,215.2 288.1,215.1 290.4,214.9 292.6,214.7 294.9,214.4 297.2,213.9 299.5,213.4 301.7,212.6 304.0,211.8 306.3,210.8 308.6,209.8 310.8,208.8 313.1,207.8 315.4,206.7 317.7,205.6 319.9,204.4 322.2,203.2 324.5,201.9 326.7,200.7 329.0,199.4 331.3,198.0 333.6,196.6 335.8,195.0 338.1,193.3 340.4,191.4 342.7,189.3 344.9,187.0 347.2,184.3 349.5,181.3 351.8,177.8 354.0,173.9 356.3,169.5 358.6,164.5 360.9,159.0 363.1,152.9 365.4,146.3 367.7,139.3 370.0,132.0 372.2,124.3 374.5,116.6 376.8,108.9 379.1,101.4 381.3,94.3 383.6,87.8 385.9,82.1 388.2,77.2 390.4,73.4 392.7,70.7 395.0,69.3 397.3,69.2 399.5,71.0 401.8,74.7 404.1,80.1 406.4,87.1 408.6,95.3 410.9,104.4 413.2,114.0 415.4,123.8 417.7,133.5 420.0,142.7 422.3,151.4 424.5,159.3 426.8,166.3 429.1,172.5 431.4,177.7 433.6,182.1 435.9,185.7 438.2,188.5 440.5,190.8 442.7,192.6 445.0,193.9 447.3,194.9 449.6,195.6 451.8,196.1 454.1,196.4 456.4,196.7 458.7,196.8 460.9,196.9 463.2,197.0 465.5,197.0 467.8,197.0 470.0,197.0 472.3,197.0 474.6,197.0 476.9,196.9 479.1,196.9 481.4,196.9 483.7,196.9 486.0,196.9 488.2,196.9 490.5,196.8 492.8,196.8 495.1,196.8 497.3,196.8 499.6,196.8 501.9,196.8 504.1,196.9 506.4,196.9 508.7,196.9 511.0,196.9 513.2,196.9 515.5,197.0 517.8,197.0 520.1,197.0 522.3,197.1 524.6,197.1 526.9,197.2 529.2,197.2 531.4,197.3 533.7,197.4 536.0,197.4 538.3,197.5 540.5,197.6 542.8,197.7 545.1,197.7" fill="none" stroke="#f40000" stroke-width="1.3"/>
<polyline points="47.0,193.9 49.3,194.0 51.5,194.1 53.8,194.2 56.1,194.3 58.4,194.4 60.6,194.5 62.9,194.6 65.2,194.6 67.5,194.7 69.7,194.8 72.0,194.9 74.3,195.0 76.6,195.1 78.8,195.2 81.1,195.3 83.4,195.3 85.7,195.4 87.9,195.5 90.2,195.6 92.5,195.6 94.8,195.7 97.0,195.8 99.3,195.8 101.6,195.9 103.9,195.9 106.1,196.0 108.4,196.0 110.7,196.1 113.0,196.1 115.2,196.1 117.5,196.2 119.8,196.2 122.1,196.2 124.3,196.3 126.6,196.4 128.9,196.6 131.2,196.8 133.4,197.0 135.7,197.3 138.0,197.5 140.2,197.8 142.5,198.0 144.8,198.3 147.1,198.5 149.3,198.8 151.6,199.0 153.9,199.3 156.2,199.6 158.4,199.9 160.7,200.2 163.0,200.6 165.3,201.0 167.5,201.4 169.8,201.8 172.1,202.2 174.4,202.6 176.6,203.0 178.9,203.4 181.2,203.8 183.5,204.2 185.7,204.5 188.0,204.9 190.3,205.3 192.6,205.6 194.8,206.0 197.1,206.3 199.4,206.7 201.7,207.0 203.9,207.4 206.2,207.7 208.5,208.1 210.8,208.5 213.0,208.8 215.3,209.2 217.6,209.6 219.9,209.9 222.1,210.2 224.4,210.5 226.7,210.8 229.0,211.0 231.2,211.2 233.5,211.5 235.8,211.7 238.0,212.0 240.3,212.2 242.6,212.5 244.9,212.7 247.1,212.9 249.4,213.1 251.7,213.3 254.0,213.4 256.2,213.6 258.5,213.7 260.8,213.9 263.1,214.0 265.3,214.2 267.6,214.3 269.9,214.5 272.2,214.6 274.4,214.8 276.7,214.8 279.0,214.9 281.3,214.9 283.5,214.9 285.8,214.8 288.1,214.7 290.4,214.6 292.6,214.5 294.9,214.2 297.2,213.8 299.5,213.2 301.7,212.4 304.0,211.6 306.3,210.8 308.6,209.9 310.8,209.0 313.1,208.0 315.4,207.0 317.7,205.9 319.9,204.9 322.2,203.7 324.5,202.7 326.7,201.6 329.0,200.5 331.3,199.3 333.6,198.1 335.8,196.7 338.1,195.3 340.4,193.6 342.7,191.8 344.9,189.7 347.2,187.3 349.5,184.5 351.8,181.2 354.0,177.5 356.3,173.2 358.6,168.4 360.9,162.9 363.1,156.9 365.4,150.3 367.7,143.3 370.0,135.8 372.2,128.0 374.5,120.1 376.8,112.2 379.1,104.5 381.3,97.2 383.6,90.4 385.9,84.5 388.2,79.4 390.4,75.5 392.7,72.8 395.0,71.4 397.3,71.4 399.5,73.0 401.8,76.2 404.1,80.9 406.4,86.9 408.6,94.0 410.9,102.0 413.2,110.5 415.4,119.4 417.7,128.4 420.0,137.2 422.3,145.7 424.5,153.7 426.8,161.0 429.1,167.7 431.4,173.7 433.6,178.9 435.9,183.4 438.2,187.2 440.5,190.4 442.7,193.0 445.0,195.2 447.3,197.0 449.6,198.4 451.8,199.5 454.1,200.4 456.4,201.1 458.7,201.7 460.9,202.2 463.2,202.6 465.5,203.0 467.8,203.3 470.0,203.6 472.3,203.8 474.6,204.1 476.9,204.3 479.1,204.5 481.4,204.7 483.7,204.9 486.0,205.1 488.2,205.3 490.5,205.5 492.8,205.7 495.1,205.9 497.3,206.1 499.6,206.3 501.9,206.5 504.1,206.7 506.4,206.9 508.7,207.0 511.0,207.2 513.2,207.4 515.5,207.5 517.8,207.7 520.1,207.9 522.3,208.0 524.6,208.2 526.9,208.3 529.2,208.5 531.4,208.6 533.7,208.7 536.0,208.9 538.3,209.0 540.5,209.1 542.8,209.2 545.1,209.4" fill="none" stroke="#f40000" stroke-width="1.3"/>
<polyline points="47.0,199.1 49.3,199.0 51.5,198.9 53.8,198.8 56.1,198.7 58.4,198.6 60.6,198.5 62.9,198.4 65.2,198.4 67.5,198.3 69.7,198.2 72.0,198.2 74.3,198.2 76.6,198.1 78.8,198.1 81.1,198.1 83.4,198.0 85.7,198.0 87.9,198.0 90.2,198.0 92.5,198.0 94.8,198.0 97.0,198.0 99.3,198.0 101.6,198.1 103.9,198.1 106.1,198.1 108.4,198.2 110.7,198.2 113.0,198.2 115.2,198.3 117.5,198.3 119.8,198.3 122.1,198.4 124.3,198.5 126.6,198.6 128.9,198.7 131.2,198.9 133.4,199.2 135.7,199.5 138.0,199.8 140.2,200.1 142.5,200.5 144.8,200.8 147.1,201.1 149.3,201.4 151.6,201.7 153.9,202.0 156.2,202.4 158.4,202.7 160.7,203.1 163.0,203.5 165.3,203.9 167.5,204.4 169.8,204.8 172.1,205.3 174.4,205.7 176.6,206.2 178.9,206.6 181.2,207.1 183.5,207.5 185.7,207.9 188.0,208.3 190.3,208.7 192.6,209.1 194.8,209.5 197.1,209.8 199.4,210.1 201.7,210.5 203.9,210.8 206.2,211.2 208.5,211.5 210.8,211.8 213.0,212.1 215.3,212.5 217.6,212.8 219.9,213.1 222.1,213.4 224.4,213.6 226.7,213.8 229.0,214.0 231.2,214.2 233.5,214.3 235.8,214.5 238.0,214.7 240.3,214.8 242.6,215.0 244.9,215.2 247.1,215.3 249.4,215.4 251.7,215.5 254.0,215.6 256.2,215.6 258.5,215.7 260.8,215.8 263.1,215.9 265.3,215.9 267.6,216.0 269.9,216.1 272.2,216.2 274.4,216.3 276.7,216.3 279.0,216.3 281.3,216.3 283.5,216.3 285.8,216.2 288.1,216.1 290.4,216.0 292.6,215.9 294.9,215.7 297.2,215.4 299.5,214.9 301.7,214.3 304.0,213.6 306.3,212.8 308.6,211.9 310.8,211.0 313.1,210.1 315.4,209.1 317.7,208.1 319.9,207.0 322.2,205.8 324.5,204.6 326.7,203.3 329.0,201.9 331.3,200.5 333.6,198.8 335.8,197.0 338.1,195.0 340.4,192.7 342.7,190.1 344.9,187.2 347.2,183.9 349.5,180.1 351.8,175.9 354.0,171.1 356.3,165.8 358.6,160.0 360.9,153.7 363.1,146.9 365.4,139.7 367.7,132.2 370.0,124.6 372.2,117.0 374.5,109.4 376.8,102.2 379.1,95.5 381.3,89.5 383.6,84.3 385.9,80.1 388.2,77.0 390.4,75.1 392.7,74.4 395.0,75.4 397.3,78.2 399.5,82.7 401.8,88.8 404.1,96.1 406.4,104.4 408.6,113.3 410.9,122.6 413.2,131.9 415.4,141.0 417.7,149.6 420.0,157.7 422.3,164.9 424.5,171.4 426.8,177.0 429.1,181.7 431.4,185.7 433.6,189.0 435.9,191.6 438.2,193.7 440.5,195.3 442.7,196.5 445.0,197.5 447.3,198.2 449.6,198.7 451.8,199.0 454.1,199.3 456.4,199.5 458.7,199.6 460.9,199.7 463.2,199.8 465.5,199.9 467.8,199.9 470.0,200.0 472.3,200.0 474.6,200.1 476.9,200.2 479.1,200.2 481.4,200.3 483.7,200.3 486.0,200.4 488.2,200.5 490.5,200.6 492.8,200.7 495.1,200.7 497.3,200.8 499.6,200.9 501.9,201.0 504.1,201.1 506.4,201.2 508.7,201.3 511.0,201.4 513.2,201.5 515.5,201.6 517.8,201.7 520.1,201.8 522.3,201.9 524.6,202.1 526.9,202.2 529.2,202.3 531.4,202.4 533.7,202.5 536.0,202.6 538.3,202.7 540.5,202.8 542.8,202.9 545.1,203.0" fill="none" stroke="#f40000" stroke-width="1.3"/>
<polyline points="47.0,197.5 49.3,197.6 51.5,197.6 53.8,197.6 56.1,197.7 58.4,197.7 60.6,197.7 62.9,197.8 65.2,197.8 67.5,197.8 69.7,197.9 72.0,197.9 74.3,197.9 76.6,197.9 78.8,198.0 81.1,198.0 83.4,198.0 85.7,198.0 87.9,198.0 90.2,198.0 92.5,198.0 94.8,198.0 97.0,198.0 99.3,198.0 101.6,198.0 103.9,198.0 106.1,198.0 108.4,197.9 110.7,197.9 113.0,197.9 115.2,197.8 117.5,197.8 119.8,197.8 122.1,197.7 124.3,197.7 126.6,197.7 128.9,197.7 131.2,197.7 133.4,197.8 135.7,197.8 138.0,197.9 140.2,197.9 142.5,198.0 144.8,198.0 147.1,198.1 149.3,198.1 151.6,198.1 153.9,198.2 156.2,198.3 158.4,198.4 160.7,198.4 163.0,198.6 165.3,198.7 167.5,198.8 169.8,198.9 172.1,199.0 174.4,199.2 176.6,199.3 178.9,199.5 181.2,199.6 183.5,199.7 185.7,199.9 188.0,200.0 190.3,200.2 192.6,200.3 194.8,200.5 197.1,200.6 199.4,200.8 201.7,200.9 203.9,201.1 206.2,201.2 208.5,201.4 210.8,201.6 213.0,201.7 215.3,201.9 217.6,202.1 219.9,202.3 222.1,202.4 224.4,202.6 226.7,202.7 229.0,202.8 231.2,203.0 233.5,203.1 235.8,203.2 238.0,203.4 240.3,203.5 242.6,203.7 244.9,203.8 247.1,203.9 249.4,204.0 251.7,204.1 254.0,204.2 256.2,204.3 258.5,204.4 260.8,204.5 263.1,204.6 265.3,204.6 267.6,204.7 269.9,204.8 272.2,204.9 274.4,204.9 276.7,205.0 279.0,205.0 281.3,205.0 283.5,205.0 285.8,204.9 288.1,204.9 290.4,204.9 292.6,204.8 294.9,204.6 297.2,204.4 299.5,204.1 301.7,203.8 304.0,203.5 306.3,203.1 308.6,202.7 310.8,202.3 313.1,201.8 315.4,201.3 317.7,200.8 319.9,200.2 322.2,199.6 324.5,199.0 326.7,198.3 329.0,197.5 331.3,196.6 333.6,195.6 335.8,194.4 338.1,192.9 340.4,191.3 342.7,189.3 344.9,187.1 347.2,184.4 349.5,181.4 351.8,177.8 354.0,173.8 356.3,169.3 358.6,164.3 360.9,158.7 363.1,152.7 365.4,146.3 367.7,139.6 370.0,132.6 372.2,125.4 374.5,118.3 376.8,111.4 379.1,104.8 381.3,98.6 383.6,93.1 385.9,88.4 388.2,84.6 390.4,81.8 392.7,80.1 395.0,79.6 397.3,80.7 399.5,83.5 401.8,88.0 404.1,94.0 406.4,101.2 408.6,109.3 410.9,118.1 413.2,127.1 415.4,136.2 417.7,145.0 420.0,153.3 422.3,160.9 424.5,167.9 426.8,174.0 429.1,179.3 431.4,183.8 433.6,187.5 435.9,190.6 438.2,193.1 440.5,195.1 442.7,196.6 445.0,197.8 447.3,198.7 449.6,199.4 451.8,200.0 454.1,200.4 456.4,200.7 458.7,201.0 460.9,201.2 463.2,201.4 465.5,201.6 467.8,201.7 470.0,201.8 472.3,202.0 474.6,202.1 476.9,202.2 479.1,202.3 481.4,202.4 483.7,202.5 486.0,202.6 488.2,202.7 490.5,202.7 492.8,202.8 495.1,202.9 497.3,203.0 499.6,203.0 501.9,203.1 504.1,203.1 506.4,203.2 508.7,203.3 511.0,203.3 513.2,203.3 515.5,203.4 517.8,203.4 520.1,203.5 522.3,203.5 524.6,203.5 526.9,203.6 529.2,203.6 531.4,203.6 533.7,203.6 536.0,203.7 538.3,203.7 540.5,203.7 542.8,203.7 545.1,203.8" fill="none" stroke="#f40000" stroke-width="1.3"/>
<polyline points="47.0,209.6 49.3,208.9 51.5,208.3 53.8,207.7 56.1,207.1 58.4,206.6 60.6,206.1 62.9,205.6 65.2,205.1 67.5,204.7 69.7,204.3 72.0,203.9 74.3,203.6 76.6,203.3 78.8,202.9 81.1,202.7 83.4,202.4 85.7,202.1 87.9,201.9 90.2,201.7 92.5,201.5 94.8,201.3 97.0,201.1 99.3,200.9 101.6,200.8 103.9,200.7 106.1,200.5 108.4,200.4 110.7,200.3 113.0,200.2 115.2,200.2 117.5,200.1 119.8,200.0 122.1,200.0 124.3,200.1 126.6,200.2 128.9,200.4 131.2,200.6 133.4,200.9 135.7,201.2 138.0,201.5 140.2,201.8 142.5,202.1 144.8,202.5 147.1,202.8 149.3,203.1 151.6,203.4 153.9,203.8 156.2,204.2 158.4,204.6 160.7,205.1 163.0,205.5 165.3,206.1 167.5,206.6 169.8,207.1 172.1,207.6 174.4,208.1 176.6,208.6 178.9,209.1 181.2,209.6 183.5,210.1 185.7,210.6 188.0,211.0 190.3,211.5 192.6,211.9 194.8,212.3 197.1,212.7 199.4,213.1 201.7,213.5 203.9,213.9 206.2,214.3 208.5,214.7 210.8,215.1 213.0,215.5 215.3,215.9 217.6,216.2 219.9,216.5 222.1,216.8 224.4,217.0 226.7,217.2 229.0,217.4 231.2,217.6 233.5,217.8 235.8,218.0 238.0,218.2 240.3,218.4 242.6,218.6 244.9,218.7 247.1,218.9 249.4,218.9 251.7,219.0 254.0,219.1 256.2,219.2 258.5,219.2 260.8,219.3 263.1,219.4 265.3,219.5 267.6,219.6 269.9,219.6 272.2,219.7 274.4,219.7 276.7,219.7 279.0,219.7 281.3,219.6 283.5,219.5 285.8,219.3 288.1,219.2 290.4,219.0 292.6,218.7 294.9,218.2 297.2,217.6 299.5,216.7 301.7,215.8 304.0,214.8 306.3,213.7 308.6,212.6 310.8,211.5 313.1,210.3 315.4,209.1 317.7,207.7 319.9,206.4 322.2,204.9 324.5,203.5 326.7,202.0 329.0,200.5 331.3,198.9 333.6,197.1 335.8,195.1 338.1,193.0 340.4,190.7 342.7,188.1 344.9,185.2 347.2,182.0 349.5,178.5 351.8,174.5 354.0,170.2 356.3,165.4 358.6,160.2 360.9,154.6 363.1,148.7 365.4,142.5 367.7,136.1 370.0,129.6 372.2,123.0 374.5,116.6 376.8,110.4 379.1,104.7 381.3,99.4 383.6,94.8 385.9,90.9 388.2,87.8 390.4,85.7 392.7,84.6 395.0,84.6 397.3,86.0 399.5,88.9 401.8,93.3 404.1,98.9 406.4,105.5 408.6,113.0 410.9,121.0 413.2,129.3 415.4,137.6 417.7,145.8 420.0,153.7 422.3,161.1 424.5,167.9 426.8,174.0 429.1,179.4 431.4,184.1 433.6,188.1 435.9,191.5 438.2,194.3 440.5,196.5 442.7,198.4 445.0,199.8 447.3,201.0 449.6,201.9 451.8,202.6 454.1,203.1 456.4,203.6 458.7,203.9 460.9,204.2 463.2,204.4 465.5,204.6 467.8,204.8 470.0,204.9 472.3,205.1 474.6,205.2 476.9,205.4 479.1,205.5 481.4,205.7 483.7,205.9 486.0,206.0 488.2,206.2 490.5,206.4 492.8,206.5 495.1,206.7 497.3,206.9 499.6,207.1 501.9,207.3 504.1,207.4 506.4,207.6 508.7,207.8 511.0,208.0 513.2,208.2 515.5,208.4 517.8,208.6 520.1,208.8 522.3,209.1 524.6,209.3 526.9,209.5 529.2,209.7 531.4,209.9 533.7,210.1 536.0,210.3 538.3,210.5 540.5,210.7 542.8,210.9 545.1,211.1" fill="none" stroke="#f40000" stroke-width="1.3"/>
<polyline points="47.0,213.6 49.3,212.8 51.5,212.0 53.8,211.3 56.1,210.6 58.4,209.9 60.6,209.3 62.9,208.7 65.2,208.1 67.5,207.6 69.7,207.0 72.0,206.5 74.3,206.1 76.6,205.6 78.8,205.2 81.1,204.7 83.4,204.3 85.7,204.0 87.9,203.6 90.2,203.3 92.5,202.9 94.8,202.6 97.0,202.3 99.3,202.1 101.6,201.8 103.9,201.5 106.1,201.3 108.4,201.1 110.7,200.9 113.0,200.7 115.2,200.5 117.5,200.3 119.8,200.2 122.1,200.1 124.3,200.0 126.6,200.0 128.9,200.1 131.2,200.2 133.4,200.3 135.7,200.5 138.0,200.7 140.2,200.9 142.5,201.1 144.8,201.3 147.1,201.5 149.3,201.8 151.6,202.0 153.9,202.3 156.2,202.6 158.4,202.9 160.7,203.3 163.0,203.7 165.3,204.1 167.5,204.6 169.8,205.0 172.1,205.5 174.4,205.9 176.6,206.4 178.9,206.8 181.2,207.3 183.5,207.7 185.7,208.1 188.0,208.6 190.3,209.0 192.6,209.4 194.8,209.8 197.1,210.2 199.4,210.5 201.7,210.9 203.9,211.3 206.2,211.7 208.5,212.1 210.8,212.4 213.0,212.8 215.3,213.2 217.6,213.5 219.9,213.8 222.1,214.1 224.4,214.3 226.7,214.5 229.0,214.7 231.2,214.9 233.5,215.1 235.8,215.3 238.0,215.5 240.3,215.6 242.6,215.8 244.9,215.9 247.1,216.0 249.4,216.1 251.7,216.1 254.0,216.2 256.2,216.2 258.5,216.2 260.8,216.3 263.1,216.3 265.3,216.3 267.6,216.4 269.9,216.4 272.2,216.4 274.4,216.4 276.7,216.3 279.0,216.2 281.3,216.1 283.5,215.9 285.8,215.7 288.1,215.5 290.4,215.3 292.6,215.0 294.9,214.5 297.2,213.9 299.5,213.1 301.7,212.2 304.0,211.2 306.3,210.2 308.6,209.1 310.8,208.0 313.1,206.7 315.4,205.4 317.7,204.1 319.9,202.6 322.2,201.0 324.5,199.4 326.7,197.7 329.0,195.9 331.3,194.0 333.6,192.0 335.8,189.8 338.1,187.5 340.4,185.0 342.7,182.4 344.9,179.6 347.2,176.6 349.5,173.5 351.8,170.1 354.0,166.5 356.3,162.8 358.6,158.8 360.9,154.8 363.1,150.6 365.4,146.3 367.7,142.0 370.0,137.7 372.2,133.4 374.5,129.4 376.8,125.5 379.1,121.8 381.3,118.5 383.6,115.6 385.9,113.1 388.2,111.1 390.4,109.6 392.7,108.7 395.0,108.3 397.3,108.6 399.5,109.7 401.8,111.6 404.1,114.3 406.4,117.6 408.6,121.6 410.9,126.1 413.2,131.0 415.4,136.1 417.7,141.5 420.0,146.8 422.3,152.2 424.5,157.4 426.8,162.4 429.1,167.1 431.4,171.5 433.6,175.5 435.9,179.1 438.2,182.4 440.5,185.3 442.7,187.8 445.0,190.0 447.3,191.8 449.6,193.4 451.8,194.7 454.1,195.7 456.4,196.6 458.7,197.3 460.9,197.8 463.2,198.2 465.5,198.6 467.8,198.8 470.0,199.0 472.3,199.1 474.6,199.2 476.9,199.2 479.1,199.3 481.4,199.3 483.7,199.3 486.0,199.3 488.2,199.3 490.5,199.3 492.8,199.2 495.1,199.2 497.3,199.2 499.6,199.2 501.9,199.2 504.1,199.2 506.4,199.2 508.7,199.2 511.0,199.2 513.2,199.2 515.5,199.2 517.8,199.3 520.1,199.3 522.3,199.3 524.6,199.3 526.9,199.4 529.2,199.4 531.4,199.5 533.7,199.5 536.0,199.6 538.3,199.6 540.5,199.7 542.8,199.8 545.1,199.8" fill="none" stroke="#f40000" stroke-width="1.3"/>
<polyline points="47.0,200.6 49.3,200.6 51.5,200.5 53.8,200.4 56.1,200.3 58.4,200.2 60.6,200.2 62.9,200.1 65.2,200.0 67.5,199.9 69.7,199.8 72.0,199.7 74.3,199.7 76.6,199.6 78.8,199.5 81.1,199.4 83.4,199.3 85.7,199.2 87.9,199.2 90.2,199.1 92.5,199.0 94.8,198.9 97.0,198.8 99.3,198.8 101.6,198.7 103.9,198.6 106.1,198.6 108.4,198.5 110.7,198.4 113.0,198.4 115.2,198.3 117.5,198.3 119.8,198.2 122.1,198.2 124.3,198.2 126.6,198.2 128.9,198.3 131.2,198.5 133.4,198.7 135.7,199.0 138.0,199.2 140.2,199.5 142.5,199.8 144.8,200.1 147.1,200.4 149.3,200.7 151.6,201.0 153.9,201.3 156.2,201.7 158.4,202.0 160.7,202.4 163.0,202.9 165.3,203.4 167.5,203.9 169.8,204.4 172.1,204.9 174.4,205.4 176.6,205.9 178.9,206.4 181.2,207.0 183.5,207.5 185.7,208.0 188.0,208.5 190.3,209.0 192.6,209.5 194.8,209.9 197.1,210.4 199.4,210.8 201.7,211.3 203.9,211.7 206.2,212.2 208.5,212.6 210.8,213.1 213.0,213.5 215.3,214.0 217.6,214.4 219.9,214.8 222.1,215.1 224.4,215.5 226.7,215.8 229.0,216.0 231.2,216.3 233.5,216.5 235.8,216.8 238.0,217.0 240.3,217.2 242.6,217.4 244.9,217.6 247.1,217.8 249.4,217.9 251.7,218.0 254.0,218.1 256.2,218.2 258.5,218.3 260.8,218.3 263.1,218.4 265.3,218.4 267.6,218.5 269.9,218.5 272.2,218.6 274.4,218.6 276.7,218.6 279.0,218.5 281.3,218.4 283.5,218.3 285.8,218.1 288.1,217.9 290.4,217.6 292.6,217.3 294.9,216.9 297.2,216.4 299.5,215.7 301.7,214.7 304.0,213.7 306.3,212.5 308.6,211.3 310.8,210.0 313.1,208.6 315.4,207.1 317.7,205.5 319.9,203.7 322.2,201.9 324.5,199.9 326.7,197.9 329.0,195.7 331.3,193.4 333.6,191.0 335.8,188.4 338.1,185.7 340.4,182.7 342.7,179.6 344.9,176.4 347.2,173.0 349.5,169.4 351.8,165.7 354.0,161.7 356.3,157.7 358.6,153.5 360.9,149.2 363.1,144.9 365.4,140.6 367.7,136.3 370.0,132.0 372.2,128.0 374.5,124.1 376.8,120.5 379.1,117.3 381.3,114.4 383.6,112.0 385.9,110.1 388.2,108.7 390.4,107.9 392.7,107.6 395.0,108.1 397.3,109.4 399.5,111.7 401.8,114.7 404.1,118.6 406.4,123.1 408.6,128.1 410.9,133.5 413.2,139.2 415.4,145.0 417.7,150.8 420.0,156.6 422.3,162.2 424.5,167.4 426.8,172.4 429.1,177.0 431.4,181.1 433.6,184.9 435.9,188.2 438.2,191.1 440.5,193.6 442.7,195.8 445.0,197.6 447.3,199.1 449.6,200.4 451.8,201.4 454.1,202.2 456.4,202.9 458.7,203.5 460.9,203.9 463.2,204.3 465.5,204.5 467.8,204.8 470.0,205.0 472.3,205.1 474.6,205.2 476.9,205.3 479.1,205.4 481.4,205.5 483.7,205.6 486.0,205.6 488.2,205.7 490.5,205.8 492.8,205.8 495.1,205.9 497.3,206.0 499.6,206.1 501.9,206.1 504.1,206.2 506.4,206.3 508.7,206.4 511.0,206.4 513.2,206.5 515.5,206.6 517.8,206.7 520.1,206.8 522.3,206.9 524.6,207.0 526.9,207.1 529.2,207.2 531.4,207.4 533.7,207.5 536.0,207.6 538.3,207.7 540.5,207.9 542.8,208.0 545.1,208.2" fill="none" stroke="#f40000" stroke-width="1.3"/>
<polyline points="47.0,198.5 49.3,198.6 51.5,198.6 53.8,198.6 56.1,198.6 58.4,198.6 60.6,198.6 62.9,198.6 65.2,198.5 67.5,198.5 69.7,198.5 72.0,198.5 74.3,198.5 76.6,198.4 78.8,198.4 81.1,198.4 83.4,198.3 85.7,198.3 87.9,198.3 90.2,198.2 92.5,198.2 94.8,198.2 97.0,198.2 99.3,198.1 101.6,198.1 103.9,198.1 106.1,198.1 108.4,198.1 110.7,198.1 113.0,198.0 115.2,198.0 117.5,198.0 119.8,198.0 122.1,198.1 124.3,198.1 126.6,198.2 128.9,198.3 131.2,198.5 133.4,198.7 135.7,199.0 138.0,199.3 140.2,199.6 142.5,200.0 144.8,200.3 147.1,200.7 149.3,201.0 151.6,201.4 153.9,201.7 156.2,202.1 158.4,202.5 160.7,202.9 163.0,203.4 165.3,203.9 167.5,204.4 169.8,204.9 172.1,205.5 174.4,206.0 176.6,206.6 178.9,207.1 181.2,207.7 183.5,208.2 185.7,208.8 188.0,209.3 190.3,209.8 192.6,210.3 194.8,210.8 197.1,211.2 199.4,211.7 201.7,212.1 203.9,212.6 206.2,213.0 208.5,213.5 210.8,213.9 213.0,214.3 215.3,214.8 217.6,215.2 219.9,215.6 222.1,216.0 224.4,216.3 226.7,216.6 229.0,216.8 231.2,217.1 233.5,217.3 235.8,217.5 238.0,217.7 240.3,218.0 242.6,218.2 244.9,218.3 247.1,218.5 249.4,218.6 251.7,218.7 254.0,218.8 256.2,218.9 258.5,218.9 260.8,219.0 263.1,219.0 265.3,219.1 267.6,219.1 269.9,219.2 272.2,219.2 274.4,219.3 276.7,219.3 279.0,219.2 281.3,219.2 283.5,219.0 285.8,218.9 288.1,218.7 290.4,218.5 292.6,218.3 294.9,217.9 297.2,217.5 299.5,216.9 301.7,216.1 304.0,215.1 306.3,214.1 308.6,212.9 310.8,211.7 313.1,210.4 315.4,209.0 317.7,207.5 319.9,205.9 322.2,204.1 324.5,202.3 326.7,200.4 329.0,198.4 331.3,196.3 333.6,194.1 335.8,191.6 338.1,189.0 340.4,186.3 342.7,183.3 344.9,180.2 347.2,176.8 349.5,173.3 351.8,169.6 354.0,165.6 356.3,161.5 358.6,157.2 360.9,152.7 363.1,148.1 365.4,143.5 367.7,138.8 370.0,134.1 372.2,129.6 374.5,125.2 376.8,121.0 379.1,117.2 381.3,113.7 383.6,110.7 385.9,108.2 388.2,106.2 390.4,104.8 392.7,104.1 395.0,104.0 397.3,104.8 399.5,106.8 401.8,110.0 404.1,114.0 406.4,119.0 408.6,124.6 410.9,130.8 413.2,137.3 415.4,143.9 417.7,150.6 420.0,157.1 422.3,163.3 424.5,169.2 426.8,174.6 429.1,179.5 431.4,183.8 433.6,187.7 435.9,191.0 438.2,193.8 440.5,196.2 442.7,198.1 445.0,199.8 447.3,201.1 449.6,202.1 451.8,202.9 454.1,203.6 456.4,204.1 458.7,204.5 460.9,204.8 463.2,205.0 465.5,205.2 467.8,205.4 470.0,205.5 472.3,205.6 474.6,205.7 476.9,205.8 479.1,205.9 481.4,206.0 483.7,206.1 486.0,206.1 488.2,206.2 490.5,206.3 492.8,206.4 495.1,206.5 497.3,206.6 499.6,206.7 501.9,206.8 504.1,206.9 506.4,207.0 508.7,207.1 511.0,207.2 513.2,207.3 515.5,207.4 517.8,207.6 520.1,207.7 522.3,207.8 524.6,208.0 526.9,208.1 529.2,208.3 531.4,208.4 533.7,208.6 536.0,208.8 538.3,208.9 540.5,209.1 542.8,209.3 545.1,209.5" fill="none" stroke="#f40000" stroke-width="1.3"/>
<polyline points="47.0,211.9 49.3,211.1 51.5,210.4 53.8,209.6 56.1,208.9 58.4,208.3 60.6,207.6 62.9,207.0 65.2,206.5 67.5,205.9 69.7,205.4 72.0,204.9 74.3,204.4 76.6,204.0 78.8,203.5 81.1,203.1 83.4,202.7 85.7,202.3 87.9,202.0 90.2,201.7 92.5,201.3 94.8,201.0 97.0,200.7 99.3,200.5 101.6,200.2 103.9,200.0 106.1,199.7 108.4,199.5 110.7,199.3 113.0,199.1 115.2,199.0 117.5,198.8 119.8,198.7 122.1,198.5 124.3,198.5 126.6,198.4 128.9,198.4 131.2,198.5 133.4,198.7 135.7,198.9 138.0,199.1 140.2,199.4 142.5,199.6 144.8,199.9 147.1,200.1 149.3,200.4 151.6,200.7 153.9,201.0 156.2,201.3 158.4,201.7 160.7,202.0 163.0,202.5 165.3,202.9 167.5,203.4 169.8,203.9 172.1,204.4 174.4,204.9 176.6,205.4 178.9,205.9 181.2,206.4 183.5,206.9 185.7,207.4 188.0,207.9 190.3,208.4 192.6,208.8 194.8,209.3 197.1,209.7 199.4,210.1 201.7,210.6 203.9,211.0 206.2,211.4 208.5,211.8 210.8,212.2 213.0,212.7 215.3,213.1 217.6,213.4 219.9,213.8 222.1,214.1 224.4,214.4 226.7,214.7 229.0,214.9 231.2,215.1 233.5,215.4 235.8,215.6 238.0,215.8 240.3,216.0 242.6,216.1 244.9,216.3 247.1,216.5 249.4,216.6 251.7,216.6 254.0,216.7 256.2,216.8 258.5,216.8 260.8,216.8 263.1,216.9 265.3,216.9 267.6,217.0 269.9,217.0 272.2,217.0 274.4,217.1 276.7,217.1 279.0,217.0 281.3,216.9 283.5,216.8 285.8,216.6 288.1,216.4 290.4,216.2 292.6,216.0 294.9,215.7 297.2,215.2 299.5,214.6 301.7,213.8 304.0,212.8 306.3,211.8 308.6,210.8 310.8,209.7 313.1,208.6 315.4,207.4 317.7,206.2 319.9,204.9 322.2,203.5 324.5,202.1 326.7,200.6 329.0,199.0 331.3,197.4 333.6,195.7 335.8,193.8 338.1,191.8 340.4,189.6 342.7,187.2 344.9,184.7 347.2,181.8 349.5,178.8 351.8,175.4 354.0,171.7 356.3,167.7 358.6,163.4 360.9,158.8 363.1,153.9 365.4,148.8 367.7,143.5 370.0,138.1 372.2,132.7 374.5,127.4 376.8,122.2 379.1,117.2 381.3,112.6 383.6,108.5 385.9,104.9 388.2,102.0 390.4,99.8 392.7,98.3 395.0,97.6 397.3,97.8 399.5,99.1 401.8,101.5 404.1,105.0 406.4,109.4 408.6,114.5 410.9,120.3 413.2,126.6 415.4,133.0 417.7,139.6 420.0,146.2 422.3,152.5 424.5,158.6 426.8,164.2 429.1,169.4 431.4,174.1 433.6,178.3 435.9,181.9 438.2,185.0 440.5,187.7 442.7,189.9 445.0,191.7 447.3,193.2 449.6,194.4 451.8,195.3 454.1,196.1 456.4,196.6 458.7,197.0 460.9,197.3 463.2,197.5 465.5,197.7 467.8,197.8 470.0,197.8 472.3,197.8 474.6,197.9 476.9,197.9 479.1,197.8 481.4,197.8 483.7,197.8 486.0,197.8 488.2,197.8 490.5,197.8 492.8,197.8 495.1,197.7 497.3,197.7 499.6,197.7 501.9,197.7 504.1,197.7 506.4,197.8 508.7,197.8 511.0,197.8 513.2,197.8 515.5,197.8 517.8,197.9 520.1,197.9 522.3,197.9 524.6,198.0 526.9,198.0 529.2,198.1 531.4,198.1 533.7,198.2 536.0,198.2 538.3,198.3 540.5,198.4 542.8,198.4 545.1,198.5" fill="none" stroke="#f40000" stroke-width="1.3"/>
<polyline points="47.0,201.4 49.3,201.2 51.5,201.0 53.8,200.9 56.1,200.7 58.4,200.6 60.6,200.5 62.9,200.3 65.2,200.2 67.5,200.1 69.7,200.0 72.0,199.9 74.3,199.8 76.6,199.7 78.8,199.6 81.1,199.5 83.4,199.4 85.7,199.4 87.9,199.3 90.2,199.2 92.5,199.1 94.8,199.0 97.0,198.9 99.3,198.9 101.6,198.8 103.9,198.7 106.1,198.6 108.4,198.5 110.7,198.4 113.0,198.4 115.2,198.3 117.5,198.2 119.8,198.1 122.1,198.0 124.3,197.9 126.6,197.8 128.9,197.8 131.2,197.7 133.4,197.7 135.7,197.7 138.0,197.6 140.2,197.6 142.5,197.6 144.8,197.6 147.1,197.6 149.3,197.6 151.6,197.6 153.9,197.5 156.2,197.5 158.4,197.6 160.7,197.6 163.0,197.6 165.3,197.6 167.5,197.7 169.8,197.7 172.1,197.8 174.4,197.9 176.6,197.9 178.9,198.0 181.2,198.1 183.5,198.2 185.7,198.3 188.0,198.3 190.3,198.4 192.6,198.5 194.8,198.6 197.1,198.7 199.4,198.8 201.7,198.9 203.9,199.0 206.2,199.1 208.5,199.2 210.8,199.4 213.0,199.5 215.3,199.6 217.6,199.7 219.9,199.9 222.1,200.0 224.4,200.1 226.7,200.2 229.0,200.3 231.2,200.4 233.5,200.6 235.8,200.7 238.0,200.8 240.3,200.9 242.6,201.0 244.9,201.1 247.1,201.2 249.4,201.3 251.7,201.4 254.0,201.5 256.2,201.5 258.5,201.6 260.8,201.7 263.1,201.8 265.3,201.8 267.6,201.9 269.9,201.9 272.2,202.0 274.4,202.0 276.7,202.1 279.0,202.1 281.3,202.1 283.5,202.1 285.8,202.1 288.1,202.1 290.4,202.0 292.6,202.0 294.9,201.9 297.2,201.8 299.5,201.6 301.7,201.4 304.0,201.1 306.3,200.8 308.6,200.5 310.8,200.1 313.1,199.6 315.4,199.1 317.7,198.5 319.9,197.9 322.2,197.1 324.5,196.3 326.7,195.3 329.0,194.2 331.3,193.0 333.6,191.6 335.8,189.9 338.1,188.1 340.4,186.0 342.7,183.6 344.9,180.9 347.2,178.0 349.5,174.7 351.8,171.1 354.0,167.1 356.3,162.9 358.6,158.3 360.9,153.5 363.1,148.4 365.4,143.2 367.7,137.8 370.0,132.3 372.2,126.9 374.5,121.6 376.8,116.4 379.1,111.5 381.3,107.0 383.6,103.0 385.9,99.4 388.2,96.5 390.4,94.3 392.7,92.8 395.0,92.0 397.3,92.1 399.5,93.3 401.8,95.9 404.1,99.5 406.4,104.2 408.6,109.8 410.9,116.0 413.2,122.8 415.4,129.8 417.7,136.9 420.0,143.9 422.3,150.7 424.5,157.2 426.8,163.2 429.1,168.7 431.4,173.6 433.6,177.9 435.9,181.7 438.2,184.9 440.5,187.6 442.7,189.9 445.0,191.8 447.3,193.3 449.6,194.5 451.8,195.5 454.1,196.2 456.4,196.8 458.7,197.3 460.9,197.6 463.2,197.9 465.5,198.1 467.8,198.3 470.0,198.4 472.3,198.5 474.6,198.6 476.9,198.6 479.1,198.7 481.4,198.7 483.7,198.8 486.0,198.8 488.2,198.8 490.5,198.8 492.8,198.9 495.1,198.9 497.3,198.9 499.6,198.9 501.9,198.9 504.1,198.9 506.4,198.9 508.7,198.9 511.0,198.8 513.2,198.8 515.5,198.8 517.8,198.8 520.1,198.7 522.3,198.7 524.6,198.7 526.9,198.7 529.2,198.6 531.4,198.6 533.7,198.6 536.0,198.5 538.3,198.5 540.5,198.5 542.8,198.4 545.1,198.4" fill="none" stroke="#f40000" stroke-width="1.3"/>
<polyline points="47.0,208.8 49.3,208.2 51.5,207.6 53.8,207.0 56.1,206.4 58.4,205.9 60.6,205.5 62.9,205.0 65.2,204.6 67.5,204.2 69.7,203.8 72.0,203.5 74.3,203.1 76.6,202.8 78.8,202.6 81.1,202.3 83.4,202.0 85.7,201.8 87.9,201.6 90.2,201.4 92.5,201.2 94.8,201.0 97.0,200.8 99.3,200.6 101.6,200.5 103.9,200.3 106.1,200.2 108.4,200.0 110.7,199.9 113.0,199.8 115.2,199.6 117.5,199.5 119.8,199.4 122.1,199.3 124.3,199.3 126.6,199.3 128.9,199.4 131.2,199.5 133.4,199.7 135.7,199.9 138.0,200.1 140.2,200.3 142.5,200.5 144.8,200.7 147.1,200.9 149.3,201.1 151.6,201.3 153.9,201.5 156.2,201.7 158.4,202.0 160.7,202.4 163.0,202.7 165.3,203.1 167.5,203.5 169.8,203.9 172.1,204.3 174.4,204.7 176.6,205.1 178.9,205.5 181.2,205.9 183.5,206.3 185.7,206.7 188.0,207.1 190.3,207.5 192.6,207.8 194.8,208.2 197.1,208.6 199.4,208.9 201.7,209.3 203.9,209.6 206.2,210.0 208.5,210.4 210.8,210.8 213.0,211.2 215.3,211.6 217.6,211.9 219.9,212.3 222.1,212.6 224.4,212.9 226.7,213.1 229.0,213.4 231.2,213.6 233.5,213.9 235.8,214.1 238.0,214.4 240.3,214.7 242.6,214.9 244.9,215.1 247.1,215.3 249.4,215.5 251.7,215.7 254.0,215.8 256.2,216.0 258.5,216.1 260.8,216.3 263.1,216.4 265.3,216.6 267.6,216.8 269.9,216.9 272.2,217.1 274.4,217.2 276.7,217.2 279.0,217.3 281.3,217.2 283.5,217.2 285.8,217.1 288.1,217.0 290.4,216.9 292.6,216.6 294.9,216.3 297.2,215.7 299.5,215.0 301.7,214.1 304.0,213.1 306.3,212.1 308.6,211.0 310.8,209.9 313.1,208.7 315.4,207.4 317.7,206.0 319.9,204.5 322.2,203.0 324.5,201.4 326.7,199.8 329.0,198.1 331.3,196.3 333.6,194.4 335.8,192.2 338.1,189.9 340.4,187.4 342.7,184.8 344.9,181.8 347.2,178.6 349.5,175.1 351.8,171.3 354.0,167.2 356.3,162.8 358.6,158.1 360.9,153.2 363.1,148.0 365.4,142.6 367.7,137.1 370.0,131.6 372.2,126.1 374.5,120.7 376.8,115.6 379.1,110.8 381.3,106.4 383.6,102.5 385.9,99.2 388.2,96.7 390.4,94.8 392.7,93.7 395.0,93.4 397.3,94.2 399.5,96.3 401.8,99.7 404.1,104.2 406.4,109.7 408.6,115.9 410.9,122.8 413.2,130.1 415.4,137.5 417.7,145.0 420.0,152.3 422.3,159.2 424.5,165.7 426.8,171.7 429.1,177.2 431.4,182.0 433.6,186.3 435.9,190.0 438.2,193.1 440.5,195.8 442.7,198.0 445.0,199.8 447.3,201.3 449.6,202.6 451.8,203.6 454.1,204.5 456.4,205.2 458.7,205.7 460.9,206.2 463.2,206.7 465.5,207.1 467.8,207.4 470.0,207.8 472.3,208.1 474.6,208.4 476.9,208.7 479.1,209.0 481.4,209.2 483.7,209.5 486.0,209.8 488.2,210.1 490.5,210.3 492.8,210.6 495.1,210.9 497.3,211.1 499.6,211.4 501.9,211.7 504.1,211.9 506.4,212.2 508.7,212.4 511.0,212.7 513.2,212.9 515.5,213.1 517.8,213.4 520.1,213.6 522.3,213.8 524.6,214.1 526.9,214.3 529.2,214.5 531.4,214.7 533.7,214.9 536.0,215.1 538.3,215.3 540.5,215.5 542.8,215.7 545.1,215.9" fill="none" stroke="#f40000" stroke-width="1.3"/>
<polyline points="47.0,199.3 49.3,199.1 51.5,198.9 53.8,198.7 56.1,198.5 58.4,198.3 60.6,198.1 62.9,197.9 65.2,197.8 67.5,197.6 69.7,197.5 72.0,197.3 74.3,197.2 76.6,197.1 78.8,197.0 81.1,196.9 83.4,196.8 85.7,196.8 87.9,196.7 90.2,196.6 92.5,196.6 94.8,196.5 97.0,196.5 99.3,196.5 101.6,196.5 103.9,196.4 106.1,196.4 108.4,196.4 110.7,196.4 113.0,196.4 115.2,196.4 117.5,196.5 119.8,196.5 122.1,196.5 124.3,196.5 126.6,196.6 128.9,196.7 131.2,196.8 133.4,197.0 135.7,197.3 138.0,197.6 140.2,198.0 142.5,198.3 144.8,198.6 147.1,199.0 149.3,199.3 151.6,199.7 153.9,200.0 156.2,200.4 158.4,200.7 160.7,201.1 163.0,201.5 165.3,201.9 167.5,202.4 169.8,202.9 172.1,203.4 174.4,204.0 176.6,204.5 178.9,205.0 181.2,205.5 183.5,206.0 185.7,206.4 188.0,206.9 190.3,207.4 192.6,207.8 194.8,208.3 197.1,208.7 199.4,209.1 201.7,209.5 203.9,209.8 206.2,210.2 208.5,210.6 210.8,211.0 213.0,211.4 215.3,211.8 217.6,212.1 219.9,212.5 222.1,212.8 224.4,213.2 226.7,213.4 229.0,213.7 231.2,213.9 233.5,214.1 235.8,214.3 238.0,214.5 240.3,214.7 242.6,214.9 244.9,215.1 247.1,215.3 249.4,215.4 251.7,215.6 254.0,215.7 256.2,215.8 258.5,215.8 260.8,215.9 263.1,216.0 265.3,216.1 267.6,216.2 269.9,216.2 272.2,216.3 274.4,216.4 276.7,216.5 279.0,216.6 281.3,216.6 283.5,216.6 285.8,216.5 288.1,216.4 290.4,216.3 292.6,216.2 294.9,216.0 297.2,215.8 299.5,215.4 301.7,214.8 304.0,214.1 306.3,213.2 308.6,212.2 310.8,211.1 313.1,209.9 315.4,208.7 317.7,207.4 319.9,205.9 322.2,204.3 324.5,202.7 326.7,200.8 329.0,198.9 331.3,196.8 333.6,194.6 335.8,192.2 338.1,189.5 340.4,186.6 342.7,183.5 344.9,180.1 347.2,176.4 349.5,172.5 351.8,168.2 354.0,163.7 356.3,158.8 358.6,153.7 360.9,148.3 363.1,142.8 365.4,137.1 367.7,131.3 370.0,125.5 372.2,119.9 374.5,114.4 376.8,109.2 379.1,104.4 381.3,100.2 383.6,96.5 385.9,93.4 388.2,91.2 390.4,89.7 392.7,89.1 395.0,89.4 397.3,91.0 399.5,93.8 401.8,97.8 404.1,102.7 406.4,108.5 408.6,114.9 410.9,121.8 413.2,128.9 415.4,136.1 417.7,143.2 420.0,150.1 422.3,156.6 424.5,162.6 426.8,168.0 429.1,172.9 431.4,177.2 433.6,181.0 435.9,184.1 438.2,186.8 440.5,189.1 442.7,190.9 445.0,192.3 447.3,193.5 449.6,194.4 451.8,195.1 454.1,195.6 456.4,196.0 458.7,196.3 460.9,196.6 463.2,196.7 465.5,196.9 467.8,197.0 470.0,197.0 472.3,197.1 474.6,197.2 476.9,197.2 479.1,197.3 481.4,197.3 483.7,197.4 486.0,197.4 488.2,197.5 490.5,197.5 492.8,197.6 495.1,197.7 497.3,197.7 499.6,197.8 501.9,197.9 504.1,198.0 506.4,198.1 508.7,198.2 511.0,198.2 513.2,198.3 515.5,198.4 517.8,198.5 520.1,198.6 522.3,198.7 524.6,198.8 526.9,198.9 529.2,199.0 531.4,199.1 533.7,199.2 536.0,199.3 538.3,199.4 540.5,199.4 542.8,199.5 545.1,199.6" fill="none" stroke="#f40000" stroke-width="1.3"/>
<polyline points="47.0,208.2 49.3,207.7 51.5,207.2 53.8,206.7 56.1,206.2 58.4,205.8 60.6,205.3 62.9,204.9 65.2,204.6 67.5,204.2 69.7,203.9 72.0,203.5 74.3,203.2 76.6,203.0 78.8,202.7 81.1,202.4 83.4,202.2 85.7,202.0 87.9,201.8 90.2,201.6 92.5,201.4 94.8,201.2 97.0,201.1 99.3,200.9 101.6,200.8 103.9,200.7 106.1,200.6 108.4,200.5 110.7,200.4 113.0,200.3 115.2,200.2 117.5,200.2 119.8,200.1 122.1,200.1 124.3,200.1 126.6,200.2 128.9,200.3 131.2,200.4 133.4,200.7 135.7,200.9 138.0,201.2 140.2,201.5 142.5,201.8 144.8,202.1 147.1,202.4 149.3,202.7 151.6,203.0 153.9,203.3 156.2,203.6 158.4,204.0 160.7,204.4 163.0,204.8 165.3,205.2 167.5,205.7 169.8,206.2 172.1,206.6 174.4,207.1 176.6,207.6 178.9,208.0 181.2,208.5 183.5,209.0 185.7,209.4 188.0,209.8 190.3,210.2 192.6,210.6 194.8,211.0 197.1,211.4 199.4,211.7 201.7,212.1 203.9,212.5 206.2,212.8 208.5,213.2 210.8,213.5 213.0,213.9 215.3,214.2 217.6,214.6 219.9,214.9 222.1,215.1 224.4,215.4 226.7,215.6 229.0,215.7 231.2,215.9 233.5,216.1 235.8,216.2 238.0,216.4 240.3,216.6 242.6,216.7 244.9,216.9 247.1,217.0 249.4,217.1 251.7,217.1 254.0,217.2 256.2,217.2 258.5,217.3 260.8,217.3 263.1,217.3 265.3,217.4 267.6,217.5 269.9,217.5 272.2,217.6 274.4,217.6 276.7,217.6 279.0,217.6 281.3,217.5 283.5,217.4 285.8,217.3 288.1,217.1 290.4,217.0 292.6,216.8 294.9,216.5 297.2,216.0 299.5,215.4 301.7,214.7 304.0,213.9 306.3,213.0 308.6,212.0 310.8,211.0 313.1,210.0 315.4,208.9 317.7,207.8 319.9,206.6 322.2,205.3 324.5,204.0 326.7,202.6 329.0,201.2 331.3,199.7 333.6,198.0 335.8,196.2 338.1,194.1 340.4,191.8 342.7,189.3 344.9,186.4 347.2,183.3 349.5,179.7 351.8,175.8 354.0,171.4 356.3,166.6 358.6,161.5 360.9,156.0 363.1,150.2 365.4,144.1 367.7,137.9 370.0,131.6 372.2,125.4 374.5,119.4 376.8,113.7 379.1,108.5 381.3,103.9 383.6,100.1 385.9,97.0 388.2,94.9 390.4,93.8 392.7,93.6 395.0,94.9 397.3,97.8 399.5,102.0 401.8,107.5 404.1,114.0 406.4,121.3 408.6,129.1 410.9,137.2 413.2,145.3 415.4,153.2 417.7,160.7 420.0,167.7 422.3,174.1 424.5,179.8 426.8,184.7 429.1,189.0 431.4,192.6 433.6,195.6 435.9,198.1 438.2,200.1 440.5,201.6 442.7,202.9 445.0,203.8 447.3,204.6 449.6,205.2 451.8,205.6 454.1,206.0 456.4,206.2 458.7,206.5 460.9,206.7 463.2,206.8 465.5,207.0 467.8,207.1 470.0,207.3 472.3,207.4 474.6,207.6 476.9,207.7 479.1,207.9 481.4,208.0 483.7,208.2 486.0,208.3 488.2,208.5 490.5,208.7 492.8,208.9 495.1,209.0 497.3,209.2 499.6,209.4 501.9,209.6 504.1,209.8 506.4,210.0 508.7,210.2 511.0,210.4 513.2,210.6 515.5,210.9 517.8,211.1 520.1,211.3 522.3,211.5 524.6,211.8 526.9,212.0 529.2,212.2 531.4,212.5 533.7,212.7 536.0,212.9 538.3,213.2 540.5,213.4 542.8,213.6 545.1,213.9" fill="none" stroke="#f40000" stroke-width="1.3"/>
<polyline points="47.0,208.2 49.3,207.5 51.5,206.9 53.8,206.3 56.1,205.7 58.4,205.2 60.6,204.7 62.9,204.2 65.2,203.7 67.5,203.3 69.7,202.9 72.0,202.5 74.3,202.1 76.6,201.8 78.8,201.5 81.1,201.2 83.4,200.9 85.7,200.7 87.9,200.4 90.2,200.2 92.5,200.0 94.8,199.8 97.0,199.7 99.3,199.5 101.6,199.4 103.9,199.2 106.1,199.1 108.4,199.0 110.7,198.9 113.0,198.8 115.2,198.7 117.5,198.7 119.8,198.6 122.1,198.5 124.3,198.4 126.6,198.3 128.9,198.2 131.2,198.1 133.4,198.0 135.7,198.0 138.0,197.9 140.2,197.8 142.5,197.7 144.8,197.6 147.1,197.5 149.3,197.5 151.6,197.4 153.9,197.3 156.2,197.2 158.4,197.2 160.7,197.1 163.0,197.0 165.3,196.9 167.5,196.8 169.8,196.8 172.1,196.7 174.4,196.6 176.6,196.5 178.9,196.4 181.2,196.3 183.5,196.2 185.7,196.1 188.0,196.0 190.3,195.9 192.6,195.8 194.8,195.6 197.1,195.5 199.4,195.4 201.7,195.3 203.9,195.2 206.2,195.0 208.5,194.9 210.8,194.8 213.0,194.7 215.3,194.5 217.6,194.4 219.9,194.3 222.1,194.1 224.4,194.1 226.7,194.0 229.0,193.9 231.2,193.9 233.5,193.8 235.8,193.7 238.0,193.7 240.3,193.6 242.6,193.6 244.9,193.5 247.1,193.4 249.4,193.4 251.7,193.4 254.0,193.3 256.2,193.3 258.5,193.2 260.8,193.2 263.1,193.2 265.3,193.2 267.6,193.2 269.9,193.1 272.2,193.1 274.4,193.1 276.7,193.1 279.0,193.1 281.3,193.1 283.5,193.2 285.8,193.2 288.1,193.2 290.4,193.2 292.6,193.2 294.9,193.3 297.2,193.3 299.5,193.4 301.7,193.4 304.0,193.4 306.3,193.5 308.6,193.5 310.8,193.6 313.1,193.6 315.4,193.7 317.7,193.8 319.9,193.8 322.2,193.9 324.5,194.0 326.7,194.3 329.0,194.5 331.3,194.8 333.6,195.0 335.8,195.3 338.1,195.5 340.4,195.8 342.7,196.0 344.9,196.3 347.2,196.5 349.5,196.8 351.8,197.0 354.0,197.3 356.3,197.5 358.6,197.8 360.9,198.0 363.1,198.3 365.4,198.5 367.7,198.7 370.0,199.0 372.2,199.2 374.5,199.3 376.8,199.4 379.1,199.5 381.3,199.6 383.6,199.7 385.9,199.8 388.2,199.9 390.4,200.0 392.7,200.0 395.0,200.1 397.3,200.2 399.5,200.3 401.8,200.3 404.1,200.4 406.4,200.5 408.6,200.5 410.9,200.6 413.2,200.6 415.4,200.7 417.7,200.8 420.0,200.8 422.3,200.9 424.5,200.9 426.8,201.0 429.1,201.1 431.4,201.1 433.6,201.2 435.9,201.3 438.2,201.3 440.5,201.4 442.7,201.5 445.0,201.6 447.3,201.7 449.6,201.7 451.8,201.8 454.1,201.9 456.4,202.0 458.7,202.1 460.9,202.2 463.2,202.3 465.5,202.5 467.8,202.6 470.0,202.7 472.3,202.8 474.6,203.0 476.9,203.1 479.1,203.3 481.4,203.4 483.7,203.6 486.0,203.7 488.2,203.9 490.5,204.0 492.8,204.2 495.1,204.4 497.3,204.6 499.6,204.7 501.9,204.9 504.1,205.1 506.4,205.3 508.7,205.5 511.0,205.7 513.2,205.9 515.5,206.1 517.8,206.2 520.1,206.4 522.3,206.6 524.6,206.8 526.9,207.0 529.2,207.2 531.4,207.4 533.7,207.6 536.0,207.8 538.3,208.0 540.5,208.2 542.8,208.4 545.1,208.5" fill="none" stroke="#f40000" stroke-width="1.3"/>
<polyline points="47.0,201.6 49.3,201.4 51.5,201.2 53.8,201.1 56.1,200.9 58.4,200.8 60.6,200.7 62.9,200.6 65.2,200.5 67.5,200.4 69.7,200.3 72.0,200.2 74.3,200.2 76.6,200.1 78.8,200.1 81.1,200.1 83.4,200.0 85.7,200.0 87.9,200.0 90.2,200.0 92.5,200.0 94.8,199.9 97.0,199.9 99.3,199.9 101.6,199.9 103.9,199.9 106.1,199.9 108.4,199.9 110.7,199.9 113.0,199.9 115.2,199.9 117.5,199.9 119.8,199.9 122.1,199.9 124.3,199.9 126.6,199.8 128.9,199.8 131.2,199.7 133.4,199.6 135.7,199.5 138.0,199.4 140.2,199.4 142.5,199.3 144.8,199.2 147.1,199.1 149.3,199.0 151.6,198.9 153.9,198.8 156.2,198.7 158.4,198.6 160.7,198.5 163.0,198.4 165.3,198.3 167.5,198.1 169.8,198.0 172.1,197.9 174.4,197.8 176.6,197.7 178.9,197.5 181.2,197.4 183.5,197.3 185.7,197.2 188.0,197.0 190.3,196.9 192.6,196.8 194.8,196.7 197.1,196.5 199.4,196.4 201.7,196.3 203.9,196.2 206.2,196.1 208.5,195.9 210.8,195.8 213.0,195.7 215.3,195.6 217.6,195.5 219.9,195.4 222.1,195.3 224.4,195.3 226.7,195.3 229.0,195.2 231.2,195.2 233.5,195.2 235.8,195.2 238.0,195.2 240.3,195.2 242.6,195.2 244.9,195.2 247.1,195.2 249.4,195.2 251.7,195.2 254.0,195.3 256.2,195.3 258.5,195.3 260.8,195.4 263.1,195.4 265.3,195.4 267.6,195.5 269.9,195.5 272.2,195.6 274.4,195.6 276.7,195.7 279.0,195.7 281.3,195.8 283.5,195.9 285.8,195.9 288.1,196.0 290.4,196.0 292.6,196.1 294.9,196.1 297.2,196.2 299.5,196.3 301.7,196.3 304.0,196.4 306.3,196.4 308.6,196.5 310.8,196.5 313.1,196.5 315.4,196.6 317.7,196.6 319.9,196.6 322.2,196.7 324.5,196.8 326.7,197.0 329.0,197.3 331.3,197.5 333.6,197.7 335.8,197.9 338.1,198.2 340.4,198.4 342.7,198.6 344.9,198.8 347.2,199.0 349.5,199.3 351.8,199.5 354.0,199.7 356.3,199.9 358.6,200.1 360.9,200.3 363.1,200.5 365.4,200.7 367.7,200.9 370.0,201.1 372.2,201.3 374.5,201.4 376.8,201.5 379.1,201.6 381.3,201.7 383.6,201.8 385.9,201.8 388.2,201.9 390.4,202.0 392.7,202.1 395.0,202.2 397.3,202.3 399.5,202.4 401.8,202.4 404.1,202.5 406.4,202.6 408.6,202.7 410.9,202.9 413.2,203.0 415.4,203.1 417.7,203.2 420.0,203.3 422.3,203.4 424.5,203.6 426.8,203.7 429.1,203.8 431.4,204.0 433.6,204.1 435.9,204.3 438.2,204.5 440.5,204.6 442.7,204.8 445.0,205.0 447.3,205.1 449.6,205.3 451.8,205.5 454.1,205.7 456.4,205.9 458.7,206.1 460.9,206.3 463.2,206.5 465.5,206.7 467.8,206.9 470.0,207.2 472.3,207.4 474.6,207.6 476.9,207.8 479.1,208.0 481.4,208.3 483.7,208.5 486.0,208.7 488.2,208.9 490.5,209.2 492.8,209.4 495.1,209.6 497.3,209.8 499.6,210.1 501.9,210.3 504.1,210.5 506.4,210.7 508.7,210.9 511.0,211.2 513.2,211.4 515.5,211.6 517.8,211.8 520.1,212.0 522.3,212.2 524.6,212.4 526.9,212.6 529.2,212.8 531.4,212.9 533.7,213.1 536.0,213.3 538.3,213.5 540.5,213.6 542.8,213.8 545.1,214.0" fill="none" stroke="#f40000" stroke-width="1.3"/>
<polyline points="47.0,198.7 49.3,198.5 51.5,198.4 53.8,198.2 56.1,198.0 58.4,197.9 60.6,197.8 62.9,197.6 65.2,197.5 67.5,197.4 69.7,197.3 72.0,197.2 74.3,197.2 76.6,197.1 78.8,197.0 81.1,197.0 83.4,197.0 85.7,196.9 87.9,196.9 90.2,196.9 92.5,196.9 94.8,196.8 97.0,196.8 99.3,196.8 101.6,196.8 103.9,196.9 106.1,196.9 108.4,196.9 110.7,196.9 113.0,196.9 115.2,196.9 117.5,197.0 119.8,197.0 122.1,197.0 124.3,197.0 126.6,197.0 128.9,196.9 131.2,196.9 133.4,196.9 135.7,196.9 138.0,196.8 140.2,196.8 142.5,196.7 144.8,196.7 147.1,196.7 149.3,196.6 151.6,196.6 153.9,196.5 156.2,196.5 158.4,196.4 160.7,196.3 163.0,196.3 165.3,196.2 167.5,196.1 169.8,196.1 172.1,196.0 174.4,195.9 176.6,195.8 178.9,195.7 181.2,195.6 183.5,195.5 185.7,195.4 188.0,195.3 190.3,195.2 192.6,195.1 194.8,195.0 197.1,194.9 199.4,194.8 201.7,194.7 203.9,194.5 206.2,194.4 208.5,194.3 210.8,194.2 213.0,194.1 215.3,193.9 217.6,193.8 219.9,193.7 222.1,193.6 224.4,193.5 226.7,193.4 229.0,193.4 231.2,193.3 233.5,193.3 235.8,193.2 238.0,193.2 240.3,193.1 242.6,193.1 244.9,193.1 247.1,193.0 249.4,193.0 251.7,193.0 254.0,193.0 256.2,192.9 258.5,192.9 260.8,192.9 263.1,192.9 265.3,192.9 267.6,192.9 269.9,192.9 272.2,192.9 274.4,192.9 276.7,193.0 279.0,193.0 281.3,193.0 283.5,193.0 285.8,193.1 288.1,193.1 290.4,193.2 292.6,193.2 294.9,193.3 297.2,193.3 299.5,193.4 301.7,193.4 304.0,193.5 306.3,193.5 308.6,193.6 310.8,193.6 313.1,193.7 315.4,193.7 317.7,193.8 319.9,193.9 322.2,193.9 324.5,194.1 326.7,194.3 329.0,194.6 331.3,194.8 333.6,195.0 335.8,195.3 338.1,195.5 340.4,195.8 342.7,196.0 344.9,196.2 347.2,196.5 349.5,196.7 351.8,196.9 354.0,197.2 356.3,197.4 358.6,197.6 360.9,197.8 363.1,198.1 365.4,198.3 367.7,198.5 370.0,198.7 372.2,198.9 374.5,199.0 376.8,199.1 379.1,199.2 381.3,199.2 383.6,199.3 385.9,199.4 388.2,199.4 390.4,199.5 392.7,199.6 395.0,199.6 397.3,199.7 399.5,199.7 401.8,199.8 404.1,199.8 406.4,199.9 408.6,199.9 410.9,200.0 413.2,200.0 415.4,200.1 417.7,200.2 420.0,200.2 422.3,200.3 424.5,200.3 426.8,200.4 429.1,200.5 431.4,200.5 433.6,200.6 435.9,200.7 438.2,200.8 440.5,200.8 442.7,200.9 445.0,201.0 447.3,201.1 449.6,201.2 451.8,201.3 454.1,201.4 456.4,201.5 458.7,201.6 460.9,201.7 463.2,201.9 465.5,202.0 467.8,202.1 470.0,202.3 472.3,202.4 474.6,202.6 476.9,202.7 479.1,202.9 481.4,203.0 483.7,203.2 486.0,203.4 488.2,203.5 490.5,203.7 492.8,203.9 495.1,204.1 497.3,204.2 499.6,204.4 501.9,204.6 504.1,204.8 506.4,205.0 508.7,205.2 511.0,205.3 513.2,205.5 515.5,205.7 517.8,205.9 520.1,206.1 522.3,206.3 524.6,206.5 526.9,206.7 529.2,206.8 531.4,207.0 533.7,207.2 536.0,207.4 538.3,207.5 540.5,207.7 542.8,207.9 545.1,208.0" fill="none" stroke="#f40000" stroke-width="1.3"/>
<polyline points="47.0,209.0 49.3,208.4 51.5,207.9 53.8,207.4 56.1,206.9 58.4,206.4 60.6,205.9 62.9,205.5 65.2,205.1 67.5,204.7 69.7,204.3 72.0,203.9 74.3,203.6 76.6,203.2 78.8,202.9 81.1,202.6 83.4,202.3 85.7,202.0 87.9,201.7 90.2,201.5 92.5,201.2 94.8,201.0 97.0,200.8 99.3,200.5 101.6,200.3 103.9,200.1 106.1,199.9 108.4,199.8 110.7,199.6 113.0,199.5 115.2,199.3 117.5,199.2 119.8,199.0 122.1,198.9 124.3,198.8 126.6,198.6 128.9,198.5 131.2,198.3 133.4,198.2 135.7,198.1 138.0,197.9 140.2,197.8 142.5,197.7 144.8,197.6 147.1,197.5 149.3,197.5 151.6,197.4 153.9,197.3 156.2,197.2 158.4,197.2 160.7,197.1 163.0,197.1 165.3,197.0 167.5,197.0 169.8,197.0 172.1,196.9 174.4,196.9 176.6,196.9 178.9,196.8 181.2,196.8 183.5,196.8 185.7,196.8 188.0,196.7 190.3,196.7 192.6,196.7 194.8,196.7 197.1,196.6 199.4,196.6 201.7,196.6 203.9,196.5 206.2,196.5 208.5,196.5 210.8,196.4 213.0,196.4 215.3,196.4 217.6,196.3 219.9,196.3 222.1,196.2 224.4,196.2 226.7,196.2 229.0,196.2 231.2,196.2 233.5,196.2 235.8,196.2 238.0,196.1 240.3,196.1 242.6,196.1 244.9,196.1 247.1,196.0 249.4,196.0 251.7,196.0 254.0,195.9 256.2,195.9 258.5,195.8 260.8,195.8 263.1,195.7 265.3,195.7 267.6,195.6 269.9,195.5 272.2,195.5 274.4,195.4 276.7,195.4 279.0,195.3 281.3,195.2 283.5,195.2 285.8,195.1 288.1,195.1 290.4,195.0 292.6,194.9 294.9,194.9 297.2,194.8 299.5,194.8 301.7,194.7 304.0,194.7 306.3,194.7 308.6,194.6 310.8,194.6 313.1,194.6 315.4,194.5 317.7,194.5 319.9,194.5 322.2,194.5 324.5,194.6 326.7,194.7 329.0,194.8 331.3,195.0 333.6,195.1 335.8,195.3 338.1,195.5 340.4,195.6 342.7,195.8 344.9,196.0 347.2,196.2 349.5,196.4 351.8,196.5 354.0,196.7 356.3,196.9 358.6,197.1 360.9,197.3 363.1,197.5 365.4,197.7 367.7,198.0 370.0,198.2 372.2,198.4 374.5,198.5 376.8,198.6 379.1,198.7 381.3,198.8 383.6,198.9 385.9,199.0 388.2,199.1 390.4,199.2 392.7,199.3 395.0,199.4 397.3,199.4 399.5,199.5 401.8,199.6 404.1,199.7 406.4,199.8 408.6,199.8 410.9,199.9 413.2,200.0 415.4,200.0 417.7,200.1 420.0,200.1 422.3,200.2 424.5,200.2 426.8,200.3 429.1,200.3 431.4,200.4 433.6,200.4 435.9,200.4 438.2,200.4 440.5,200.5 442.7,200.5 445.0,200.5 447.3,200.5 449.6,200.5 451.8,200.5 454.1,200.5 456.4,200.5 458.7,200.5 460.9,200.5 463.2,200.5 465.5,200.5 467.8,200.5 470.0,200.4 472.3,200.4 474.6,200.4 476.9,200.4 479.1,200.4 481.4,200.4 483.7,200.4 486.0,200.3 488.2,200.3 490.5,200.3 492.8,200.3 495.1,200.3 497.3,200.3 499.6,200.3 501.9,200.3 504.1,200.3 506.4,200.3 508.7,200.4 511.0,200.4 513.2,200.4 515.5,200.4 517.8,200.5 520.1,200.5 522.3,200.5 524.6,200.6 526.9,200.6 529.2,200.7 531.4,200.7 533.7,200.8 536.0,200.8 538.3,200.9 540.5,201.0 542.8,201.1 545.1,201.1" fill="none" stroke="#f40000" stroke-width="1.3"/>
<polyline points="47.0,208.5 49.3,207.9 51.5,207.3 53.8,206.8 56.1,206.3 58.4,205.8 60.6,205.3 62.9,204.8 65.2,204.4 67.5,204.0 69.7,203.6 72.0,203.2 74.3,202.9 76.6,202.5 78.8,202.2 81.1,201.8 83.4,201.5 85.7,201.2 87.9,200.9 90.2,200.7 92.5,200.4 94.8,200.1 97.0,199.9 99.3,199.6 101.6,199.4 103.9,199.2 106.1,198.9 108.4,198.7 110.7,198.5 113.0,198.3 115.2,198.1 117.5,197.9 119.8,197.8 122.1,197.6 124.3,197.4 126.6,197.2 128.9,197.0 131.2,196.8 133.4,196.6 135.7,196.4 138.0,196.2 140.2,196.0 142.5,195.9 144.8,195.7 147.1,195.5 149.3,195.4 151.6,195.3 153.9,195.1 156.2,195.0 158.4,194.9 160.7,194.8 163.0,194.7 165.3,194.6 167.5,194.5 169.8,194.4 172.1,194.3 174.4,194.3 176.6,194.2 178.9,194.1 181.2,194.1 183.5,194.0 185.7,194.0 188.0,193.9 190.3,193.9 192.6,193.9 194.8,193.8 197.1,193.8 199.4,193.8 201.7,193.7 203.9,193.7 206.2,193.7 208.5,193.7 210.8,193.7 213.0,193.7 215.3,193.6 217.6,193.6 219.9,193.6 222.1,193.6 224.4,193.6 226.7,193.7 229.0,193.7 231.2,193.7 233.5,193.8 235.8,193.8 238.0,193.8 240.3,193.9 242.6,193.9 244.9,193.9 247.1,193.9 249.4,194.0 251.7,194.0 254.0,194.0 256.2,194.0 258.5,194.0 260.8,194.0 263.1,194.0 265.3,194.0 267.6,194.0 269.9,193.9 272.2,193.9 274.4,193.9 276.7,193.9 279.0,193.8 281.3,193.8 283.5,193.7 285.8,193.7 288.1,193.6 290.4,193.6 292.6,193.5 294.9,193.5 297.2,193.4 299.5,193.4 301.7,193.3 304.0,193.3 306.3,193.2 308.6,193.1 310.8,193.1 313.1,193.0 315.4,193.0 317.7,192.9 319.9,192.9 322.2,192.8 324.5,192.8 326.7,192.9 329.0,193.0 331.3,193.1 333.6,193.2 335.8,193.3 338.1,193.4 340.4,193.5 342.7,193.6 344.9,193.7 347.2,193.8 349.5,193.9 351.8,194.1 354.0,194.2 356.3,194.3 358.6,194.5 360.9,194.6 363.1,194.8 365.4,194.9 367.7,195.1 370.0,195.2 372.2,195.4 374.5,195.5 376.8,195.5 379.1,195.6 381.3,195.7 383.6,195.7 385.9,195.8 388.2,195.9 390.4,195.9 392.7,196.0 395.0,196.1 397.3,196.2 399.5,196.2 401.8,196.3 404.1,196.4 406.4,196.5 408.6,196.6 410.9,196.6 413.2,196.7 415.4,196.8 417.7,196.9 420.0,197.0 422.3,197.0 424.5,197.1 426.8,197.2 429.1,197.3 431.4,197.3 433.6,197.4 435.9,197.5 438.2,197.5 440.5,197.6 442.7,197.6 445.0,197.7 447.3,197.7 449.6,197.8 451.8,197.8 454.1,197.8 456.4,197.9 458.7,197.9 460.9,197.9 463.2,197.9 465.5,197.9 467.8,198.0 470.0,198.0 472.3,198.0 474.6,198.0 476.9,198.0 479.1,197.9 481.4,197.9 483.7,197.9 486.0,197.9 488.2,197.9 490.5,197.9 492.8,197.8 495.1,197.8 497.3,197.8 499.6,197.8 501.9,197.7 504.1,197.7 506.4,197.7 508.7,197.6 511.0,197.6 513.2,197.6 515.5,197.5 517.8,197.5 520.1,197.5 522.3,197.5 524.6,197.4 526.9,197.4 529.2,197.4 531.4,197.4 533.7,197.4 536.0,197.4 538.3,197.4 540.5,197.4 542.8,197.4 545.1,197.4" fill="none" stroke="#f40000" stroke-width="1.3"/>
<polyline points="47.0,208.2 49.3,207.6 51.5,207.0 53.8,206.4 56.1,205.9 58.4,205.4 60.6,204.9 62.9,204.5 65.2,204.0 67.5,203.6 69.7,203.2 72.0,202.8 74.3,202.4 76.6,202.1 78.8,201.7 81.1,201.4 83.4,201.1 85.7,200.7 87.9,200.4 90.2,200.2 92.5,199.9 94.8,199.6 97.0,199.3 99.3,199.1 101.6,198.9 103.9,198.6 106.1,198.4 108.4,198.2 110.7,198.0 113.0,197.8 115.2,197.6 117.5,197.4 119.8,197.2 122.1,197.1 124.3,196.9 126.6,196.7 128.9,196.4 131.2,196.3 133.4,196.1 135.7,195.9 138.0,195.7 140.2,195.5 142.5,195.4 144.8,195.2 147.1,195.1 149.3,195.0 151.6,194.8 153.9,194.7 156.2,194.6 158.4,194.5 160.7,194.4 163.0,194.3 165.3,194.2 167.5,194.1 169.8,194.1 172.1,194.0 174.4,193.9 176.6,193.9 178.9,193.8 181.2,193.8 183.5,193.7 185.7,193.7 188.0,193.6 190.3,193.6 192.6,193.6 194.8,193.6 197.1,193.5 199.4,193.5 201.7,193.5 203.9,193.5 206.2,193.5 208.5,193.4 210.8,193.4 213.0,193.4 215.3,193.4 217.6,193.4 219.9,193.3 222.1,193.3 224.4,193.4 226.7,193.4 229.0,193.4 231.2,193.5 233.5,193.5 235.8,193.5 238.0,193.5 240.3,193.6 242.6,193.6 244.9,193.6 247.1,193.6 249.4,193.6 251.7,193.6 254.0,193.6 256.2,193.6 258.5,193.6 260.8,193.6 263.1,193.6 265.3,193.5 267.6,193.5 269.9,193.5 272.2,193.4 274.4,193.4 276.7,193.4 279.0,193.3 281.3,193.3 283.5,193.2 285.8,193.2 288.1,193.1 290.4,193.1 292.6,193.0 294.9,193.0 297.2,192.9 299.5,192.8 301.7,192.8 304.0,192.7 306.3,192.7 308.6,192.6 310.8,192.5 313.1,192.5 315.4,192.4 317.7,192.4 319.9,192.3 322.2,192.3 324.5,192.3 326.7,192.5 329.0,192.6 331.3,192.8 333.6,193.0 335.8,193.1 338.1,193.3 340.4,193.5 342.7,193.7 344.9,193.9 347.2,194.1 349.5,194.3 351.8,194.5 354.0,194.8 356.3,195.0 358.6,195.2 360.9,195.5 363.1,195.7 365.4,196.0 367.7,196.2 370.0,196.5 372.2,196.8 374.5,197.0 376.8,197.1 379.1,197.3 381.3,197.4 383.6,197.6 385.9,197.8 388.2,197.9 390.4,198.1 392.7,198.3 395.0,198.5 397.3,198.7 399.5,198.8 401.8,199.0 404.1,199.2 406.4,199.4 408.6,199.6 410.9,199.8 413.2,199.9 415.4,200.1 417.7,200.3 420.0,200.5 422.3,200.7 424.5,200.9 426.8,201.0 429.1,201.2 431.4,201.4 433.6,201.5 435.9,201.7 438.2,201.9 440.5,202.0 442.7,202.2 445.0,202.3 447.3,202.5 449.6,202.6 451.8,202.8 454.1,202.9 456.4,203.0 458.7,203.2 460.9,203.3 463.2,203.4 465.5,203.5 467.8,203.6 470.0,203.8 472.3,203.9 474.6,204.0 476.9,204.1 479.1,204.2 481.4,204.3 483.7,204.4 486.0,204.5 488.2,204.6 490.5,204.6 492.8,204.7 495.1,204.8 497.3,204.9 499.6,205.0 501.9,205.1 504.1,205.2 506.4,205.3 508.7,205.4 511.0,205.5 513.2,205.6 515.5,205.7 517.8,205.8 520.1,205.9 522.3,206.0 524.6,206.1 526.9,206.2 529.2,206.3 531.4,206.4 533.7,206.5 536.0,206.7 538.3,206.8 540.5,206.9 542.8,207.1 545.1,207.2" fill="none" stroke="#f40000" stroke-width="1.3"/>
<polyline points="47.0,212.9 49.3,212.1 51.5,211.4 53.8,210.8 56.1,210.2 58.4,209.6 60.6,209.0 62.9,208.4 65.2,207.9 67.5,207.4 69.7,206.9 72.0,206.5 74.3,206.0 76.6,205.6 78.8,205.2 81.1,204.8 83.4,204.4 85.7,204.1 87.9,203.7 90.2,203.4 92.5,203.1 94.8,202.7 97.0,202.5 99.3,202.2 101.6,201.9 103.9,201.7 106.1,201.4 108.4,201.2 110.7,201.0 113.0,200.7 115.2,200.5 117.5,200.3 119.8,200.2 122.1,200.0 124.3,199.8 126.6,199.6 128.9,199.4 131.2,199.2 133.4,199.0 135.7,198.8 138.0,198.7 140.2,198.5 142.5,198.4 144.8,198.2 147.1,198.1 149.3,198.0 151.6,197.9 153.9,197.8 156.2,197.7 158.4,197.6 160.7,197.5 163.0,197.4 165.3,197.3 167.5,197.3 169.8,197.2 172.1,197.1 174.4,197.1 176.6,197.0 178.9,197.0 181.2,197.0 183.5,196.9 185.7,196.9 188.0,196.8 190.3,196.8 192.6,196.8 194.8,196.8 197.1,196.7 199.4,196.7 201.7,196.7 203.9,196.7 206.2,196.6 208.5,196.6 210.8,196.6 213.0,196.6 215.3,196.5 217.6,196.5 219.9,196.5 222.1,196.4 224.4,196.4 226.7,196.5 229.0,196.5 231.2,196.5 233.5,196.5 235.8,196.5 238.0,196.5 240.3,196.5 242.6,196.5 244.9,196.5 247.1,196.5 249.4,196.5 251.7,196.4 254.0,196.4 256.2,196.4 258.5,196.4 260.8,196.3 263.1,196.3 265.3,196.2 267.6,196.2 269.9,196.1 272.2,196.1 274.4,196.0 276.7,196.0 279.0,195.9 281.3,195.9 283.5,195.8 285.8,195.8 288.1,195.7 290.4,195.6 292.6,195.6 294.9,195.5 297.2,195.5 299.5,195.4 301.7,195.3 304.0,195.3 306.3,195.2 308.6,195.2 310.8,195.1 313.1,195.1 315.4,195.0 317.7,195.0 319.9,195.0 322.2,194.9 324.5,195.0 326.7,195.1 329.0,195.3 331.3,195.5 333.6,195.6 335.8,195.8 338.1,196.0 340.4,196.2 342.7,196.4 344.9,196.6 347.2,196.8 349.5,197.0 351.8,197.3 354.0,197.5 356.3,197.7 358.6,197.9 360.9,198.2 363.1,198.4 365.4,198.7 367.7,198.9 370.0,199.2 372.2,199.5 374.5,199.7 376.8,199.8 379.1,200.0 381.3,200.1 383.6,200.3 385.9,200.4 388.2,200.6 390.4,200.7 392.7,200.9 395.0,201.1 397.3,201.2 399.5,201.4 401.8,201.5 404.1,201.7 406.4,201.8 408.6,202.0 410.9,202.1 413.2,202.3 415.4,202.4 417.7,202.6 420.0,202.7 422.3,202.9 424.5,203.0 426.8,203.2 429.1,203.3 431.4,203.4 433.6,203.5 435.9,203.7 438.2,203.8 440.5,203.9 442.7,204.0 445.0,204.1 447.3,204.2 449.6,204.3 451.8,204.4 454.1,204.5 456.4,204.6 458.7,204.7 460.9,204.7 463.2,204.8 465.5,204.9 467.8,205.0 470.0,205.0 472.3,205.1 474.6,205.2 476.9,205.2 479.1,205.3 481.4,205.4 483.7,205.4 486.0,205.5 488.2,205.5 490.5,205.6 492.8,205.7 495.1,205.7 497.3,205.8 499.6,205.9 501.9,205.9 504.1,206.0 506.4,206.1 508.7,206.1 511.0,206.2 513.2,206.3 515.5,206.4 517.8,206.5 520.1,206.6 522.3,206.7 524.6,206.8 526.9,206.9 529.2,207.0 531.4,207.1 533.7,207.2 536.0,207.3 538.3,207.4 540.5,207.6 542.8,207.7 545.1,207.8" fill="none" stroke="#f40000" stroke-width="1.3"/>
<polyline points="47.0,198.7 49.3,198.5 51.5,198.4 53.8,198.2 56.1,198.1 58.4,198.0 60.6,197.9 62.9,197.8 65.2,197.7 67.5,197.6 69.7,197.5 72.0,197.4 74.3,197.3 76.6,197.2 78.8,197.2 81.1,197.1 83.4,197.1 85.7,197.0 87.9,197.0 90.2,196.9 92.5,196.9 94.8,196.9 97.0,196.8 99.3,196.8 101.6,196.8 103.9,196.8 106.1,196.8 108.4,196.8 110.7,196.8 113.0,196.8 115.2,196.8 117.5,196.9 119.8,196.9 122.1,196.9 124.3,196.9 126.6,196.9 128.9,196.9 131.2,196.8 133.4,196.8 135.7,196.8 138.0,196.8 140.2,196.8 142.5,196.8 144.8,196.8 147.1,196.7 149.3,196.7 151.6,196.7 153.9,196.7 156.2,196.7 158.4,196.7 160.7,196.7 163.0,196.6 165.3,196.6 167.5,196.6 169.8,196.6 172.1,196.5 174.4,196.5 176.6,196.5 178.9,196.4 181.2,196.4 183.5,196.3 185.7,196.3 188.0,196.2 190.3,196.2 192.6,196.1 194.8,196.1 197.1,196.0 199.4,195.9 201.7,195.8 203.9,195.7 206.2,195.7 208.5,195.6 210.8,195.5 213.0,195.4 215.3,195.3 217.6,195.2 219.9,195.1 222.1,195.0 224.4,194.9 226.7,194.8 229.0,194.8 231.2,194.7 233.5,194.7 235.8,194.6 238.0,194.6 240.3,194.5 242.6,194.4 244.9,194.4 247.1,194.3 249.4,194.3 251.7,194.2 254.0,194.2 256.2,194.1 258.5,194.1 260.8,194.0 263.1,194.0 265.3,193.9 267.6,193.9 269.9,193.8 272.2,193.8 274.4,193.8 276.7,193.7 279.0,193.7 281.3,193.7 283.5,193.7 285.8,193.7 288.1,193.7 290.4,193.7 292.6,193.7 294.9,193.7 297.2,193.7 299.5,193.7 301.7,193.7 304.0,193.7 306.3,193.8 308.6,193.8 310.8,193.8 313.1,193.9 315.4,193.9 317.7,193.9 319.9,194.0 322.2,194.0 324.5,194.2 326.7,194.5 329.0,194.7 331.3,195.0 333.6,195.3 335.8,195.6 338.1,195.9 340.4,196.1 342.7,196.4 344.9,196.7 347.2,197.0 349.5,197.3 351.8,197.6 354.0,197.9 356.3,198.2 358.6,198.5 360.9,198.8 363.1,199.1 365.4,199.4 367.7,199.7 370.0,200.0 372.2,200.3 374.5,200.5 376.8,200.7 379.1,200.9 381.3,201.0 383.6,201.2 385.9,201.3 388.2,201.5 390.4,201.6 392.7,201.8 395.0,201.9 397.3,202.1 399.5,202.2 401.8,202.3 404.1,202.5 406.4,202.6 408.6,202.7 410.9,202.8 413.2,202.9 415.4,203.1 417.7,203.2 420.0,203.3 422.3,203.4 424.5,203.5 426.8,203.6 429.1,203.7 431.4,203.8 433.6,203.9 435.9,204.0 438.2,204.1 440.5,204.3 442.7,204.4 445.0,204.5 447.3,204.6 449.6,204.7 451.8,204.8 454.1,204.9 456.4,205.1 458.7,205.2 460.9,205.3 463.2,205.4 465.5,205.6 467.8,205.7 470.0,205.8 472.3,206.0 474.6,206.1 476.9,206.3 479.1,206.5 481.4,206.6 483.7,206.8 486.0,207.0 488.2,207.1 490.5,207.3 492.8,207.5 495.1,207.7 497.3,207.9 499.6,208.1 501.9,208.3 504.1,208.5 506.4,208.7 508.7,208.9 511.0,209.2 513.2,209.4 515.5,209.6 517.8,209.8 520.1,210.1 522.3,210.3 524.6,210.5 526.9,210.8 529.2,211.0 531.4,211.3 533.7,211.5 536.0,211.8 538.3,212.0 540.5,212.3 542.8,212.5 545.1,212.7" fill="none" stroke="#f40000" stroke-width="1.3"/>
<polyline points="47.0,199.5 49.3,199.3 51.5,199.1 53.8,198.9 56.1,198.8 58.4,198.6 60.6,198.5 62.9,198.3 65.2,198.2 67.5,198.1 69.7,197.9 72.0,197.8 74.3,197.7 76.6,197.6 78.8,197.6 81.1,197.5 83.4,197.4 85.7,197.4 87.9,197.3 90.2,197.3 92.5,197.2 94.8,197.2 97.0,197.2 99.3,197.2 101.6,197.2 103.9,197.2 106.1,197.2 108.4,197.2 110.7,197.2 113.0,197.2 115.2,197.2 117.5,197.2 119.8,197.3 122.1,197.3 124.3,197.3 126.6,197.2 128.9,197.2 131.2,197.2 133.4,197.2 135.7,197.1 138.0,197.1 140.2,197.1 142.5,197.1 144.8,197.0 147.1,197.0 149.3,197.0 151.6,197.0 153.9,196.9 156.2,196.9 158.4,196.9 160.7,196.8 163.0,196.8 165.3,196.7 167.5,196.7 169.8,196.6 172.1,196.6 174.4,196.5 176.6,196.5 178.9,196.4 181.2,196.3 183.5,196.3 185.7,196.2 188.0,196.1 190.3,196.0 192.6,195.9 194.8,195.8 197.1,195.7 199.4,195.6 201.7,195.5 203.9,195.4 206.2,195.3 208.5,195.2 210.8,195.1 213.0,195.0 215.3,194.9 217.6,194.8 219.9,194.6 222.1,194.5 224.4,194.4 226.7,194.4 229.0,194.3 231.2,194.3 233.5,194.2 235.8,194.1 238.0,194.1 240.3,194.0 242.6,194.0 244.9,193.9 247.1,193.9 249.4,193.8 251.7,193.8 254.0,193.7 256.2,193.7 258.5,193.7 260.8,193.6 263.1,193.6 265.3,193.6 267.6,193.6 269.9,193.5 272.2,193.5 274.4,193.5 276.7,193.5 279.0,193.5 281.3,193.5 283.5,193.5 285.8,193.5 288.1,193.6 290.4,193.6 292.6,193.6 294.9,193.6 297.2,193.7 299.5,193.7 301.7,193.7 304.0,193.8 306.3,193.8 308.6,193.9 310.8,193.9 313.1,194.0 315.4,194.0 317.7,194.1 319.9,194.1 322.2,194.2 324.5,194.3 326.7,194.6 329.0,194.8 331.3,195.0 333.6,195.2 335.8,195.4 338.1,195.6 340.4,195.9 342.7,196.1 344.9,196.3 347.2,196.5 349.5,196.7 351.8,196.9 354.0,197.1 356.3,197.3 358.6,197.5 360.9,197.7 363.1,197.9 365.4,198.1 367.7,198.3 370.0,198.5 372.2,198.7 374.5,198.8 376.8,198.8 379.1,198.9 381.3,198.9 383.6,199.0 385.9,199.0 388.2,199.1 390.4,199.1 392.7,199.1 395.0,199.2 397.3,199.2 399.5,199.2 401.8,199.2 404.1,199.2 406.4,199.2 408.6,199.2 410.9,199.3 413.2,199.3 415.4,199.3 417.7,199.3 420.0,199.3 422.3,199.3 424.5,199.3 426.8,199.3 429.1,199.3 431.4,199.3 433.6,199.3 435.9,199.3 438.2,199.3 440.5,199.3 442.7,199.3 445.0,199.3 447.3,199.4 449.6,199.4 451.8,199.4 454.1,199.4 456.4,199.5 458.7,199.5 460.9,199.5 463.2,199.6 465.5,199.6 467.8,199.7 470.0,199.7 472.3,199.8 474.6,199.9 476.9,199.9 479.1,200.0 481.4,200.1 483.7,200.2 486.0,200.3 488.2,200.3 490.5,200.4 492.8,200.5 495.1,200.6 497.3,200.7 499.6,200.8 501.9,201.0 504.1,201.1 506.4,201.2 508.7,201.3 511.0,201.4 513.2,201.6 515.5,201.7 517.8,201.8 520.1,201.9 522.3,202.1 524.6,202.2 526.9,202.3 529.2,202.5 531.4,202.6 533.7,202.7 536.0,202.8 538.3,203.0 540.5,203.1 542.8,203.2 545.1,203.3" fill="none" stroke="#f40000" stroke-width="1.3"/>
<polyline points="47.0,206.2 49.3,205.6 51.5,205.1 53.8,204.6 56.1,204.1 58.4,203.6 60.6,203.2 62.9,202.7 65.2,202.3 67.5,202.0 69.7,201.6 72.0,201.3 74.3,201.0 76.6,200.7 78.8,200.4 81.1,200.1 83.4,199.9 85.7,199.7 87.9,199.5 90.2,199.3 92.5,199.1 94.8,198.9 97.0,198.8 99.3,198.6 101.6,198.5 103.9,198.4 106.1,198.3 108.4,198.2 110.7,198.1 113.0,198.0 115.2,197.9 117.5,197.9 119.8,197.8 122.1,197.8 124.3,197.7 126.6,197.6 128.9,197.5 131.2,197.4 133.4,197.4 135.7,197.3 138.0,197.2 140.2,197.2 142.5,197.1 144.8,197.0 147.1,197.0 149.3,196.9 151.6,196.9 153.9,196.8 156.2,196.8 158.4,196.7 160.7,196.7 163.0,196.6 165.3,196.6 167.5,196.5 169.8,196.4 172.1,196.4 174.4,196.3 176.6,196.2 178.9,196.2 181.2,196.1 183.5,196.0 185.7,196.0 188.0,195.9 190.3,195.8 192.6,195.7 194.8,195.6 197.1,195.5 199.4,195.4 201.7,195.3 203.9,195.2 206.2,195.1 208.5,195.0 210.8,194.9 213.0,194.8 215.3,194.7 217.6,194.5 219.9,194.4 222.1,194.3 224.4,194.2 226.7,194.2 229.0,194.1 231.2,194.0 233.5,194.0 235.8,193.9 238.0,193.8 240.3,193.8 242.6,193.7 244.9,193.6 247.1,193.6 249.4,193.5 251.7,193.5 254.0,193.4 256.2,193.4 258.5,193.3 260.8,193.3 263.1,193.2 265.3,193.2 267.6,193.2 269.9,193.1 272.2,193.1 274.4,193.1 276.7,193.0 279.0,193.0 281.3,193.0 283.5,193.0 285.8,193.0 288.1,193.0 290.4,193.0 292.6,193.0 294.9,193.0 297.2,193.1 299.5,193.1 301.7,193.1 304.0,193.1 306.3,193.2 308.6,193.2 310.8,193.3 313.1,193.3 315.4,193.3 317.7,193.4 319.9,193.4 322.2,193.5 324.5,193.6 326.7,193.8 329.0,194.0 331.3,194.2 333.6,194.4 335.8,194.6 338.1,194.8 340.4,195.0 342.7,195.3 344.9,195.5 347.2,195.7 349.5,195.9 351.8,196.1 354.0,196.3 356.3,196.5 358.6,196.7 360.9,196.8 363.1,197.0 365.4,197.2 367.7,197.4 370.0,197.6 372.2,197.8 374.5,197.8 376.8,197.9 379.1,197.9 381.3,198.0 383.6,198.0 385.9,198.0 388.2,198.1 390.4,198.1 392.7,198.1 395.0,198.1 397.3,198.1 399.5,198.2 401.8,198.2 404.1,198.2 406.4,198.2 408.6,198.2 410.9,198.1 413.2,198.1 415.4,198.1 417.7,198.1 420.0,198.1 422.3,198.1 424.5,198.1 426.8,198.0 429.1,198.0 431.4,198.0 433.6,198.0 435.9,198.0 438.2,197.9 440.5,197.9 442.7,197.9 445.0,197.9 447.3,197.9 449.6,197.9 451.8,197.8 454.1,197.8 456.4,197.8 458.7,197.8 460.9,197.8 463.2,197.8 465.5,197.8 467.8,197.9 470.0,197.9 472.3,197.9 474.6,197.9 476.9,197.9 479.1,198.0 481.4,198.0 483.7,198.1 486.0,198.1 488.2,198.2 490.5,198.2 492.8,198.3 495.1,198.3 497.3,198.4 499.6,198.5 501.9,198.5 504.1,198.6 506.4,198.7 508.7,198.8 511.0,198.9 513.2,199.0 515.5,199.1 517.8,199.2 520.1,199.2 522.3,199.3 524.6,199.4 526.9,199.5 529.2,199.6 531.4,199.7 533.7,199.8 536.0,199.9 538.3,200.0 540.5,200.1 542.8,200.2 545.1,200.3" fill="none" stroke="#f40000" stroke-width="1.3"/>
<polyline points="331.3,196.1 333.6,194.4 335.8,192.4 338.1,190.2 340.4,187.6 342.7,184.7 344.9,181.5 347.2,177.8 349.5,173.6 351.8,168.9 354.0,163.7 356.3,158.0 358.6,151.8 360.9,145.0 363.1,137.8 365.4,130.2 367.7,122.3 370.0,114.2 372.2,106.0 374.5,97.9 376.8,90.0 379.1,82.5 381.3,75.5 383.6,69.2 385.9,63.7 388.2,59.3 390.4,55.9 392.7,53.7 395.0,52.7 397.3,53.1 399.5,55.2 401.8,59.1 404.1,64.6 406.4,71.5 408.6,79.4 410.9,88.3 413.2,97.8 415.4,107.5 417.7,117.4 420.0,127.0 422.3,136.3 424.5,145.0 426.8,153.0 429.1,160.3 431.4,166.8 433.6,172.5 435.9,177.3 438.2,181.5 440.5,184.9 442.7,187.8 445.0,190.1 447.3,192.0 449.6,193.4 451.8,194.6 454.1,195.4 456.4,196.1 458.7,196.6" fill="none" stroke="#a81218" stroke-width="0.9"/>
<polyline points="335.8,191.7 338.1,189.6 340.4,187.1 342.7,184.3 344.9,181.1 347.2,177.5 349.5,173.4 351.8,168.9 354.0,163.9 356.3,158.3 358.6,152.3 360.9,145.8 363.1,138.8 365.4,131.6 367.7,124.0 370.0,116.3 372.2,108.5 374.5,100.9 376.8,93.5 379.1,86.5 381.3,80.1 383.6,74.4 385.9,69.6 388.2,65.8 390.4,63.0 392.7,61.4 395.0,61.0 397.3,62.3 399.5,65.6 401.8,70.6 404.1,77.1 406.4,85.0 408.6,93.9 410.9,103.4 413.2,113.3 415.4,123.2 417.7,132.9 420.0,142.1 422.3,150.7 424.5,158.5 426.8,165.5 429.1,171.6 431.4,176.8 433.6,181.2 435.9,184.8 438.2,187.8 440.5,190.2 442.7,192.1 445.0,193.6 447.3,194.7 449.6,195.6 451.8,196.3 454.1,196.8" fill="none" stroke="#a81218" stroke-width="0.9"/>
<polyline points="335.8,193.3 338.1,191.2 340.4,188.8 342.7,186.1 344.9,183.1 347.2,179.6 349.5,175.8 351.8,171.4 354.0,166.6 356.3,161.3 358.6,155.5 360.9,149.3 363.1,142.7 365.4,135.8 367.7,128.5 370.0,121.2 372.2,113.8 374.5,106.5 376.8,99.4 379.1,92.7 381.3,86.6 383.6,81.2 385.9,76.6 388.2,72.9 390.4,70.3 392.7,68.8 395.0,68.4 397.3,69.6 399.5,72.7 401.8,77.5 404.1,83.8 406.4,91.3 408.6,99.7 410.9,108.9 413.2,118.3 415.4,127.8 417.7,137.0 420.0,145.8 422.3,154.0 424.5,161.5 426.8,168.1 429.1,173.9 431.4,178.9 433.6,183.1 435.9,186.6 438.2,189.4 440.5,191.7 442.7,193.5 445.0,194.9 447.3,196.0 449.6,196.9 451.8,197.5 454.1,198.0" fill="none" stroke="#a81218" stroke-width="0.9"/>
<polyline points="335.8,197.0 338.1,195.4 340.4,193.5 342.7,191.4 344.9,189.0 347.2,186.4 349.5,183.4 351.8,180.1 354.0,176.4 356.3,172.4 358.6,168.0 360.9,163.3 363.1,158.3 365.4,153.0 367.7,147.5 370.0,141.9 372.2,136.3 374.5,130.7 376.8,125.4 379.1,120.3 381.3,115.6 383.6,111.5 385.9,108.0 388.2,105.2 390.4,103.2 392.7,102.0 395.0,101.7 397.3,102.7 399.5,105.0 401.8,108.6 404.1,113.4 406.4,119.1 408.6,125.6 410.9,132.5 413.2,139.7 415.4,146.9 417.7,153.9 420.0,160.6 422.3,166.8 424.5,172.5 426.8,177.5 429.1,182.0 431.4,185.7 433.6,188.9 435.9,191.6 438.2,193.7 440.5,195.4 442.7,196.8 445.0,197.9 447.3,198.7 449.6,199.3 451.8,199.8 454.1,200.2" fill="none" stroke="#a81218" stroke-width="0.9"/>
<polyline points="335.8,195.0 338.1,193.5 340.4,191.7 342.7,189.7 344.9,187.6 347.2,185.1 349.5,182.4 351.8,179.3 354.0,175.9 356.3,172.2 358.6,168.1 360.9,163.8 363.1,159.1 365.4,154.2 367.7,149.2 370.0,144.0 372.2,138.8 374.5,133.7 376.8,128.7 379.1,124.0 381.3,119.7 383.6,115.9 385.9,112.6 388.2,110.1 390.4,108.2 392.7,107.1 395.0,106.9 397.3,107.7 399.5,109.9 401.8,113.2 404.1,117.7 406.4,122.9 408.6,128.9 410.9,135.3 413.2,141.9 415.4,148.6 417.7,155.1 420.0,161.3 422.3,167.1 424.5,172.3 426.8,177.0 429.1,181.0 431.4,184.5 433.6,187.5 435.9,189.9 438.2,191.9 440.5,193.5 442.7,194.8 445.0,195.8 447.3,196.5 449.6,197.1 451.8,197.6 454.1,197.9" fill="none" stroke="#a81218" stroke-width="0.9"/>
<polyline points="185.7,198.1 188.0,198.0 190.3,198.0 192.6,197.9 194.8,197.8 197.1,197.8 199.4,197.7 201.7,197.6 203.9,197.5 206.2,197.4 208.5,197.3 210.8,197.1 213.0,196.9 215.3,196.6 217.6,196.2 219.9,195.8 222.1,195.2 224.4,194.4 226.7,193.4 229.0,192.1 231.2,190.6 233.5,188.8 235.8,186.6 238.0,184.0 240.3,181.0 242.6,177.6 244.9,173.9 247.1,169.8 249.4,165.5 251.7,160.9 254.0,156.3 256.2,151.7 258.5,147.4 260.8,143.3 263.1,139.7 265.3,136.7 267.6,134.4 269.9,132.9 272.2,132.3 274.4,132.6 276.7,133.7 279.0,135.6 281.3,138.2 283.5,141.4 285.8,145.2 288.1,149.4 290.4,153.8 292.6,158.3 294.9,162.9 297.2,167.3 299.5,171.6 301.7,175.6 304.0,179.2 306.3,182.5 308.6,185.4 310.8,188.0 313.1,190.2 315.4,192.0 317.7,193.5 319.9,194.8 322.2,195.8 324.5,196.6 326.7,197.2 329.0,197.7 331.3,198.0 333.6,198.3 335.8,198.5 338.1,198.6 340.4,198.7 342.7,198.8 344.9,198.8 347.2,198.9" fill="none" stroke="#a81218" stroke-width="0.9"/>
<polyline points="185.7,195.8 188.0,195.8 190.3,195.7 192.6,195.6 194.8,195.6 197.1,195.5 199.4,195.4 201.7,195.3 203.9,195.2 206.2,195.1 208.5,195.0 210.8,194.8 213.0,194.5 215.3,194.2 217.6,193.8 219.9,193.2 222.1,192.5 224.4,191.6 226.7,190.4 229.0,188.9 231.2,187.1 233.5,184.9 235.8,182.2 238.0,179.1 240.3,175.6 242.6,171.6 244.9,167.1 247.1,162.2 249.4,157.0 251.7,151.6 254.0,146.1 256.2,140.6 258.5,135.4 260.8,130.5 263.1,126.2 265.3,122.6 267.6,119.9 269.9,118.1 272.2,117.3 274.4,117.6 276.7,118.9 279.0,121.0 281.3,123.9 283.5,127.6 285.8,131.9 288.1,136.6 290.4,141.6 292.6,146.9 294.9,152.1 297.2,157.3 299.5,162.3 301.7,167.1 304.0,171.4 306.3,175.4 308.6,179.0 310.8,182.2 313.1,184.9 315.4,187.2 317.7,189.2 319.9,190.8 322.2,192.2 324.5,193.2 326.7,194.1 329.0,194.8 331.3,195.3 333.6,195.7 335.8,196.0 338.1,196.2 340.4,196.4 342.7,196.5 344.9,196.5 347.2,196.6" fill="none" stroke="#a81218" stroke-width="0.9"/>
<polyline points="167.5,197.6 169.8,197.5 172.1,197.3 174.4,197.1 176.6,196.9 178.9,196.6 181.2,196.2 183.5,195.8 185.7,195.2 188.0,194.5 190.3,193.7 192.6,192.7 194.8,191.5 197.1,190.2 199.4,188.6 201.7,186.9 203.9,184.9 206.2,182.9 208.5,180.7 210.8,178.5 213.0,176.3 215.3,174.2 217.6,172.2 219.9,170.4 222.1,169.0 224.4,167.8 226.7,167.1 229.0,166.8 231.2,166.9 233.5,167.2 235.8,167.6 238.0,168.2 240.3,169.0 242.6,170.0 244.9,171.1 247.1,172.3 249.4,173.6 251.7,175.0 254.0,176.4 256.2,177.9 258.5,179.4 260.8,180.9 263.1,182.3 265.3,183.8 267.6,185.2 269.9,186.5 272.2,187.8 274.4,189.0 276.7,190.1 279.0,191.1 281.3,192.1 283.5,192.9 285.8,193.7 288.1,194.4 290.4,195.0 292.6,195.6 294.9,196.0 297.2,196.4 299.5,196.8 301.7,197.1 304.0,197.4 306.3,197.6 308.6,197.7 310.8,197.9 313.1,198.0 315.4,198.1 317.7,198.2 319.9,198.2 322.2,198.3 324.5,198.3 326.7,198.3 329.0,198.3 331.3,198.3 333.6,198.3 335.8,198.3 338.1,198.3 340.4,198.2 342.7,198.2 344.9,198.2 347.2,198.2" fill="none" stroke="#a81218" stroke-width="0.9"/>
<polyline points="167.5,197.3 169.8,197.2 172.1,197.0 174.4,196.8 176.6,196.5 178.9,196.1 181.2,195.6 183.5,195.0 185.7,194.2 188.0,193.3 190.3,192.2 192.6,190.9 194.8,189.4 197.1,187.7 199.4,185.9 201.7,183.9 203.9,181.8 206.2,179.7 208.5,177.7 210.8,175.8 213.0,174.0 215.3,172.6 217.6,171.5 219.9,170.8 222.1,170.5 224.4,170.6 226.7,171.1 229.0,171.9 231.2,173.0 233.5,174.4 235.8,176.0 238.0,177.7 240.3,179.6 242.6,181.4 244.9,183.3 247.1,185.2 249.4,187.0 251.7,188.6 254.0,190.1 256.2,191.5 258.5,192.7 260.8,193.8 263.1,194.7 265.3,195.5 267.6,196.2 269.9,196.7 272.2,197.2 274.4,197.5 276.7,197.8 279.0,198.0 281.3,198.2 283.5,198.3 285.8,198.4 288.1,198.5 290.4,198.6 292.6,198.6 294.9,198.6 297.2,198.6 299.5,198.6 301.7,198.6 304.0,198.6 306.3,198.6 308.6,198.6 310.8,198.6 313.1,198.6 315.4,198.5 317.7,198.5 319.9,198.5 322.2,198.4" fill="none" stroke="#a81218" stroke-width="0.9"/>
<polyline points="167.5,195.9 169.8,195.8 172.1,195.6 174.4,195.3 176.6,195.0 178.9,194.7 181.2,194.2 183.5,193.7 185.7,193.0 188.0,192.1 190.3,191.2 192.6,190.0 194.8,188.7 197.1,187.3 199.4,185.7 201.7,183.9 203.9,182.1 206.2,180.2 208.5,178.2 210.8,176.3 213.0,174.5 215.3,172.8 217.6,171.2 219.9,169.8 222.1,168.5 224.4,167.4 226.7,166.5 229.0,165.7 231.2,165.1 233.5,164.5 235.8,163.7 238.0,162.7 240.3,161.4 242.6,159.5 244.9,157.2 247.1,154.3 249.4,150.9 251.7,147.1 254.0,142.9 256.2,138.6 258.5,134.3 260.8,130.2 263.1,126.5 265.3,123.5 267.6,121.2 269.9,119.9 272.2,119.6 274.4,120.3 276.7,122.0 279.0,124.7 281.3,128.2 283.5,132.4 285.8,137.1 288.1,142.3 290.4,147.7 292.6,153.2 294.9,158.6 297.2,163.8 299.5,168.7 301.7,173.2 304.0,177.3 306.3,180.9 308.6,184.0 310.8,186.6 313.1,188.9 315.4,190.7 317.7,192.2 319.9,193.4 322.2,194.3 324.5,195.0 326.7,195.5 329.0,195.9 331.3,196.2 333.6,196.3 335.8,196.5 338.1,196.5 340.4,196.6 342.7,196.6 344.9,196.6 347.2,196.6" fill="none" stroke="#a81218" stroke-width="0.9"/>
<polyline points="317.7,198.8 319.9,198.8 322.2,198.7 324.5,198.6 326.7,198.4 329.0,198.2 331.3,197.9 333.6,197.5 335.8,197.0 338.1,196.3 340.4,195.6 342.7,194.7 344.9,193.6 347.2,192.5 349.5,191.1 351.8,189.7 354.0,188.1 356.3,186.4 358.6,184.7 360.9,182.9 363.1,181.2 365.4,179.6 367.7,178.1 370.0,176.7 372.2,175.6 374.5,174.8 376.8,174.3 379.1,174.0 381.3,174.1 383.6,174.5 385.9,175.2 388.2,176.0 390.4,177.2 392.7,178.5 395.0,179.9 397.3,181.4 399.5,183.0 401.8,184.7 404.1,186.3 406.4,187.8 408.6,189.3 410.9,190.7 413.2,191.9 415.4,193.1 417.7,194.1 420.0,195.0 422.3,195.8 424.5,196.4 426.8,197.0 429.1,197.5 431.4,197.9 433.6,198.2 435.9,198.4 438.2,198.6 440.5,198.8 442.7,199.0 445.0,199.1 447.3,199.2 449.6,199.3 451.8,199.4 454.1,199.4 456.4,199.5 458.7,199.6" fill="none" stroke="#a81218" stroke-width="0.9"/>
<polyline points="317.7,196.3 319.9,196.4 322.2,196.4 324.5,196.4 326.7,196.5 329.0,196.5 331.3,196.5 333.6,196.4 335.8,196.4 338.1,196.2 340.4,196.0 342.7,195.7 344.9,195.3 347.2,194.9 349.5,194.3 351.8,193.6 354.0,192.8 356.3,191.8 358.6,190.8 360.9,189.6 363.1,188.4 365.4,187.2 367.7,185.9 370.0,184.7 372.2,183.5 374.5,182.5 376.8,181.7 379.1,181.0 381.3,180.6 383.6,180.4 385.9,180.5 388.2,180.8 390.4,181.4 392.7,182.2 395.0,183.2 397.3,184.4 399.5,185.6 401.8,186.9 404.1,188.3 406.4,189.6 408.6,190.8 410.9,192.0 413.2,193.1 415.4,194.1 417.7,194.9 420.0,195.7 422.3,196.3 424.5,196.8 426.8,197.3 429.1,197.6 431.4,197.9 433.6,198.1 435.9,198.2 438.2,198.4 440.5,198.5 442.7,198.5 445.0,198.6 447.3,198.6 449.6,198.7 451.8,198.7 454.1,198.7 456.4,198.8 458.7,198.8" fill="none" stroke="#a81218" stroke-width="0.9"/>
<polyline points="317.7,199.8 319.9,199.6 322.2,199.4 324.5,199.3 326.7,199.1 329.0,199.0 331.3,198.9 333.6,198.8 335.8,198.6 338.1,198.5 340.4,198.4 342.7,198.2 344.9,198.0 347.2,197.7 349.5,197.5 351.8,197.1 354.0,196.7 356.3,196.2 358.6,195.6 360.9,195.0 363.1,194.3 365.4,193.5 367.7,192.6 370.0,191.8 372.2,190.9 374.5,190.0 376.8,189.2 379.1,188.5 381.3,187.9 383.6,187.5 385.9,187.2 388.2,187.2 390.4,187.2 392.7,187.5 395.0,187.9 397.3,188.5 399.5,189.1 401.8,189.9 404.1,190.7 406.4,191.5 408.6,192.3 410.9,193.2 413.2,193.9 415.4,194.7 417.7,195.4 420.0,196.0 422.3,196.5 424.5,196.9 426.8,197.3 429.1,197.7 431.4,197.9 433.6,198.1 435.9,198.3 438.2,198.5 440.5,198.6 442.7,198.7 445.0,198.8 447.3,198.9 449.6,199.0 451.8,199.0 454.1,199.1 456.4,199.2 458.7,199.2" fill="none" stroke="#a81218" stroke-width="0.9"/>
<polyline points="317.7,200.4 319.9,200.1 322.2,199.9 324.5,199.6 326.7,199.4 329.0,199.2 331.3,199.0 333.6,198.8 335.8,198.7 338.1,198.5 340.4,198.3 342.7,198.2 344.9,198.0 347.2,197.8 349.5,197.6 351.8,197.3 354.0,197.0 356.3,196.6 358.6,196.3 360.9,195.8 363.1,195.3 365.4,194.8 367.7,194.2 370.0,193.6 372.2,193.0 374.5,192.4 376.8,191.9 379.1,191.4 381.3,191.1 383.6,190.8 385.9,190.6 388.2,190.6 390.4,190.7 392.7,190.9 395.0,191.3 397.3,191.7 399.5,192.2 401.8,192.7 404.1,193.3 406.4,193.9 408.6,194.5 410.9,195.1 413.2,195.7 415.4,196.2 417.7,196.7 420.0,197.2 422.3,197.5 424.5,197.9 426.8,198.1 429.1,198.4 431.4,198.6 433.6,198.7 435.9,198.8 438.2,198.9 440.5,199.0 442.7,199.1 445.0,199.1 447.3,199.2 449.6,199.2 451.8,199.2 454.1,199.3 456.4,199.3 458.7,199.3" fill="none" stroke="#a81218" stroke-width="0.9"/>
<polyline points="149.3,196.9 151.6,196.9 153.9,196.9 156.2,196.9 158.4,196.9 160.7,196.9 163.0,196.9 165.3,196.8 167.5,196.8 169.8,196.8 172.1,196.8 174.4,196.7 176.6,196.7 178.9,196.6 181.2,196.6 183.5,196.5 185.7,196.5 188.0,196.4 190.3,196.3 192.6,196.2 194.8,196.1 197.1,195.9 199.4,195.7 201.7,195.5 203.9,195.2 206.2,194.8 208.5,194.4 210.8,193.9 213.0,193.3 215.3,192.5 217.6,191.6 219.9,190.5 222.1,189.2 224.4,187.7 226.7,185.9 229.0,184.0 231.2,181.7 233.5,179.3 235.8,176.6 238.0,173.7 240.3,170.6 242.6,167.3 244.9,164.0 247.1,160.6 249.4,157.2 251.7,154.0 254.0,150.9 256.2,148.1 258.5,145.6 260.8,143.5 263.1,141.8 265.3,140.7 267.6,140.1 269.9,140.1 272.2,140.6 274.4,141.7 276.7,143.4 279.0,145.6 281.3,148.1 283.5,151.0 285.8,154.2 288.1,157.6 290.4,161.1 292.6,164.6 294.9,168.0 297.2,171.4 299.5,174.5 301.7,177.5 304.0,180.2 306.3,182.7 308.6,184.9 310.8,186.8 313.1,188.5 315.4,190.0 317.7,191.2 319.9,192.2 322.2,193.1 324.5,193.8 326.7,194.4 329.0,194.9 331.3,195.3 333.6,195.6 335.8,195.8 338.1,196.0 340.4,196.2 342.7,196.3 344.9,196.4 347.2,196.5 349.5,196.6 351.8,196.7 354.0,196.7 356.3,196.8 358.6,196.8 360.9,196.8 363.1,196.8 365.4,196.9 367.7,196.9 370.0,196.9 372.2,196.9 374.5,196.9 376.8,196.9 379.1,196.9 381.3,196.9 383.6,196.9 385.9,196.8 388.2,196.8 390.4,196.8 392.7,196.8 395.0,196.8 397.3,196.7 399.5,196.7 401.8,196.7 404.1,196.6 406.4,196.6 408.6,196.6 410.9,196.5 413.2,196.5 415.4,196.5 417.7,196.5 420.0,196.4 422.3,196.4 424.5,196.4 426.8,196.3 429.1,196.3 431.4,196.3 433.6,196.3 435.9,196.3 438.2,196.3 440.5,196.3 442.7,196.3 445.0,196.3 447.3,196.3 449.6,196.3 451.8,196.3 454.1,196.3 456.4,196.3 458.7,196.4 460.9,196.4 463.2,196.4 465.5,196.5 467.8,196.5 470.0,196.6 472.3,196.6 474.6,196.7 476.9,196.7 479.1,196.8 481.4,196.9 483.7,196.9 486.0,197.0 488.2,197.1 490.5,197.2 492.8,197.2 495.1,197.3 497.3,197.4" fill="none" stroke="#2aa868" stroke-width="0.9"/>
<polyline points="149.3,198.7 151.6,198.6 153.9,198.6 156.2,198.5 158.4,198.4 160.7,198.4 163.0,198.3 165.3,198.2 167.5,198.2 169.8,198.1 172.1,198.0 174.4,197.9 176.6,197.9 178.9,197.8 181.2,197.7 183.5,197.6 185.7,197.5 188.0,197.4 190.3,197.3 192.6,197.2 194.8,197.1 197.1,196.9 199.4,196.7 201.7,196.5 203.9,196.3 206.2,196.0 208.5,195.7 210.8,195.3 213.0,194.9 215.3,194.3 217.6,193.7 219.9,193.0 222.1,192.2 224.4,191.3 226.7,190.2 229.0,189.1 231.2,187.8 233.5,186.5 235.8,185.0 238.0,183.5 240.3,181.9 242.6,180.3 244.9,178.6 247.1,177.0 249.4,175.4 251.7,173.9 254.0,172.6 256.2,171.3 258.5,170.3 260.8,169.5 263.1,168.9 265.3,168.5 267.6,168.4 269.9,168.6 272.2,169.0 274.4,169.6 276.7,170.4 279.0,171.5 281.3,172.7 283.5,174.0 285.8,175.5 288.1,177.0 290.4,178.6 292.6,180.3 294.9,181.9 297.2,183.5 299.5,185.1 301.7,186.6 304.0,188.0 306.3,189.3 308.6,190.5 310.8,191.6 313.1,192.6 315.4,193.5 317.7,194.3 319.9,195.0 322.2,195.6 324.5,196.1 326.7,196.5 329.0,196.9 331.3,197.2 333.6,197.5 335.8,197.7 338.1,197.8 340.4,198.0 342.7,198.1 344.9,198.1 347.2,198.2 349.5,198.2 351.8,198.2 354.0,198.2 356.3,198.2 358.6,198.2 360.9,198.2 363.1,198.2 365.4,198.2 367.7,198.1 370.0,198.1 372.2,198.1 374.5,198.1 376.8,198.0 379.1,198.0 381.3,198.0 383.6,197.9 385.9,197.9 388.2,197.9 390.4,197.8 392.7,197.8 395.0,197.8 397.3,197.8 399.5,197.7 401.8,197.7 404.1,197.7 406.4,197.7 408.6,197.7 410.9,197.7 413.2,197.7 415.4,197.7 417.7,197.7 420.0,197.7 422.3,197.7 424.5,197.7 426.8,197.8 429.1,197.8 431.4,197.8 433.6,197.9 435.9,197.9 438.2,197.9 440.5,198.0 442.7,198.0 445.0,198.1 447.3,198.2 449.6,198.2 451.8,198.3 454.1,198.4 456.4,198.4 458.7,198.5 460.9,198.6 463.2,198.7 465.5,198.8 467.8,198.9 470.0,198.9 472.3,199.0 474.6,199.1 476.9,199.2 479.1,199.3 481.4,199.4 483.7,199.5 486.0,199.6 488.2,199.6 490.5,199.7 492.8,199.8 495.1,199.9 497.3,200.0" fill="none" stroke="#2aa868" stroke-width="0.9"/>
<polyline points="149.3,199.2 151.6,199.1 153.9,199.0 156.2,198.9 158.4,198.9 160.7,198.8 163.0,198.8 165.3,198.7 167.5,198.7 169.8,198.6 172.1,198.6 174.4,198.6 176.6,198.5 178.9,198.5 181.2,198.5 183.5,198.5 185.7,198.5 188.0,198.5 190.3,198.5 192.6,198.5 194.8,198.5 197.1,198.6 199.4,198.6 201.7,198.6 203.9,198.7 206.2,198.7 208.5,198.8 210.8,198.9 213.0,198.9 215.3,199.0 217.6,199.1 219.9,199.2 222.1,199.3 224.4,199.3 226.7,199.4 229.0,199.5 231.2,199.6 233.5,199.7 235.8,199.8 238.0,199.9 240.3,200.0 242.6,200.1 244.9,200.2 247.1,200.3 249.4,200.4 251.7,200.5 254.0,200.6 256.2,200.7 258.5,200.8 260.8,200.9 263.1,200.9 265.3,201.0 267.6,201.0 269.9,201.1 272.2,201.1 274.4,201.2 276.7,201.2 279.0,201.2 281.3,201.2 283.5,201.2 285.8,201.2 288.1,201.2 290.4,201.1 292.6,201.1 294.9,201.0 297.2,201.0 299.5,200.9 301.7,200.8 304.0,200.7 306.3,200.5 308.6,200.4 310.8,200.2 313.1,200.0 315.4,199.8 317.7,199.5 319.9,199.2 322.2,198.8 324.5,198.4 326.7,198.0 329.0,197.4 331.3,196.8 333.6,196.1 335.8,195.2 338.1,194.3 340.4,193.2 342.7,191.9 344.9,190.6 347.2,189.0 349.5,187.4 351.8,185.6 354.0,183.6 356.3,181.6 358.6,179.4 360.9,177.2 363.1,174.9 365.4,172.6 367.7,170.4 370.0,168.2 372.2,166.1 374.5,164.1 376.8,162.4 379.1,160.8 381.3,159.6 383.6,158.6 385.9,157.9 388.2,157.6 390.4,157.6 392.7,158.0 395.0,158.7 397.3,159.8 399.5,161.2 401.8,162.9 404.1,164.8 406.4,166.9 408.6,169.2 410.9,171.6 413.2,174.0 415.4,176.4 417.7,178.8 420.0,181.1 422.3,183.3 424.5,185.4 426.8,187.3 429.1,189.1 431.4,190.7 433.6,192.1 435.9,193.4 438.2,194.6 440.5,195.6 442.7,196.4 445.0,197.2 447.3,197.8 449.6,198.3 451.8,198.8 454.1,199.2 456.4,199.5 458.7,199.7 460.9,200.0 463.2,200.2 465.5,200.3 467.8,200.5 470.0,200.6 472.3,200.7 474.6,200.8 476.9,200.9 479.1,201.0 481.4,201.0 483.7,201.1 486.0,201.1 488.2,201.2 490.5,201.2 492.8,201.3 495.1,201.3 497.3,201.3" fill="none" stroke="#2aa868" stroke-width="0.9"/>
<polyline points="149.3,198.0 151.6,198.0 153.9,197.9 156.2,197.9 158.4,197.9 160.7,197.9 163.0,197.8 165.3,197.8 167.5,197.8 169.8,197.8 172.1,197.9 174.4,197.9 176.6,197.9 178.9,197.9 181.2,198.0 183.5,198.0 185.7,198.1 188.0,198.1 190.3,198.2 192.6,198.3 194.8,198.3 197.1,198.4 199.4,198.5 201.7,198.6 203.9,198.7 206.2,198.8 208.5,198.9 210.8,199.0 213.0,199.1 215.3,199.2 217.6,199.3 219.9,199.4 222.1,199.5 224.4,199.6 226.7,199.7 229.0,199.8 231.2,199.9 233.5,200.0 235.8,200.1 238.0,200.2 240.3,200.3 242.6,200.4 244.9,200.5 247.1,200.6 249.4,200.6 251.7,200.7 254.0,200.8 256.2,200.8 258.5,200.8 260.8,200.9 263.1,200.9 265.3,200.9 267.6,200.9 269.9,200.9 272.2,200.9 274.4,200.9 276.7,200.9 279.0,200.8 281.3,200.8 283.5,200.7 285.8,200.6 288.1,200.5 290.4,200.4 292.6,200.3 294.9,200.2 297.2,200.1 299.5,199.9 301.7,199.7 304.0,199.5 306.3,199.3 308.6,199.1 310.8,198.9 313.1,198.6 315.4,198.3 317.7,198.0 319.9,197.6 322.2,197.2 324.5,196.8 326.7,196.3 329.0,195.8 331.3,195.2 333.6,194.5 335.8,193.8 338.1,193.1 340.4,192.3 342.7,191.4 344.9,190.5 347.2,189.5 349.5,188.5 351.8,187.4 354.0,186.3 356.3,185.2 358.6,184.1 360.9,182.9 363.1,181.9 365.4,180.8 367.7,179.9 370.0,179.0 372.2,178.1 374.5,177.4 376.8,176.9 379.1,176.4 381.3,176.1 383.6,176.0 385.9,176.0 388.2,176.1 390.4,176.5 392.7,177.0 395.0,177.7 397.3,178.6 399.5,179.5 401.8,180.6 404.1,181.8 406.4,183.0 408.6,184.3 410.9,185.6 413.2,186.9 415.4,188.2 417.7,189.4 420.0,190.6 422.3,191.7 424.5,192.8 426.8,193.8 429.1,194.6 431.4,195.5 433.6,196.2 435.9,196.8 438.2,197.4 440.5,197.9 442.7,198.3 445.0,198.7 447.3,199.0 449.6,199.3 451.8,199.5 454.1,199.7 456.4,199.9 458.7,200.0 460.9,200.1 463.2,200.2 465.5,200.3 467.8,200.4 470.0,200.4 472.3,200.4 474.6,200.5 476.9,200.5 479.1,200.5 481.4,200.5 483.7,200.5 486.0,200.5 488.2,200.5 490.5,200.5 492.8,200.5 495.1,200.5 497.3,200.4" fill="none" stroke="#2aa868" stroke-width="0.9"/>
<polyline points="47.0,205.0 49.3,204.6 51.5,204.3 53.8,204.1 56.1,203.8 58.4,203.5 60.6,203.3 62.9,203.1 65.2,202.8 67.5,202.7 69.7,202.5 72.0,202.3 74.3,202.1 76.6,202.0 78.8,201.9 81.1,201.7 83.4,201.6 85.7,201.5 87.9,201.4 90.2,201.4 92.5,201.3 94.8,201.2 97.0,201.2 99.3,201.1 101.6,201.1 103.9,201.1 106.1,201.0 108.4,201.0 110.7,201.0 113.0,201.0 115.2,201.0 117.5,201.0 119.8,201.0 122.1,201.0 124.3,201.0 126.6,201.0 128.9,201.0 131.2,201.0 133.4,201.0 135.7,201.0 138.0,201.0 140.2,201.0 142.5,201.0 144.8,201.0 147.1,201.0 149.3,201.0 151.6,201.0 153.9,200.9 156.2,200.9 158.4,200.9 160.7,200.9 163.0,200.9 165.3,200.8 167.5,200.8 169.8,200.7 172.1,200.7 174.4,200.7 176.6,200.6 178.9,200.5 181.2,200.5 183.5,200.4 185.7,200.4 188.0,200.3 190.3,200.2 192.6,200.1 194.8,200.1 197.1,200.0 199.4,199.9 201.7,199.8 203.9,199.7 206.2,199.6 208.5,199.6 210.8,199.5 213.0,199.4 215.3,199.3 217.6,199.2 219.9,199.1 222.1,199.1 224.4,199.0 226.7,198.9 229.0,198.8 231.2,198.8 233.5,198.7 235.8,198.6 238.0,198.6 240.3,198.5 242.6,198.5 244.9,198.4 247.1,198.4 249.4,198.3 251.7,198.3 254.0,198.3 256.2,198.2 258.5,198.2 260.8,198.2 263.1,198.2 265.3,198.2 267.6,198.2 269.9,198.2 272.2,198.3 274.4,198.3 276.7,198.3 279.0,198.3 281.3,198.4 283.5,198.4 285.8,198.5 288.1,198.5 290.4,198.6 292.6,198.6 294.9,198.7 297.2,198.7 299.5,198.8 301.7,198.9 304.0,198.9 306.3,199.0 308.6,199.1 310.8,199.1 313.1,199.2 315.4,199.3 317.7,199.4 319.9,199.4 322.2,199.5 324.5,199.6 326.7,199.7 329.0,199.8 331.3,199.9 333.6,200.0 335.8,200.1 338.1,200.2 340.4,200.3 342.7,200.3 344.9,200.4 347.2,200.5 349.5,200.6 351.8,200.6 354.0,200.7 356.3,200.7 358.6,200.8 360.9,200.8 363.1,200.8 365.4,200.9 367.7,200.9 370.0,200.9 372.2,200.9 374.5,200.9 376.8,201.0 379.1,201.0 381.3,201.0 383.6,200.9 385.9,200.9 388.2,200.9 390.4,200.9 392.7,200.9 395.0,200.9 397.3,200.8 399.5,200.8 401.8,200.8 404.1,200.7 406.4,200.7 408.6,200.7 410.9,200.6 413.2,200.6 415.4,200.6 417.7,200.5 420.0,200.5 422.3,200.5 424.5,200.5 426.8,200.4 429.1,200.4 431.4,200.4 433.6,200.4 435.9,200.4 438.2,200.4 440.5,200.4 442.7,200.4 445.0,200.4 447.3,200.4 449.6,200.4 451.8,200.4 454.1,200.5 456.4,200.5 458.7,200.5 460.9,200.6 463.2,200.6 465.5,200.7 467.8,200.7 470.0,200.8 472.3,200.9 474.6,200.9 476.9,201.0 479.1,201.1 481.4,201.2 483.7,201.3 486.0,201.4 488.2,201.5 490.5,201.6 492.8,201.7 495.1,201.8 497.3,201.9 499.6,202.0 501.9,202.1 504.1,202.2 506.4,202.3 508.7,202.4 511.0,202.6 513.2,202.7 515.5,202.8 517.8,202.9 520.1,203.0 522.3,203.1 524.6,203.2 526.9,203.3 529.2,203.4 531.4,203.5 533.7,203.6 536.0,203.7 538.3,203.8 540.5,203.9 542.8,203.9 545.1,204.0" fill="none" stroke="#8e8a28" stroke-width="1.3"/>
<polyline points="47.0,206.2 49.3,205.9 51.5,205.7 53.8,205.4 56.1,205.2 58.4,205.0 60.6,204.8 62.9,204.6 65.2,204.4 67.5,204.3 69.7,204.1 72.0,204.0 74.3,203.9 76.6,203.8 78.8,203.7 81.1,203.6 83.4,203.5 85.7,203.4 87.9,203.3 90.2,203.3 92.5,203.2 94.8,203.2 97.0,203.1 99.3,203.1 101.6,203.0 103.9,203.0 106.1,203.0 108.4,202.9 110.7,202.9 113.0,202.9 115.2,202.8 117.5,202.8 119.8,202.7 122.1,202.7 124.3,202.7 126.6,202.6 128.9,202.6 131.2,202.5 133.4,202.5 135.7,202.5 138.0,202.4 140.2,202.4 142.5,202.3 144.8,202.3 147.1,202.2 149.3,202.1 151.6,202.1 153.9,202.0 156.2,202.0 158.4,201.9 160.7,201.8 163.0,201.7 165.3,201.7 167.5,201.6 169.8,201.5 172.1,201.5 174.4,201.4 176.6,201.3 178.9,201.2 181.2,201.2 183.5,201.1 185.7,201.0 188.0,201.0 190.3,200.9 192.6,200.8 194.8,200.8 197.1,200.7 199.4,200.6 201.7,200.6 203.9,200.5 206.2,200.5 208.5,200.4 210.8,200.4 213.0,200.3 215.3,200.3 217.6,200.3 219.9,200.3 222.1,200.2 224.4,200.2 226.7,200.2 229.0,200.2 231.2,200.2 233.5,200.2 235.8,200.2 238.0,200.2 240.3,200.2 242.6,200.2 244.9,200.2 247.1,200.3 249.4,200.3 251.7,200.3 254.0,200.4 256.2,200.4 258.5,200.4 260.8,200.5 263.1,200.5 265.3,200.6 267.6,200.6 269.9,200.7 272.2,200.7 274.4,200.8 276.7,200.9 279.0,200.9 281.3,201.0 283.5,201.0 285.8,201.1 288.1,201.1 290.4,201.2 292.6,201.2 294.9,201.3 297.2,201.3 299.5,201.4 301.7,201.4 304.0,201.5 306.3,201.5 308.6,201.6 310.8,201.6 313.1,201.6 315.4,201.6 317.7,201.7 319.9,201.7 322.2,201.7 324.5,201.7 326.7,201.7 329.0,201.7 331.3,201.8 333.6,201.8 335.8,201.8 338.1,201.8 340.4,201.8 342.7,201.8 344.9,201.7 347.2,201.7 349.5,201.7 351.8,201.7 354.0,201.7 356.3,201.6 358.6,201.6 360.9,201.6 363.1,201.5 365.4,201.5 367.7,201.5 370.0,201.4 372.2,201.4 374.5,201.3 376.8,201.3 379.1,201.3 381.3,201.2 383.6,201.2 385.9,201.2 388.2,201.1 390.4,201.1 392.7,201.0 395.0,201.0 397.3,201.0 399.5,201.0 401.8,200.9 404.1,200.9 406.4,200.9 408.6,200.9 410.9,200.9 413.2,200.9 415.4,200.9 417.7,200.9 420.0,200.9 422.3,200.9 424.5,200.9 426.8,200.9 429.1,200.9 431.4,200.9 433.6,201.0 435.9,201.0 438.2,201.0 440.5,201.1 442.7,201.1 445.0,201.2 447.3,201.2 449.6,201.3 451.8,201.4 454.1,201.4 456.4,201.5 458.7,201.6 460.9,201.6 463.2,201.7 465.5,201.8 467.8,201.9 470.0,201.9 472.3,202.0 474.6,202.1 476.9,202.2 479.1,202.3 481.4,202.3 483.7,202.4 486.0,202.5 488.2,202.6 490.5,202.7 492.8,202.7 495.1,202.8 497.3,202.9 499.6,202.9 501.9,203.0 504.1,203.1 506.4,203.1 508.7,203.2 511.0,203.2 513.2,203.3 515.5,203.3 517.8,203.4 520.1,203.4 522.3,203.4 524.6,203.5 526.9,203.5 529.2,203.5 531.4,203.5 533.7,203.5 536.0,203.5 538.3,203.6 540.5,203.6 542.8,203.5 545.1,203.5" fill="none" stroke="#2aa868" stroke-width="0.8"/>
</g>
<rect x="44" y="34.1" width="505.8" height="1.8" fill="#222427"/>
<rect x="43.8" y="34.1" width="1.3" height="205.7" fill="#63676d"/>
<rect x="43.8" y="237.8" width="506" height="2.1" fill="#55595e"/>
<rect x="548.3" y="35" width="1.6" height="204.8" fill="#8a9199"/>
<text transform="translate(243,22) scale(0.66,1)" font-size="14" font-weight="bold" textLength="105.3" lengthAdjust="spacing" fill="#111" stroke="#111" stroke-width="0.35">Melting Peaks</text>
<text x="262" y="272" font-size="14" textLength="69" lengthAdjust="spacingAndGlyphs" fill="#111" stroke="#111" stroke-width="0.2">Temperature (°C)</text>
<text transform="translate(15.9,236.5) rotate(-90)" font-size="7.4" font-weight="bold" textLength="198.5" lengthAdjust="spacingAndGlyphs" fill="#111">-(d/dT) Fluorescence (498-610)</text>
<text x="281.5" y="317" class="ser" font-size="16.5" font-weight="bold" fill="#000">(a)</text>
<text x="281.5" y="641" class="ser" font-size="16.5" font-weight="bold" fill="#000">(b)</text>
<rect x="83.10" y="372.68" width="80.50" height="218.32" fill="url(#p1)" stroke="#000" stroke-width="2.2"/>
<rect x="203.80" y="489.79" width="80.40" height="101.21" fill="url(#p2)" stroke="#000" stroke-width="2.2"/>
<rect x="323.60" y="542.69" width="80.60" height="48.31" fill="url(#p3)" stroke="#000" stroke-width="2.2"/>
<rect x="443.90" y="583.34" width="81.00" height="7.66" fill="url(#p4)" stroke="#000" stroke-width="2.2"/>
<rect x="62" y="363.25" width="3" height="229.1" fill="#000"/>
<rect x="58" y="589.9" width="486.4" height="2.5" fill="#000"/>
<text x="55.5" y="595.2" text-anchor="end" class="dser" font-size="10" textLength="7.4" lengthAdjust="spacingAndGlyphs" fill="#000" stroke="#000" stroke-width="0.3">0</text>
<rect x="58" y="514.39" width="5" height="2.5" fill="#000"/>
<text x="55.5" y="519.6" text-anchor="end" class="dser" font-size="10" textLength="14.8" lengthAdjust="spacingAndGlyphs" fill="#000" stroke="#000" stroke-width="0.3">20</text>
<rect x="58" y="438.83" width="5" height="2.5" fill="#000"/>
<text x="55.5" y="444.1" text-anchor="end" class="dser" font-size="10" textLength="14.8" lengthAdjust="spacingAndGlyphs" fill="#000" stroke="#000" stroke-width="0.3">40</text>
<rect x="58" y="363.27" width="5" height="2.5" fill="#000"/>
<text x="55.5" y="368.5" text-anchor="end" class="dser" font-size="10" textLength="14.8" lengthAdjust="spacingAndGlyphs" fill="#000" stroke="#000" stroke-width="0.3">60</text>
<rect x="121.9" y="592" width="2" height="2.8" fill="#000"/>
<text x="92.4" y="603.6" font-size="9.3" font-weight="bold" textLength="62.3" lengthAdjust="spacingAndGlyphs" fill="#000" stroke="#000" stroke-width="0.3">MTB L4-U</text>
<rect x="242.7" y="592" width="2" height="2.8" fill="#000"/>
<text x="210.2" y="603.6" font-size="9.3" font-weight="bold" textLength="66.9" lengthAdjust="spacingAndGlyphs" fill="#000" stroke="#000" stroke-width="0.3">MTB L4NU</text>
<rect x="363.0" y="592" width="2" height="2.8" fill="#000"/>
<text x="340.0" y="603.6" font-size="9.3" font-weight="bold" textLength="48.0" lengthAdjust="spacingAndGlyphs" fill="#000" stroke="#000" stroke-width="0.3">MTB L3</text>
<rect x="482.6" y="592" width="2" height="2.8" fill="#000"/>
<text x="453.7" y="603.6" font-size="9.3" font-weight="bold" textLength="61.3" lengthAdjust="spacingAndGlyphs" fill="#000" stroke="#000" stroke-width="0.3">Unknown</text>
<text transform="translate(29.5,508.3) rotate(-90)" font-size="14.9" font-weight="bold" textLength="61" lengthAdjust="spacingAndGlyphs" fill="#000" stroke="#000" stroke-width="0.55">% occurence</text>
</svg>
</body></html>
